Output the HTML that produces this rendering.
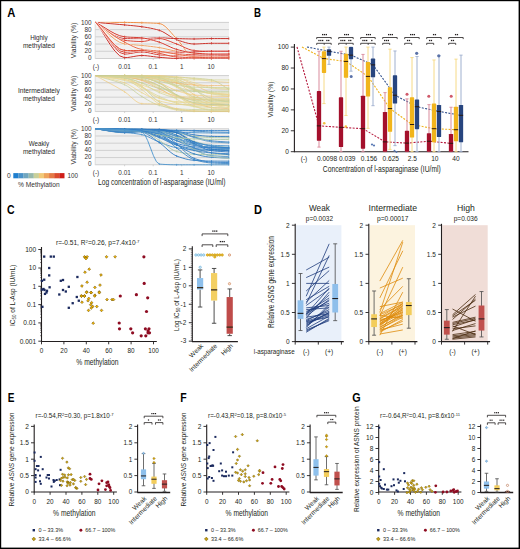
<!DOCTYPE html>
<html><head><meta charset="utf-8"><style>
html,body{margin:0;padding:0;background:#fff;overflow:hidden;}
svg{display:block;}
text{font-family:"Liberation Sans", sans-serif;}
</style></head><body>
<svg width="520" height="549" viewBox="0 0 520 549">
<rect x="0" y="0" width="520" height="549" fill="#fff"/>
<text x="7.30" y="17.20" font-size="12.3" text-anchor="start" fill="#000" font-weight="bold" textLength="8.1" lengthAdjust="spacingAndGlyphs">A</text>
<rect x="95.20" y="22.10" width="133.80" height="36.70" fill="#f1f1f1"/>
<line x1="95.20" y1="22.40" x2="229.00" y2="22.40" stroke="#d0d0d0" stroke-width="1.0"/>
<line x1="95.20" y1="29.62" x2="229.00" y2="29.62" stroke="#d0d0d0" stroke-width="1.0"/>
<line x1="95.20" y1="36.84" x2="229.00" y2="36.84" stroke="#d0d0d0" stroke-width="1.0"/>
<line x1="95.20" y1="44.06" x2="229.00" y2="44.06" stroke="#d0d0d0" stroke-width="1.0"/>
<line x1="95.20" y1="51.28" x2="229.00" y2="51.28" stroke="#d0d0d0" stroke-width="1.0"/>
<line x1="95.20" y1="58.50" x2="229.00" y2="58.50" stroke="#d0d0d0" stroke-width="1.0"/>
<line x1="95.20" y1="22.10" x2="95.20" y2="58.80" stroke="#d6d6d6" stroke-width="0.8"/>
<line x1="124.60" y1="58.50" x2="124.60" y2="60.00" stroke="#bbb" stroke-width="0.6"/>
<line x1="153.20" y1="58.50" x2="153.20" y2="60.00" stroke="#bbb" stroke-width="0.6"/>
<line x1="181.70" y1="58.50" x2="181.70" y2="60.00" stroke="#bbb" stroke-width="0.6"/>
<line x1="211.10" y1="58.50" x2="211.10" y2="60.00" stroke="#bbb" stroke-width="0.6"/>
<text x="91.60" y="24.70" font-size="6.4" text-anchor="end" fill="#333">100</text>
<text x="91.60" y="31.72" font-size="6.4" text-anchor="end" fill="#333">80</text>
<text x="91.60" y="38.74" font-size="6.4" text-anchor="end" fill="#333">60</text>
<text x="91.60" y="45.76" font-size="6.4" text-anchor="end" fill="#333">40</text>
<text x="91.60" y="52.78" font-size="6.4" text-anchor="end" fill="#333">20</text>
<text x="91.60" y="59.80" font-size="6.4" text-anchor="end" fill="#333">0</text>
<text x="96.00" y="68.70" font-size="6.4" text-anchor="middle" fill="#333">(-)</text>
<text x="124.60" y="68.70" font-size="6.4" text-anchor="middle" fill="#333">0.01</text>
<text x="153.00" y="68.70" font-size="6.4" text-anchor="middle" fill="#333">0.1</text>
<text x="181.70" y="68.70" font-size="6.4" text-anchor="middle" fill="#333">1</text>
<text x="211.00" y="68.70" font-size="6.4" text-anchor="middle" fill="#333">10</text>
<text x="76.20" y="40.45" font-size="7.6" text-anchor="middle" fill="#2a2a2a" textLength="35.6" lengthAdjust="spacingAndGlyphs" transform="rotate(-90 76.20 40.45)">Viability (%)</text>
<text x="38.90" y="39.90" font-size="7.0" text-anchor="middle" fill="#2a2a2a" textLength="17.5" lengthAdjust="spacingAndGlyphs">Highly</text>
<text x="38.90" y="47.70" font-size="7.0" text-anchor="middle" fill="#2a2a2a" textLength="32" lengthAdjust="spacingAndGlyphs">methylated</text>
<rect x="95.20" y="75.30" width="133.80" height="36.55" fill="#f1f1f1"/>
<line x1="95.20" y1="75.60" x2="229.00" y2="75.60" stroke="#d0d0d0" stroke-width="1.0"/>
<line x1="95.20" y1="82.79" x2="229.00" y2="82.79" stroke="#d0d0d0" stroke-width="1.0"/>
<line x1="95.20" y1="89.98" x2="229.00" y2="89.98" stroke="#d0d0d0" stroke-width="1.0"/>
<line x1="95.20" y1="97.17" x2="229.00" y2="97.17" stroke="#d0d0d0" stroke-width="1.0"/>
<line x1="95.20" y1="104.36" x2="229.00" y2="104.36" stroke="#d0d0d0" stroke-width="1.0"/>
<line x1="95.20" y1="111.55" x2="229.00" y2="111.55" stroke="#d0d0d0" stroke-width="1.0"/>
<line x1="95.20" y1="75.30" x2="95.20" y2="111.85" stroke="#d6d6d6" stroke-width="0.8"/>
<line x1="124.60" y1="111.55" x2="124.60" y2="113.05" stroke="#bbb" stroke-width="0.6"/>
<line x1="153.20" y1="111.55" x2="153.20" y2="113.05" stroke="#bbb" stroke-width="0.6"/>
<line x1="181.70" y1="111.55" x2="181.70" y2="113.05" stroke="#bbb" stroke-width="0.6"/>
<line x1="211.10" y1="111.55" x2="211.10" y2="113.05" stroke="#bbb" stroke-width="0.6"/>
<text x="91.60" y="77.90" font-size="6.4" text-anchor="end" fill="#333">100</text>
<text x="91.60" y="84.89" font-size="6.4" text-anchor="end" fill="#333">80</text>
<text x="91.60" y="91.88" font-size="6.4" text-anchor="end" fill="#333">60</text>
<text x="91.60" y="98.87" font-size="6.4" text-anchor="end" fill="#333">40</text>
<text x="91.60" y="105.86" font-size="6.4" text-anchor="end" fill="#333">20</text>
<text x="91.60" y="112.85" font-size="6.4" text-anchor="end" fill="#333">0</text>
<text x="96.00" y="121.75" font-size="6.4" text-anchor="middle" fill="#333">(-)</text>
<text x="124.60" y="121.75" font-size="6.4" text-anchor="middle" fill="#333">0.01</text>
<text x="153.00" y="121.75" font-size="6.4" text-anchor="middle" fill="#333">0.1</text>
<text x="181.70" y="121.75" font-size="6.4" text-anchor="middle" fill="#333">1</text>
<text x="211.00" y="121.75" font-size="6.4" text-anchor="middle" fill="#333">10</text>
<text x="76.20" y="93.57" font-size="7.6" text-anchor="middle" fill="#2a2a2a" textLength="35.6" lengthAdjust="spacingAndGlyphs" transform="rotate(-90 76.20 93.57)">Viability (%)</text>
<text x="38.90" y="93.00" font-size="7.0" text-anchor="middle" fill="#2a2a2a" textLength="42" lengthAdjust="spacingAndGlyphs">Intermediately</text>
<text x="38.90" y="100.50" font-size="7.0" text-anchor="middle" fill="#2a2a2a" textLength="32" lengthAdjust="spacingAndGlyphs">methylated</text>
<rect x="95.20" y="128.50" width="133.80" height="36.55" fill="#f1f1f1"/>
<line x1="95.20" y1="128.80" x2="229.00" y2="128.80" stroke="#d0d0d0" stroke-width="1.0"/>
<line x1="95.20" y1="135.99" x2="229.00" y2="135.99" stroke="#d0d0d0" stroke-width="1.0"/>
<line x1="95.20" y1="143.18" x2="229.00" y2="143.18" stroke="#d0d0d0" stroke-width="1.0"/>
<line x1="95.20" y1="150.37" x2="229.00" y2="150.37" stroke="#d0d0d0" stroke-width="1.0"/>
<line x1="95.20" y1="157.56" x2="229.00" y2="157.56" stroke="#d0d0d0" stroke-width="1.0"/>
<line x1="95.20" y1="164.75" x2="229.00" y2="164.75" stroke="#d0d0d0" stroke-width="1.0"/>
<line x1="95.20" y1="128.50" x2="95.20" y2="165.05" stroke="#d6d6d6" stroke-width="0.8"/>
<line x1="124.60" y1="164.75" x2="124.60" y2="166.25" stroke="#bbb" stroke-width="0.6"/>
<line x1="153.20" y1="164.75" x2="153.20" y2="166.25" stroke="#bbb" stroke-width="0.6"/>
<line x1="181.70" y1="164.75" x2="181.70" y2="166.25" stroke="#bbb" stroke-width="0.6"/>
<line x1="211.10" y1="164.75" x2="211.10" y2="166.25" stroke="#bbb" stroke-width="0.6"/>
<text x="91.60" y="131.10" font-size="6.4" text-anchor="end" fill="#333">100</text>
<text x="91.60" y="138.09" font-size="6.4" text-anchor="end" fill="#333">80</text>
<text x="91.60" y="145.08" font-size="6.4" text-anchor="end" fill="#333">60</text>
<text x="91.60" y="152.07" font-size="6.4" text-anchor="end" fill="#333">40</text>
<text x="91.60" y="159.06" font-size="6.4" text-anchor="end" fill="#333">20</text>
<text x="91.60" y="166.05" font-size="6.4" text-anchor="end" fill="#333">0</text>
<text x="96.00" y="174.95" font-size="6.4" text-anchor="middle" fill="#333">(-)</text>
<text x="124.60" y="174.95" font-size="6.4" text-anchor="middle" fill="#333">0.01</text>
<text x="153.00" y="174.95" font-size="6.4" text-anchor="middle" fill="#333">0.1</text>
<text x="181.70" y="174.95" font-size="6.4" text-anchor="middle" fill="#333">1</text>
<text x="211.00" y="174.95" font-size="6.4" text-anchor="middle" fill="#333">10</text>
<text x="76.20" y="146.78" font-size="7.6" text-anchor="middle" fill="#2a2a2a" textLength="35.6" lengthAdjust="spacingAndGlyphs" transform="rotate(-90 76.20 146.78)">Viability (%)</text>
<text x="38.90" y="146.00" font-size="7.0" text-anchor="middle" fill="#2a2a2a" textLength="20.5" lengthAdjust="spacingAndGlyphs">Weakly</text>
<text x="38.90" y="153.50" font-size="7.0" text-anchor="middle" fill="#2a2a2a" textLength="32" lengthAdjust="spacingAndGlyphs">methylated</text>
<text x="98.00" y="185.40" font-size="8.8" text-anchor="start" fill="#231f20" textLength="127.5" lengthAdjust="spacingAndGlyphs">Log concentration of l-asparaginase (IU/ml)</text>
<rect x="13.30" y="173.10" width="5.20" height="5.20" fill="#1f7fcf"/>
<rect x="18.41" y="173.10" width="5.20" height="5.20" fill="#4a92c8"/>
<rect x="23.52" y="173.10" width="5.20" height="5.20" fill="#70a6bf"/>
<rect x="28.63" y="173.10" width="5.20" height="5.20" fill="#97b8ab"/>
<rect x="33.74" y="173.10" width="5.20" height="5.20" fill="#c8d09a"/>
<rect x="38.85" y="173.10" width="5.20" height="5.20" fill="#f1c979"/>
<rect x="43.96" y="173.10" width="5.20" height="5.20" fill="#eea35c"/>
<rect x="49.07" y="173.10" width="5.20" height="5.20" fill="#e47a46"/>
<rect x="54.18" y="173.10" width="5.20" height="5.20" fill="#db4c2d"/>
<rect x="59.29" y="173.10" width="5.20" height="5.20" fill="#cf1d18"/>
<text x="7.00" y="178.20" font-size="6.6" text-anchor="start" fill="#333">0</text>
<text x="67.40" y="178.20" font-size="6.6" text-anchor="start" fill="#333" textLength="10.5" lengthAdjust="spacingAndGlyphs">100</text>
<text x="18.00" y="186.70" font-size="6.6" text-anchor="start" fill="#333" textLength="41.7" lengthAdjust="spacingAndGlyphs">% Methylation</text>
<g fill="none" stroke-width="1.0" opacity="0.95">
<path d="M95.60,22.40 L100.43,22.40 L105.27,22.40 L110.10,22.40 L114.93,22.40 L119.77,22.40 L124.60,22.40 L127.47,22.42 L130.33,22.46 L133.20,22.52 L136.07,22.60 L138.93,22.68 L141.80,22.76 L144.72,22.84 L147.63,22.92 L150.55,23.01 L153.47,23.13 L156.38,23.28 L159.30,23.48 L162.18,24.37 L165.07,26.36 L167.95,29.11 L170.83,32.29 L173.72,35.57 L176.60,38.60 L179.52,41.95 L182.43,45.96 L185.35,50.09 L188.27,53.78 L191.18,56.50 L194.10,57.68 L197.00,57.89 L199.90,58.07 L202.80,58.21 L205.70,58.32 L208.60,58.38 L211.50,58.40 L214.38,58.40 L217.27,58.40 L220.15,58.40 L223.03,58.40 L225.92,58.40 L228.80,58.40" stroke="#fff" stroke-width="2.2" opacity="0.55"/>
<path d="M95.60,22.40 L100.43,22.40 L105.27,22.40 L110.10,22.40 L114.93,22.40 L119.77,22.40 L124.60,22.40 L127.47,22.42 L130.33,22.46 L133.20,22.52 L136.07,22.60 L138.93,22.68 L141.80,22.76 L144.72,22.84 L147.63,22.92 L150.55,23.01 L153.47,23.13 L156.38,23.28 L159.30,23.48 L162.18,24.37 L165.07,26.36 L167.95,29.11 L170.83,32.29 L173.72,35.57 L176.60,38.60 L179.52,41.95 L182.43,45.96 L185.35,50.09 L188.27,53.78 L191.18,56.50 L194.10,57.68 L197.00,57.89 L199.90,58.07 L202.80,58.21 L205.70,58.32 L208.60,58.38 L211.50,58.40 L214.38,58.40 L217.27,58.40 L220.15,58.40 L223.03,58.40 L225.92,58.40 L228.80,58.40" stroke="#f08a3c"/>
<path d="M124.60,21.30 V23.50" stroke="#f08a3c" stroke-width="0.8"/>
<path d="M141.80,21.66 V23.86" stroke="#f08a3c" stroke-width="0.8"/>
<path d="M159.30,22.38 V24.58" stroke="#f08a3c" stroke-width="0.8"/>
<path d="M176.60,37.50 V39.70" stroke="#f08a3c" stroke-width="0.8"/>
<path d="M194.10,56.58 V58.78" stroke="#f08a3c" stroke-width="0.8"/>
<path d="M211.50,57.30 V59.50" stroke="#f08a3c" stroke-width="0.8"/>
<path d="M228.80,57.30 V59.50" stroke="#f08a3c" stroke-width="0.8"/>
<path d="M95.60,22.40 L100.43,22.81 L105.27,23.22 L110.10,23.63 L114.93,24.04 L119.77,24.47 L124.60,24.92 L127.47,25.19 L130.33,25.45 L133.20,25.73 L136.07,26.02 L138.93,26.35 L141.80,26.72 L144.72,27.15 L147.63,27.63 L150.55,28.17 L153.47,28.79 L156.38,29.51 L159.30,30.32 L162.18,31.47 L165.07,33.08 L167.95,34.91 L170.83,36.77 L173.72,38.43 L176.60,39.68 L179.52,40.69 L182.43,41.68 L185.35,42.58 L188.27,43.32 L191.18,43.82 L194.10,44.00 L197.00,43.95 L199.90,43.81 L202.80,43.64 L205.70,43.47 L208.60,43.33 L211.50,43.28 L214.38,43.28 L217.27,43.28 L220.15,43.28 L223.03,43.28 L225.92,43.28 L228.80,43.28" stroke="#fff" stroke-width="2.2" opacity="0.55"/>
<path d="M95.60,22.40 L100.43,22.81 L105.27,23.22 L110.10,23.63 L114.93,24.04 L119.77,24.47 L124.60,24.92 L127.47,25.19 L130.33,25.45 L133.20,25.73 L136.07,26.02 L138.93,26.35 L141.80,26.72 L144.72,27.15 L147.63,27.63 L150.55,28.17 L153.47,28.79 L156.38,29.51 L159.30,30.32 L162.18,31.47 L165.07,33.08 L167.95,34.91 L170.83,36.77 L173.72,38.43 L176.60,39.68 L179.52,40.69 L182.43,41.68 L185.35,42.58 L188.27,43.32 L191.18,43.82 L194.10,44.00 L197.00,43.95 L199.90,43.81 L202.80,43.64 L205.70,43.47 L208.60,43.33 L211.50,43.28 L214.38,43.28 L217.27,43.28 L220.15,43.28 L223.03,43.28 L225.92,43.28 L228.80,43.28" stroke="#c9281f"/>
<path d="M124.60,23.82 V26.02" stroke="#c9281f" stroke-width="0.8"/>
<path d="M141.80,25.62 V27.82" stroke="#c9281f" stroke-width="0.8"/>
<path d="M159.30,29.22 V31.42" stroke="#c9281f" stroke-width="0.8"/>
<path d="M176.60,38.58 V40.78" stroke="#c9281f" stroke-width="0.8"/>
<path d="M194.10,42.90 V45.10" stroke="#c9281f" stroke-width="0.8"/>
<path d="M211.50,42.18 V44.38" stroke="#c9281f" stroke-width="0.8"/>
<path d="M228.80,42.18 V44.38" stroke="#c9281f" stroke-width="0.8"/>
<path d="M95.60,22.40 L100.43,25.47 L105.27,29.00 L110.10,32.52 L114.93,35.60 L119.77,37.77 L124.60,38.60 L127.47,38.60 L130.33,38.60 L133.20,38.60 L136.07,38.60 L138.93,38.60 L141.80,38.60 L144.72,38.55 L147.63,38.41 L150.55,38.24 L153.47,38.07 L156.38,37.93 L159.30,37.88 L162.18,37.92 L165.07,38.03 L167.95,38.18 L170.83,38.34 L173.72,38.49 L176.60,38.60 L179.52,38.68 L182.43,38.76 L185.35,38.84 L188.27,38.90 L191.18,38.94 L194.10,38.96 L197.00,38.93 L199.90,38.87 L202.80,38.78 L205.70,38.69 L208.60,38.63 L211.50,38.60 L214.38,38.60 L217.27,38.60 L220.15,38.60 L223.03,38.60 L225.92,38.60 L228.80,38.60" stroke="#fff" stroke-width="2.2" opacity="0.55"/>
<path d="M95.60,22.40 L100.43,25.47 L105.27,29.00 L110.10,32.52 L114.93,35.60 L119.77,37.77 L124.60,38.60 L127.47,38.60 L130.33,38.60 L133.20,38.60 L136.07,38.60 L138.93,38.60 L141.80,38.60 L144.72,38.55 L147.63,38.41 L150.55,38.24 L153.47,38.07 L156.38,37.93 L159.30,37.88 L162.18,37.92 L165.07,38.03 L167.95,38.18 L170.83,38.34 L173.72,38.49 L176.60,38.60 L179.52,38.68 L182.43,38.76 L185.35,38.84 L188.27,38.90 L191.18,38.94 L194.10,38.96 L197.00,38.93 L199.90,38.87 L202.80,38.78 L205.70,38.69 L208.60,38.63 L211.50,38.60 L214.38,38.60 L217.27,38.60 L220.15,38.60 L223.03,38.60 L225.92,38.60 L228.80,38.60" stroke="#c4221c"/>
<path d="M124.60,37.50 V39.70" stroke="#c4221c" stroke-width="0.8"/>
<path d="M141.80,37.50 V39.70" stroke="#c4221c" stroke-width="0.8"/>
<path d="M159.30,36.78 V38.98" stroke="#c4221c" stroke-width="0.8"/>
<path d="M176.60,37.50 V39.70" stroke="#c4221c" stroke-width="0.8"/>
<path d="M194.10,37.86 V40.06" stroke="#c4221c" stroke-width="0.8"/>
<path d="M211.50,37.50 V39.70" stroke="#c4221c" stroke-width="0.8"/>
<path d="M228.80,37.50 V39.70" stroke="#c4221c" stroke-width="0.8"/>
<path d="M95.60,22.40 L100.43,25.75 L105.27,29.50 L110.10,33.26 L114.93,36.61 L119.77,39.13 L124.60,40.40 L127.47,40.69 L130.33,40.95 L133.20,41.17 L136.07,41.34 L138.93,41.44 L141.80,41.48 L144.72,41.27 L147.63,40.73 L150.55,40.04 L153.47,39.35 L156.38,38.81 L159.30,38.60 L162.18,38.86 L165.07,39.57 L167.95,40.57 L170.83,41.73 L173.72,42.92 L176.60,44.00 L179.52,45.14 L182.43,46.46 L185.35,47.82 L188.27,49.05 L191.18,49.99 L194.10,50.48 L197.00,50.68 L199.90,50.86 L202.80,51.00 L205.70,51.11 L208.60,51.18 L211.50,51.20 L214.38,51.20 L217.27,51.20 L220.15,51.20 L223.03,51.20 L225.92,51.20 L228.80,51.20" stroke="#fff" stroke-width="2.2" opacity="0.55"/>
<path d="M95.60,22.40 L100.43,25.75 L105.27,29.50 L110.10,33.26 L114.93,36.61 L119.77,39.13 L124.60,40.40 L127.47,40.69 L130.33,40.95 L133.20,41.17 L136.07,41.34 L138.93,41.44 L141.80,41.48 L144.72,41.27 L147.63,40.73 L150.55,40.04 L153.47,39.35 L156.38,38.81 L159.30,38.60 L162.18,38.86 L165.07,39.57 L167.95,40.57 L170.83,41.73 L173.72,42.92 L176.60,44.00 L179.52,45.14 L182.43,46.46 L185.35,47.82 L188.27,49.05 L191.18,49.99 L194.10,50.48 L197.00,50.68 L199.90,50.86 L202.80,51.00 L205.70,51.11 L208.60,51.18 L211.50,51.20 L214.38,51.20 L217.27,51.20 L220.15,51.20 L223.03,51.20 L225.92,51.20 L228.80,51.20" stroke="#d83a2c"/>
<path d="M124.60,39.30 V41.50" stroke="#d83a2c" stroke-width="0.8"/>
<path d="M141.80,40.38 V42.58" stroke="#d83a2c" stroke-width="0.8"/>
<path d="M159.30,37.50 V39.70" stroke="#d83a2c" stroke-width="0.8"/>
<path d="M176.60,42.90 V45.10" stroke="#d83a2c" stroke-width="0.8"/>
<path d="M194.10,49.38 V51.58" stroke="#d83a2c" stroke-width="0.8"/>
<path d="M211.50,50.10 V52.30" stroke="#d83a2c" stroke-width="0.8"/>
<path d="M228.80,50.10 V52.30" stroke="#d83a2c" stroke-width="0.8"/>
<path d="M95.60,22.40 L100.43,26.41 L105.27,30.90 L110.10,35.39 L114.93,39.39 L119.77,42.43 L124.60,44.00 L127.47,44.35 L130.33,44.61 L133.20,44.81 L136.07,44.99 L138.93,45.19 L141.80,45.44 L144.72,45.74 L147.63,46.06 L150.55,46.40 L153.47,46.77 L156.38,47.17 L159.30,47.60 L162.18,48.11 L165.07,48.73 L167.95,49.40 L170.83,50.07 L173.72,50.69 L176.60,51.20 L179.52,51.65 L182.43,52.08 L185.35,52.48 L188.27,52.84 L191.18,53.14 L194.10,53.36 L197.00,53.54 L199.90,53.71 L202.80,53.85 L205.70,53.97 L208.60,54.05 L211.50,54.08 L214.38,54.08 L217.27,54.08 L220.15,54.08 L223.03,54.08 L225.92,54.08 L228.80,54.08" stroke="#fff" stroke-width="2.2" opacity="0.55"/>
<path d="M95.60,22.40 L100.43,26.41 L105.27,30.90 L110.10,35.39 L114.93,39.39 L119.77,42.43 L124.60,44.00 L127.47,44.35 L130.33,44.61 L133.20,44.81 L136.07,44.99 L138.93,45.19 L141.80,45.44 L144.72,45.74 L147.63,46.06 L150.55,46.40 L153.47,46.77 L156.38,47.17 L159.30,47.60 L162.18,48.11 L165.07,48.73 L167.95,49.40 L170.83,50.07 L173.72,50.69 L176.60,51.20 L179.52,51.65 L182.43,52.08 L185.35,52.48 L188.27,52.84 L191.18,53.14 L194.10,53.36 L197.00,53.54 L199.90,53.71 L202.80,53.85 L205.70,53.97 L208.60,54.05 L211.50,54.08 L214.38,54.08 L217.27,54.08 L220.15,54.08 L223.03,54.08 L225.92,54.08 L228.80,54.08" stroke="#f0a060"/>
<path d="M124.60,42.90 V45.10" stroke="#f0a060" stroke-width="0.8"/>
<path d="M141.80,44.34 V46.54" stroke="#f0a060" stroke-width="0.8"/>
<path d="M159.30,46.50 V48.70" stroke="#f0a060" stroke-width="0.8"/>
<path d="M176.60,50.10 V52.30" stroke="#f0a060" stroke-width="0.8"/>
<path d="M194.10,52.26 V54.46" stroke="#f0a060" stroke-width="0.8"/>
<path d="M211.50,52.98 V55.18" stroke="#f0a060" stroke-width="0.8"/>
<path d="M228.80,52.98 V55.18" stroke="#f0a060" stroke-width="0.8"/>
<path d="M95.60,22.40 L100.43,27.68 L105.27,33.68 L110.10,39.68 L114.93,44.96 L119.77,48.80 L124.60,50.48 L127.47,50.66 L130.33,50.80 L133.20,50.91 L136.07,51.00 L138.93,51.09 L141.80,51.20 L144.72,51.33 L147.63,51.46 L150.55,51.59 L153.47,51.72 L156.38,51.83 L159.30,51.92 L162.18,52.00 L165.07,52.08 L167.95,52.16 L170.83,52.22 L173.72,52.26 L176.60,52.28 L179.52,52.26 L182.43,52.22 L185.35,52.16 L188.27,52.08 L191.18,52.00 L194.10,51.92 L197.00,51.81 L199.90,51.66 L202.80,51.50 L205.70,51.35 L208.60,51.24 L211.50,51.20 L214.38,51.20 L217.27,51.20 L220.15,51.20 L223.03,51.20 L225.92,51.20 L228.80,51.20" stroke="#fff" stroke-width="2.2" opacity="0.55"/>
<path d="M95.60,22.40 L100.43,27.68 L105.27,33.68 L110.10,39.68 L114.93,44.96 L119.77,48.80 L124.60,50.48 L127.47,50.66 L130.33,50.80 L133.20,50.91 L136.07,51.00 L138.93,51.09 L141.80,51.20 L144.72,51.33 L147.63,51.46 L150.55,51.59 L153.47,51.72 L156.38,51.83 L159.30,51.92 L162.18,52.00 L165.07,52.08 L167.95,52.16 L170.83,52.22 L173.72,52.26 L176.60,52.28 L179.52,52.26 L182.43,52.22 L185.35,52.16 L188.27,52.08 L191.18,52.00 L194.10,51.92 L197.00,51.81 L199.90,51.66 L202.80,51.50 L205.70,51.35 L208.60,51.24 L211.50,51.20 L214.38,51.20 L217.27,51.20 L220.15,51.20 L223.03,51.20 L225.92,51.20 L228.80,51.20" stroke="#cf2a22"/>
<path d="M124.60,49.38 V51.58" stroke="#cf2a22" stroke-width="0.8"/>
<path d="M141.80,50.10 V52.30" stroke="#cf2a22" stroke-width="0.8"/>
<path d="M159.30,50.82 V53.02" stroke="#cf2a22" stroke-width="0.8"/>
<path d="M176.60,51.18 V53.38" stroke="#cf2a22" stroke-width="0.8"/>
<path d="M194.10,50.82 V53.02" stroke="#cf2a22" stroke-width="0.8"/>
<path d="M211.50,50.10 V52.30" stroke="#cf2a22" stroke-width="0.8"/>
<path d="M228.80,50.10 V52.30" stroke="#cf2a22" stroke-width="0.8"/>
<path d="M95.60,22.40 L100.43,28.41 L105.27,35.31 L110.10,42.20 L114.93,48.21 L119.77,52.47 L124.60,54.08 L127.47,53.92 L130.33,53.52 L133.20,53.00 L136.07,52.48 L138.93,52.08 L141.80,51.92 L144.72,52.10 L147.63,52.55 L150.55,53.16 L153.47,53.82 L156.38,54.40 L159.30,54.80 L162.18,55.06 L165.07,55.31 L167.95,55.54 L170.83,55.72 L173.72,55.84 L176.60,55.88 L179.52,55.85 L182.43,55.79 L185.35,55.70 L188.27,55.61 L191.18,55.55 L194.10,55.52 L197.00,55.52 L199.90,55.52 L202.80,55.52 L205.70,55.52 L208.60,55.52 L211.50,55.52 L214.38,55.52 L217.27,55.52 L220.15,55.52 L223.03,55.52 L225.92,55.52 L228.80,55.52" stroke="#fff" stroke-width="2.2" opacity="0.55"/>
<path d="M95.60,22.40 L100.43,28.41 L105.27,35.31 L110.10,42.20 L114.93,48.21 L119.77,52.47 L124.60,54.08 L127.47,53.92 L130.33,53.52 L133.20,53.00 L136.07,52.48 L138.93,52.08 L141.80,51.92 L144.72,52.10 L147.63,52.55 L150.55,53.16 L153.47,53.82 L156.38,54.40 L159.30,54.80 L162.18,55.06 L165.07,55.31 L167.95,55.54 L170.83,55.72 L173.72,55.84 L176.60,55.88 L179.52,55.85 L182.43,55.79 L185.35,55.70 L188.27,55.61 L191.18,55.55 L194.10,55.52 L197.00,55.52 L199.90,55.52 L202.80,55.52 L205.70,55.52 L208.60,55.52 L211.50,55.52 L214.38,55.52 L217.27,55.52 L220.15,55.52 L223.03,55.52 L225.92,55.52 L228.80,55.52" stroke="#d02a20"/>
<path d="M124.60,52.98 V55.18" stroke="#d02a20" stroke-width="0.8"/>
<path d="M141.80,50.82 V53.02" stroke="#d02a20" stroke-width="0.8"/>
<path d="M159.30,53.70 V55.90" stroke="#d02a20" stroke-width="0.8"/>
<path d="M176.60,54.78 V56.98" stroke="#d02a20" stroke-width="0.8"/>
<path d="M194.10,54.42 V56.62" stroke="#d02a20" stroke-width="0.8"/>
<path d="M211.50,54.42 V56.62" stroke="#d02a20" stroke-width="0.8"/>
<path d="M228.80,54.42 V56.62" stroke="#d02a20" stroke-width="0.8"/>
<path d="M95.60,22.40 L100.43,29.10 L105.27,36.77 L110.10,44.45 L114.93,51.15 L119.77,55.88 L124.60,57.68 L127.47,57.52 L130.33,57.12 L133.20,56.60 L136.07,56.08 L138.93,55.68 L141.80,55.52 L144.72,55.62 L147.63,55.89 L150.55,56.25 L153.47,56.65 L156.38,57.03 L159.30,57.32 L162.18,57.56 L165.07,57.80 L167.95,58.03 L170.83,58.22 L173.72,58.35 L176.60,58.40 L179.52,58.40 L182.43,58.40 L185.35,58.40 L188.27,58.40 L191.18,58.40 L194.10,58.40 L197.00,58.40 L199.90,58.40 L202.80,58.40 L205.70,58.40 L208.60,58.40 L211.50,58.40 L214.38,58.40 L217.27,58.40 L220.15,58.40 L223.03,58.40 L225.92,58.40 L228.80,58.40" stroke="#fff" stroke-width="2.2" opacity="0.55"/>
<path d="M95.60,22.40 L100.43,29.10 L105.27,36.77 L110.10,44.45 L114.93,51.15 L119.77,55.88 L124.60,57.68 L127.47,57.52 L130.33,57.12 L133.20,56.60 L136.07,56.08 L138.93,55.68 L141.80,55.52 L144.72,55.62 L147.63,55.89 L150.55,56.25 L153.47,56.65 L156.38,57.03 L159.30,57.32 L162.18,57.56 L165.07,57.80 L167.95,58.03 L170.83,58.22 L173.72,58.35 L176.60,58.40 L179.52,58.40 L182.43,58.40 L185.35,58.40 L188.27,58.40 L191.18,58.40 L194.10,58.40 L197.00,58.40 L199.90,58.40 L202.80,58.40 L205.70,58.40 L208.60,58.40 L211.50,58.40 L214.38,58.40 L217.27,58.40 L220.15,58.40 L223.03,58.40 L225.92,58.40 L228.80,58.40" stroke="#c8221c"/>
<path d="M124.60,56.58 V58.78" stroke="#c8221c" stroke-width="0.8"/>
<path d="M141.80,54.42 V56.62" stroke="#c8221c" stroke-width="0.8"/>
<path d="M159.30,56.22 V58.42" stroke="#c8221c" stroke-width="0.8"/>
<path d="M176.60,57.30 V59.50" stroke="#c8221c" stroke-width="0.8"/>
<path d="M194.10,57.30 V59.50" stroke="#c8221c" stroke-width="0.8"/>
<path d="M211.50,57.30 V59.50" stroke="#c8221c" stroke-width="0.8"/>
<path d="M228.80,57.30 V59.50" stroke="#c8221c" stroke-width="0.8"/>
<path d="M95.60,22.40 L100.43,28.07 L105.27,34.57 L110.10,41.08 L114.93,46.75 L119.77,50.76 L124.60,52.28 L127.47,52.17 L130.33,51.91 L133.20,51.56 L136.07,51.21 L138.93,50.95 L141.80,50.84 L144.72,50.89 L147.63,51.02 L150.55,51.21 L153.47,51.44 L156.38,51.68 L159.30,51.92 L162.18,52.18 L165.07,52.49 L167.95,52.82 L170.83,53.15 L173.72,53.46 L176.60,53.72 L179.52,53.96 L182.43,54.20 L185.35,54.43 L188.27,54.62 L191.18,54.75 L194.10,54.80 L197.00,54.78 L199.90,54.73 L202.80,54.67 L205.70,54.59 L208.60,54.51 L211.50,54.44 L214.38,54.38 L217.27,54.32 L220.15,54.26 L223.03,54.20 L225.92,54.14 L228.80,54.08" stroke="#fff" stroke-width="2.2" opacity="0.55"/>
<path d="M95.60,22.40 L100.43,28.07 L105.27,34.57 L110.10,41.08 L114.93,46.75 L119.77,50.76 L124.60,52.28 L127.47,52.17 L130.33,51.91 L133.20,51.56 L136.07,51.21 L138.93,50.95 L141.80,50.84 L144.72,50.89 L147.63,51.02 L150.55,51.21 L153.47,51.44 L156.38,51.68 L159.30,51.92 L162.18,52.18 L165.07,52.49 L167.95,52.82 L170.83,53.15 L173.72,53.46 L176.60,53.72 L179.52,53.96 L182.43,54.20 L185.35,54.43 L188.27,54.62 L191.18,54.75 L194.10,54.80 L197.00,54.78 L199.90,54.73 L202.80,54.67 L205.70,54.59 L208.60,54.51 L211.50,54.44 L214.38,54.38 L217.27,54.32 L220.15,54.26 L223.03,54.20 L225.92,54.14 L228.80,54.08" stroke="#d63a2a"/>
<path d="M124.60,51.18 V53.38" stroke="#d63a2a" stroke-width="0.8"/>
<path d="M141.80,49.74 V51.94" stroke="#d63a2a" stroke-width="0.8"/>
<path d="M159.30,50.82 V53.02" stroke="#d63a2a" stroke-width="0.8"/>
<path d="M176.60,52.62 V54.82" stroke="#d63a2a" stroke-width="0.8"/>
<path d="M194.10,53.70 V55.90" stroke="#d63a2a" stroke-width="0.8"/>
<path d="M211.50,53.34 V55.54" stroke="#d63a2a" stroke-width="0.8"/>
<path d="M228.80,52.98 V55.18" stroke="#d63a2a" stroke-width="0.8"/>
<path d="M95.60,22.40 L100.43,25.82 L105.27,29.37 L110.10,32.93 L114.93,36.35 L119.77,39.48 L124.60,42.20 L127.47,43.68 L130.33,45.15 L133.20,46.54 L136.07,47.76 L138.93,48.74 L141.80,49.40 L144.72,49.82 L147.63,50.13 L150.55,50.38 L153.47,50.62 L156.38,50.88 L159.30,51.20 L162.18,51.61 L165.07,52.07 L167.95,52.58 L170.83,53.10 L173.72,53.61 L176.60,54.08 L179.52,54.56 L182.43,55.09 L185.35,55.60 L188.27,56.05 L191.18,56.40 L194.10,56.60 L197.00,56.70 L199.90,56.79 L202.80,56.86 L205.70,56.91 L208.60,56.95 L211.50,56.96 L214.38,56.96 L217.27,56.96 L220.15,56.96 L223.03,56.96 L225.92,56.96 L228.80,56.96" stroke="#fff" stroke-width="2.2" opacity="0.55"/>
<path d="M95.60,22.40 L100.43,25.82 L105.27,29.37 L110.10,32.93 L114.93,36.35 L119.77,39.48 L124.60,42.20 L127.47,43.68 L130.33,45.15 L133.20,46.54 L136.07,47.76 L138.93,48.74 L141.80,49.40 L144.72,49.82 L147.63,50.13 L150.55,50.38 L153.47,50.62 L156.38,50.88 L159.30,51.20 L162.18,51.61 L165.07,52.07 L167.95,52.58 L170.83,53.10 L173.72,53.61 L176.60,54.08 L179.52,54.56 L182.43,55.09 L185.35,55.60 L188.27,56.05 L191.18,56.40 L194.10,56.60 L197.00,56.70 L199.90,56.79 L202.80,56.86 L205.70,56.91 L208.60,56.95 L211.50,56.96 L214.38,56.96 L217.27,56.96 L220.15,56.96 L223.03,56.96 L225.92,56.96 L228.80,56.96" stroke="#e8603a"/>
<path d="M124.60,41.10 V43.30" stroke="#e8603a" stroke-width="0.8"/>
<path d="M141.80,48.30 V50.50" stroke="#e8603a" stroke-width="0.8"/>
<path d="M159.30,50.10 V52.30" stroke="#e8603a" stroke-width="0.8"/>
<path d="M176.60,52.98 V55.18" stroke="#e8603a" stroke-width="0.8"/>
<path d="M194.10,55.50 V57.70" stroke="#e8603a" stroke-width="0.8"/>
<path d="M211.50,55.86 V58.06" stroke="#e8603a" stroke-width="0.8"/>
<path d="M228.80,55.86 V58.06" stroke="#e8603a" stroke-width="0.8"/>
<path d="M95.60,22.40 L100.43,25.06 L105.27,28.04 L110.10,31.02 L114.93,33.68 L119.77,35.72 L124.60,36.80 L127.47,37.05 L130.33,37.22 L133.20,37.35 L136.07,37.48 L138.93,37.64 L141.80,37.88 L144.72,38.28 L147.63,38.86 L150.55,39.58 L153.47,40.41 L156.38,41.29 L159.30,42.20 L162.18,43.24 L165.07,44.51 L167.95,45.87 L170.83,47.22 L173.72,48.44 L176.60,49.40 L179.52,50.19 L182.43,50.92 L185.35,51.59 L188.27,52.18 L191.18,52.65 L194.10,53.00 L197.00,53.27 L199.90,53.53 L202.80,53.75 L205.70,53.92 L208.60,54.04 L211.50,54.08 L214.38,54.08 L217.27,54.08 L220.15,54.08 L223.03,54.08 L225.92,54.08 L228.80,54.08" stroke="#fff" stroke-width="2.2" opacity="0.55"/>
<path d="M95.60,22.40 L100.43,25.06 L105.27,28.04 L110.10,31.02 L114.93,33.68 L119.77,35.72 L124.60,36.80 L127.47,37.05 L130.33,37.22 L133.20,37.35 L136.07,37.48 L138.93,37.64 L141.80,37.88 L144.72,38.28 L147.63,38.86 L150.55,39.58 L153.47,40.41 L156.38,41.29 L159.30,42.20 L162.18,43.24 L165.07,44.51 L167.95,45.87 L170.83,47.22 L173.72,48.44 L176.60,49.40 L179.52,50.19 L182.43,50.92 L185.35,51.59 L188.27,52.18 L191.18,52.65 L194.10,53.00 L197.00,53.27 L199.90,53.53 L202.80,53.75 L205.70,53.92 L208.60,54.04 L211.50,54.08 L214.38,54.08 L217.27,54.08 L220.15,54.08 L223.03,54.08 L225.92,54.08 L228.80,54.08" stroke="#d33024"/>
<path d="M124.60,35.70 V37.90" stroke="#d33024" stroke-width="0.8"/>
<path d="M141.80,36.78 V38.98" stroke="#d33024" stroke-width="0.8"/>
<path d="M159.30,41.10 V43.30" stroke="#d33024" stroke-width="0.8"/>
<path d="M176.60,48.30 V50.50" stroke="#d33024" stroke-width="0.8"/>
<path d="M194.10,51.90 V54.10" stroke="#d33024" stroke-width="0.8"/>
<path d="M211.50,52.98 V55.18" stroke="#d33024" stroke-width="0.8"/>
<path d="M228.80,52.98 V55.18" stroke="#d33024" stroke-width="0.8"/>
<path d="M95.60,22.40 L100.43,27.73 L105.27,33.84 L110.10,39.95 L114.93,45.28 L119.77,49.05 L124.60,50.48 L127.47,50.48 L130.33,50.48 L133.20,50.48 L136.07,50.48 L138.93,50.48 L141.80,50.48 L144.72,50.62 L147.63,50.99 L150.55,51.52 L153.47,52.14 L156.38,52.77 L159.30,53.36 L162.18,53.97 L165.07,54.68 L167.95,55.41 L170.83,56.09 L173.72,56.63 L176.60,56.96 L179.52,57.15 L182.43,57.33 L185.35,57.47 L188.27,57.58 L191.18,57.65 L194.10,57.68 L197.00,57.65 L199.90,57.59 L202.80,57.50 L205.70,57.41 L208.60,57.35 L211.50,57.32 L214.38,57.32 L217.27,57.32 L220.15,57.32 L223.03,57.32 L225.92,57.32 L228.80,57.32" stroke="#fff" stroke-width="2.2" opacity="0.55"/>
<path d="M95.60,22.40 L100.43,27.73 L105.27,33.84 L110.10,39.95 L114.93,45.28 L119.77,49.05 L124.60,50.48 L127.47,50.48 L130.33,50.48 L133.20,50.48 L136.07,50.48 L138.93,50.48 L141.80,50.48 L144.72,50.62 L147.63,50.99 L150.55,51.52 L153.47,52.14 L156.38,52.77 L159.30,53.36 L162.18,53.97 L165.07,54.68 L167.95,55.41 L170.83,56.09 L173.72,56.63 L176.60,56.96 L179.52,57.15 L182.43,57.33 L185.35,57.47 L188.27,57.58 L191.18,57.65 L194.10,57.68 L197.00,57.65 L199.90,57.59 L202.80,57.50 L205.70,57.41 L208.60,57.35 L211.50,57.32 L214.38,57.32 L217.27,57.32 L220.15,57.32 L223.03,57.32 L225.92,57.32 L228.80,57.32" stroke="#e04a30"/>
<path d="M124.60,49.38 V51.58" stroke="#e04a30" stroke-width="0.8"/>
<path d="M141.80,49.38 V51.58" stroke="#e04a30" stroke-width="0.8"/>
<path d="M159.30,52.26 V54.46" stroke="#e04a30" stroke-width="0.8"/>
<path d="M176.60,55.86 V58.06" stroke="#e04a30" stroke-width="0.8"/>
<path d="M194.10,56.58 V58.78" stroke="#e04a30" stroke-width="0.8"/>
<path d="M211.50,56.22 V58.42" stroke="#e04a30" stroke-width="0.8"/>
<path d="M228.80,56.22 V58.42" stroke="#e04a30" stroke-width="0.8"/>
</g>
<g fill="none" stroke-width="0.8" opacity="0.8">
<path d="M95.60,75.60 L100.43,76.12 L105.27,76.57 L110.10,77.01 L114.93,77.53 L119.77,78.20 L124.60,79.09 L127.47,80.01 L130.33,81.45 L133.20,83.27 L136.07,85.32 L138.93,87.46 L141.80,89.54 L144.72,91.83 L147.63,94.47 L150.55,97.23 L153.47,99.89 L156.38,102.23 L159.30,104.01 L162.18,105.39 L165.07,106.68 L167.95,107.83 L170.83,108.80 L173.72,109.55 L176.60,110.05 L179.52,110.38 L182.43,110.67 L185.35,110.90 L188.27,111.10 L191.18,111.24 L194.10,111.33 L197.00,111.39 L199.90,111.44 L202.80,111.48 L205.70,111.51 L208.60,111.54 L211.50,111.55 L214.38,111.56 L217.27,111.57 L220.15,111.58 L223.03,111.58 L225.92,111.59 L228.80,111.59" stroke="#ebd27a"/>
<path d="M124.60,78.19 V79.99" stroke="#ebd27a" stroke-width="0.8"/>
<path d="M141.80,88.64 V90.44" stroke="#ebd27a" stroke-width="0.8"/>
<path d="M159.30,103.11 V104.91" stroke="#ebd27a" stroke-width="0.8"/>
<path d="M176.60,109.15 V110.95" stroke="#ebd27a" stroke-width="0.8"/>
<path d="M194.10,110.43 V112.23" stroke="#ebd27a" stroke-width="0.8"/>
<path d="M211.50,110.65 V112.45" stroke="#ebd27a" stroke-width="0.8"/>
<path d="M228.80,110.69 V112.49" stroke="#ebd27a" stroke-width="0.8"/>
<path d="M95.60,75.60 L100.43,75.66 L105.27,75.70 L110.10,75.75 L114.93,75.80 L119.77,75.88 L124.60,75.97 L127.47,76.07 L130.33,76.23 L133.20,76.43 L136.07,76.69 L138.93,76.99 L141.80,77.33 L144.72,77.80 L147.63,78.48 L150.55,79.33 L153.47,80.32 L156.38,81.44 L159.30,82.65 L162.18,84.15 L165.07,86.10 L167.95,88.32 L170.83,90.66 L173.72,92.96 L176.60,95.06 L179.52,97.12 L182.43,99.26 L185.35,101.36 L188.27,103.30 L191.18,104.96 L194.10,106.21 L197.00,107.17 L199.90,108.05 L202.80,108.82 L205.70,109.47 L208.60,109.98 L211.50,110.33 L214.38,110.57 L217.27,110.76 L220.15,110.91 L223.03,111.04 L225.92,111.18 L228.80,111.33" stroke="#cfd086"/>
<path d="M124.60,75.07 V76.87" stroke="#cfd086" stroke-width="0.8"/>
<path d="M141.80,76.43 V78.23" stroke="#cfd086" stroke-width="0.8"/>
<path d="M159.30,81.75 V83.55" stroke="#cfd086" stroke-width="0.8"/>
<path d="M176.60,94.16 V95.96" stroke="#cfd086" stroke-width="0.8"/>
<path d="M194.10,105.31 V107.11" stroke="#cfd086" stroke-width="0.8"/>
<path d="M211.50,109.43 V111.23" stroke="#cfd086" stroke-width="0.8"/>
<path d="M228.80,110.43 V112.23" stroke="#cfd086" stroke-width="0.8"/>
<path d="M95.60,75.60 L100.43,75.93 L105.27,76.21 L110.10,76.49 L114.93,76.83 L119.77,77.27 L124.60,77.86 L127.47,78.54 L130.33,79.65 L133.20,81.12 L136.07,82.81 L138.93,84.64 L141.80,86.50 L144.72,88.72 L147.63,91.45 L150.55,94.43 L153.47,97.37 L156.38,100.00 L159.30,102.06 L162.18,103.71 L165.07,105.27 L167.95,106.69 L170.83,107.91 L173.72,108.85 L176.60,109.45 L179.52,109.84 L182.43,110.18 L185.35,110.46 L188.27,110.69 L191.18,110.85 L194.10,110.95 L197.00,111.02 L199.90,111.07 L202.80,111.12 L205.70,111.15 L208.60,111.18 L211.50,111.20 L214.38,111.21 L217.27,111.21 L220.15,111.22 L223.03,111.22 L225.92,111.23 L228.80,111.23" stroke="#b9c88e"/>
<path d="M124.60,76.96 V78.76" stroke="#b9c88e" stroke-width="0.8"/>
<path d="M141.80,85.60 V87.40" stroke="#b9c88e" stroke-width="0.8"/>
<path d="M159.30,101.16 V102.96" stroke="#b9c88e" stroke-width="0.8"/>
<path d="M176.60,108.55 V110.35" stroke="#b9c88e" stroke-width="0.8"/>
<path d="M194.10,110.05 V111.85" stroke="#b9c88e" stroke-width="0.8"/>
<path d="M211.50,110.30 V112.10" stroke="#b9c88e" stroke-width="0.8"/>
<path d="M228.80,110.33 V112.13" stroke="#b9c88e" stroke-width="0.8"/>
<path d="M95.60,75.60 L100.43,75.62 L105.27,75.63 L110.10,75.65 L114.93,75.67 L119.77,75.69 L124.60,75.73 L127.47,75.76 L130.33,75.82 L133.20,75.89 L136.07,75.99 L138.93,76.10 L141.80,76.22 L144.72,76.41 L147.63,76.67 L150.55,77.02 L153.47,77.45 L156.38,77.94 L159.30,78.51 L162.18,79.28 L165.07,80.37 L167.95,81.71 L170.83,83.22 L173.72,84.85 L176.60,86.52 L179.52,88.46 L182.43,90.76 L185.35,93.25 L188.27,95.74 L191.18,98.05 L194.10,99.97 L197.00,101.64 L199.90,103.27 L202.80,104.78 L205.70,106.11 L208.60,107.20 L211.50,107.97 L214.38,108.50 L217.27,108.92 L220.15,109.27 L223.03,109.59 L225.92,109.90 L228.80,110.26" stroke="#e9d07e"/>
<path d="M124.60,74.83 V76.63" stroke="#e9d07e" stroke-width="0.8"/>
<path d="M141.80,75.32 V77.12" stroke="#e9d07e" stroke-width="0.8"/>
<path d="M159.30,77.61 V79.41" stroke="#e9d07e" stroke-width="0.8"/>
<path d="M176.60,85.62 V87.42" stroke="#e9d07e" stroke-width="0.8"/>
<path d="M194.10,99.07 V100.87" stroke="#e9d07e" stroke-width="0.8"/>
<path d="M211.50,107.07 V108.87" stroke="#e9d07e" stroke-width="0.8"/>
<path d="M228.80,109.36 V111.16" stroke="#e9d07e" stroke-width="0.8"/>
<path d="M95.60,75.60 L100.43,75.79 L105.27,75.96 L110.10,76.13 L114.93,76.32 L119.77,76.57 L124.60,76.88 L127.47,77.16 L130.33,77.56 L133.20,78.05 L136.07,78.64 L138.93,79.30 L141.80,80.02 L144.72,80.92 L147.63,82.07 L150.55,83.41 L153.47,84.89 L156.38,86.44 L159.30,88.02 L162.18,89.72 L165.07,91.66 L167.95,93.70 L170.83,95.74 L173.72,97.64 L176.60,99.28 L179.52,100.77 L182.43,102.22 L185.35,103.58 L188.27,104.81 L191.18,105.85 L194.10,106.65 L197.00,107.29 L199.90,107.87 L202.80,108.38 L205.70,108.81 L208.60,109.16 L211.50,109.42 L214.38,109.60 L217.27,109.75 L220.15,109.87 L223.03,109.99 L225.92,110.10 L228.80,110.22" stroke="#e6d688"/>
<path d="M124.60,75.98 V77.78" stroke="#e6d688" stroke-width="0.8"/>
<path d="M141.80,79.12 V80.92" stroke="#e6d688" stroke-width="0.8"/>
<path d="M159.30,87.12 V88.92" stroke="#e6d688" stroke-width="0.8"/>
<path d="M176.60,98.38 V100.18" stroke="#e6d688" stroke-width="0.8"/>
<path d="M194.10,105.75 V107.55" stroke="#e6d688" stroke-width="0.8"/>
<path d="M211.50,108.52 V110.32" stroke="#e6d688" stroke-width="0.8"/>
<path d="M228.80,109.32 V111.12" stroke="#e6d688" stroke-width="0.8"/>
<path d="M95.60,75.60 L100.43,77.03 L105.27,78.35 L110.10,79.68 L114.93,81.11 L119.77,82.75 L124.60,84.71 L127.47,86.23 L130.33,88.15 L133.20,90.29 L136.07,92.50 L138.93,94.62 L141.80,96.48 L144.72,98.22 L147.63,99.96 L150.55,101.63 L153.47,103.15 L156.38,104.44 L159.30,105.42 L162.18,106.18 L165.07,106.87 L167.95,107.48 L170.83,107.99 L173.72,108.40 L176.60,108.68 L179.52,108.90 L182.43,109.08 L185.35,109.24 L188.27,109.37 L191.18,109.47 L194.10,109.54 L197.00,109.59 L199.90,109.63 L202.80,109.67 L205.70,109.70 L208.60,109.72 L211.50,109.74 L214.38,109.75 L217.27,109.76 L220.15,109.77 L223.03,109.77 L225.92,109.78 L228.80,109.79" stroke="#c2cc8a"/>
<path d="M124.60,83.81 V85.61" stroke="#c2cc8a" stroke-width="0.8"/>
<path d="M141.80,95.58 V97.38" stroke="#c2cc8a" stroke-width="0.8"/>
<path d="M159.30,104.52 V106.32" stroke="#c2cc8a" stroke-width="0.8"/>
<path d="M176.60,107.78 V109.58" stroke="#c2cc8a" stroke-width="0.8"/>
<path d="M194.10,108.64 V110.44" stroke="#c2cc8a" stroke-width="0.8"/>
<path d="M211.50,108.84 V110.64" stroke="#c2cc8a" stroke-width="0.8"/>
<path d="M228.80,108.89 V110.69" stroke="#c2cc8a" stroke-width="0.8"/>
<path d="M95.60,75.60 L100.43,75.80 L105.27,75.98 L110.10,76.16 L114.93,76.36 L119.77,76.61 L124.60,76.93 L127.47,77.18 L130.33,77.52 L133.20,77.93 L136.07,78.41 L138.93,78.95 L141.80,79.53 L144.72,80.25 L147.63,81.13 L150.55,82.15 L153.47,83.27 L156.38,84.47 L159.30,85.72 L162.18,87.09 L165.07,88.65 L167.95,90.33 L170.83,92.05 L173.72,93.71 L176.60,95.25 L179.52,96.73 L182.43,98.23 L185.35,99.69 L188.27,101.05 L191.18,102.27 L194.10,103.28 L197.00,104.14 L199.90,104.94 L202.80,105.66 L205.70,106.30 L208.60,106.84 L211.50,107.26 L214.38,107.59 L217.27,107.86 L220.15,108.09 L223.03,108.30 L225.92,108.51 L228.80,108.74" stroke="#f0b060"/>
<path d="M124.60,76.03 V77.83" stroke="#f0b060" stroke-width="0.8"/>
<path d="M141.80,78.63 V80.43" stroke="#f0b060" stroke-width="0.8"/>
<path d="M159.30,84.82 V86.62" stroke="#f0b060" stroke-width="0.8"/>
<path d="M176.60,94.35 V96.15" stroke="#f0b060" stroke-width="0.8"/>
<path d="M194.10,102.38 V104.18" stroke="#f0b060" stroke-width="0.8"/>
<path d="M211.50,106.36 V108.16" stroke="#f0b060" stroke-width="0.8"/>
<path d="M228.80,107.84 V109.64" stroke="#f0b060" stroke-width="0.8"/>
<path d="M95.60,75.60 L100.43,75.65 L105.27,75.69 L110.10,75.73 L114.93,75.78 L119.77,75.85 L124.60,75.93 L127.47,76.00 L130.33,76.11 L133.20,76.24 L136.07,76.41 L138.93,76.60 L141.80,76.81 L144.72,77.09 L147.63,77.47 L150.55,77.93 L153.47,78.47 L156.38,79.09 L159.30,79.77 L162.18,80.62 L165.07,81.71 L167.95,82.98 L170.83,84.38 L173.72,85.85 L176.60,87.33 L179.52,88.95 L182.43,90.78 L185.35,92.70 L188.27,94.62 L191.18,96.41 L194.10,97.98 L197.00,99.39 L199.90,100.76 L202.80,102.06 L205.70,103.23 L208.60,104.23 L211.50,105.00 L214.38,105.58 L217.27,106.06 L220.15,106.48 L223.03,106.86 L225.92,107.24 L228.80,107.65" stroke="#efcf78"/>
<path d="M124.60,75.03 V76.83" stroke="#efcf78" stroke-width="0.8"/>
<path d="M141.80,75.91 V77.71" stroke="#efcf78" stroke-width="0.8"/>
<path d="M159.30,78.87 V80.67" stroke="#efcf78" stroke-width="0.8"/>
<path d="M176.60,86.43 V88.23" stroke="#efcf78" stroke-width="0.8"/>
<path d="M194.10,97.08 V98.88" stroke="#efcf78" stroke-width="0.8"/>
<path d="M211.50,104.10 V105.90" stroke="#efcf78" stroke-width="0.8"/>
<path d="M228.80,106.75 V108.55" stroke="#efcf78" stroke-width="0.8"/>
<path d="M95.60,75.60 L100.43,76.37 L105.27,77.09 L110.10,77.80 L114.93,78.57 L119.77,79.47 L124.60,80.54 L127.47,81.36 L130.33,82.36 L133.20,83.50 L136.07,84.73 L138.93,86.02 L141.80,87.32 L144.72,88.71 L147.63,90.25 L150.55,91.85 L153.47,93.46 L156.38,94.99 L159.30,96.38 L162.18,97.68 L165.07,98.96 L167.95,100.19 L170.83,101.32 L173.72,102.32 L176.60,103.13 L179.52,103.83 L182.43,104.46 L185.35,105.04 L188.27,105.54 L191.18,105.95 L194.10,106.28 L197.00,106.55 L199.90,106.79 L202.80,107.00 L205.70,107.18 L208.60,107.32 L211.50,107.44 L214.38,107.52 L217.27,107.59 L220.15,107.65 L223.03,107.71 L225.92,107.76 L228.80,107.82" stroke="#d5d48c"/>
<path d="M124.60,79.64 V81.44" stroke="#d5d48c" stroke-width="0.8"/>
<path d="M141.80,86.42 V88.22" stroke="#d5d48c" stroke-width="0.8"/>
<path d="M159.30,95.48 V97.28" stroke="#d5d48c" stroke-width="0.8"/>
<path d="M176.60,102.23 V104.03" stroke="#d5d48c" stroke-width="0.8"/>
<path d="M194.10,105.38 V107.18" stroke="#d5d48c" stroke-width="0.8"/>
<path d="M211.50,106.54 V108.34" stroke="#d5d48c" stroke-width="0.8"/>
<path d="M228.80,106.92 V108.72" stroke="#d5d48c" stroke-width="0.8"/>
<path d="M95.60,75.60 L100.43,75.60 L105.27,75.60 L110.10,75.61 L114.93,75.61 L119.77,75.61 L124.60,75.62 L127.47,75.62 L130.33,75.63 L133.20,75.64 L136.07,75.66 L138.93,75.68 L141.80,75.70 L144.72,75.73 L147.63,75.79 L150.55,75.86 L153.47,75.95 L156.38,76.07 L159.30,76.20 L162.18,76.40 L165.07,76.73 L167.95,77.16 L170.83,77.69 L173.72,78.30 L176.60,79.00 L179.52,80.00 L182.43,81.45 L185.35,83.21 L188.27,85.16 L191.18,87.18 L194.10,89.13 L197.00,91.19 L199.90,93.53 L202.80,95.95 L205.70,98.24 L208.60,100.20 L211.50,101.65 L214.38,102.66 L217.27,103.48 L220.15,104.20 L223.03,104.85 L225.92,105.50 L228.80,106.21" stroke="#c8cc80"/>
<path d="M124.60,74.72 V76.52" stroke="#c8cc80" stroke-width="0.8"/>
<path d="M141.80,74.80 V76.60" stroke="#c8cc80" stroke-width="0.8"/>
<path d="M159.30,75.30 V77.10" stroke="#c8cc80" stroke-width="0.8"/>
<path d="M176.60,78.10 V79.90" stroke="#c8cc80" stroke-width="0.8"/>
<path d="M194.10,88.23 V90.03" stroke="#c8cc80" stroke-width="0.8"/>
<path d="M211.50,100.75 V102.55" stroke="#c8cc80" stroke-width="0.8"/>
<path d="M228.80,105.31 V107.11" stroke="#c8cc80" stroke-width="0.8"/>
<path d="M95.60,75.60 L100.43,75.61 L105.27,75.61 L110.10,75.62 L114.93,75.63 L119.77,75.64 L124.60,75.65 L127.47,75.67 L130.33,75.69 L133.20,75.73 L136.07,75.77 L138.93,75.83 L141.80,75.89 L144.72,75.98 L147.63,76.12 L150.55,76.30 L153.47,76.53 L156.38,76.81 L159.30,77.12 L162.18,77.58 L165.07,78.26 L167.95,79.13 L170.83,80.15 L173.72,81.28 L176.60,82.48 L179.52,84.00 L182.43,85.96 L185.35,88.17 L188.27,90.45 L191.18,92.64 L194.10,94.54 L197.00,96.28 L199.90,98.04 L202.80,99.72 L205.70,101.24 L208.60,102.48 L211.50,103.36 L214.38,103.95 L217.27,104.42 L220.15,104.82 L223.03,105.18 L225.92,105.53 L228.80,105.93" stroke="#f2c46c"/>
<path d="M124.60,74.75 V76.55" stroke="#f2c46c" stroke-width="0.8"/>
<path d="M141.80,74.99 V76.79" stroke="#f2c46c" stroke-width="0.8"/>
<path d="M159.30,76.22 V78.02" stroke="#f2c46c" stroke-width="0.8"/>
<path d="M176.60,81.58 V83.38" stroke="#f2c46c" stroke-width="0.8"/>
<path d="M194.10,93.64 V95.44" stroke="#f2c46c" stroke-width="0.8"/>
<path d="M211.50,102.46 V104.26" stroke="#f2c46c" stroke-width="0.8"/>
<path d="M228.80,105.03 V106.83" stroke="#f2c46c" stroke-width="0.8"/>
<path d="M95.60,75.60 L100.43,76.73 L105.27,77.78 L110.10,78.82 L114.93,79.96 L119.77,81.27 L124.60,82.84 L127.47,84.08 L130.33,85.64 L133.20,87.41 L136.07,89.24 L138.93,91.03 L141.80,92.64 L144.72,94.19 L147.63,95.77 L150.55,97.31 L153.47,98.73 L156.38,99.95 L159.30,100.91 L162.18,101.67 L165.07,102.37 L167.95,102.99 L170.83,103.51 L173.72,103.94 L176.60,104.24 L179.52,104.47 L182.43,104.67 L185.35,104.84 L188.27,104.99 L191.18,105.10 L194.10,105.17 L197.00,105.23 L199.90,105.28 L202.80,105.32 L205.70,105.36 L208.60,105.39 L211.50,105.41 L214.38,105.42 L217.27,105.43 L220.15,105.44 L223.03,105.45 L225.92,105.45 L228.80,105.46" stroke="#ebd27a"/>
<path d="M124.60,81.94 V83.74" stroke="#ebd27a" stroke-width="0.8"/>
<path d="M141.80,91.74 V93.54" stroke="#ebd27a" stroke-width="0.8"/>
<path d="M159.30,100.01 V101.81" stroke="#ebd27a" stroke-width="0.8"/>
<path d="M176.60,103.34 V105.14" stroke="#ebd27a" stroke-width="0.8"/>
<path d="M194.10,104.27 V106.07" stroke="#ebd27a" stroke-width="0.8"/>
<path d="M211.50,104.51 V106.31" stroke="#ebd27a" stroke-width="0.8"/>
<path d="M228.80,104.56 V106.36" stroke="#ebd27a" stroke-width="0.8"/>
<path d="M95.60,75.60 L100.43,75.82 L105.27,76.01 L110.10,76.21 L114.93,76.42 L119.77,76.69 L124.60,77.03 L127.47,77.32 L130.33,77.69 L133.20,78.16 L136.07,78.69 L138.93,79.29 L141.80,79.93 L144.72,80.71 L147.63,81.66 L150.55,82.75 L153.47,83.93 L156.38,85.16 L159.30,86.40 L162.18,87.72 L165.07,89.18 L167.95,90.71 L170.83,92.23 L173.72,93.66 L176.60,94.92 L179.52,96.08 L182.43,97.21 L185.35,98.28 L188.27,99.25 L191.18,100.09 L194.10,100.76 L197.00,101.31 L199.90,101.82 L202.80,102.27 L205.70,102.66 L208.60,102.98 L211.50,103.22 L214.38,103.41 L217.27,103.56 L220.15,103.68 L223.03,103.80 L225.92,103.92 L228.80,104.04" stroke="#cfd086"/>
<path d="M124.60,76.13 V77.93" stroke="#cfd086" stroke-width="0.8"/>
<path d="M141.80,79.03 V80.83" stroke="#cfd086" stroke-width="0.8"/>
<path d="M159.30,85.50 V87.30" stroke="#cfd086" stroke-width="0.8"/>
<path d="M176.60,94.02 V95.82" stroke="#cfd086" stroke-width="0.8"/>
<path d="M194.10,99.86 V101.66" stroke="#cfd086" stroke-width="0.8"/>
<path d="M211.50,102.32 V104.12" stroke="#cfd086" stroke-width="0.8"/>
<path d="M228.80,103.14 V104.94" stroke="#cfd086" stroke-width="0.8"/>
<path d="M95.60,75.60 L100.43,75.61 L105.27,75.62 L110.10,75.63 L114.93,75.64 L119.77,75.66 L124.60,75.68 L127.47,75.70 L130.33,75.73 L133.20,75.77 L136.07,75.82 L138.93,75.87 L141.80,75.94 L144.72,76.03 L147.63,76.16 L150.55,76.32 L153.47,76.52 L156.38,76.75 L159.30,77.01 L162.18,77.37 L165.07,77.86 L167.95,78.48 L170.83,79.19 L173.72,79.99 L176.60,80.85 L179.52,81.92 L182.43,83.27 L185.35,84.81 L188.27,86.44 L191.18,88.08 L194.10,89.62 L197.00,91.16 L199.90,92.80 L202.80,94.43 L205.70,95.98 L208.60,97.33 L211.50,98.40 L214.38,99.22 L217.27,99.91 L220.15,100.52 L223.03,101.08 L225.92,101.65 L228.80,102.26" stroke="#b9c88e"/>
<path d="M124.60,74.78 V76.58" stroke="#b9c88e" stroke-width="0.8"/>
<path d="M141.80,75.04 V76.84" stroke="#b9c88e" stroke-width="0.8"/>
<path d="M159.30,76.11 V77.91" stroke="#b9c88e" stroke-width="0.8"/>
<path d="M176.60,79.95 V81.75" stroke="#b9c88e" stroke-width="0.8"/>
<path d="M194.10,88.72 V90.52" stroke="#b9c88e" stroke-width="0.8"/>
<path d="M211.50,97.50 V99.30" stroke="#b9c88e" stroke-width="0.8"/>
<path d="M228.80,101.36 V103.16" stroke="#b9c88e" stroke-width="0.8"/>
<path d="M95.60,75.60 L100.43,75.96 L105.27,76.27 L110.10,76.58 L114.93,76.94 L119.77,77.41 L124.60,78.05 L127.47,78.75 L130.33,79.90 L133.20,81.37 L136.07,83.03 L138.93,84.75 L141.80,86.43 L144.72,88.26 L147.63,90.39 L150.55,92.60 L153.47,94.72 L156.38,96.54 L159.30,97.88 L162.18,98.87 L165.07,99.77 L167.95,100.58 L170.83,101.24 L173.72,101.75 L176.60,102.06 L179.52,102.26 L182.43,102.44 L185.35,102.58 L188.27,102.69 L191.18,102.77 L194.10,102.82 L197.00,102.85 L199.90,102.88 L202.80,102.90 L205.70,102.92 L208.60,102.93 L211.50,102.94 L214.38,102.94 L217.27,102.95 L220.15,102.95 L223.03,102.95 L225.92,102.95 L228.80,102.96" stroke="#e9d07e"/>
<path d="M124.60,77.15 V78.95" stroke="#e9d07e" stroke-width="0.8"/>
<path d="M141.80,85.53 V87.33" stroke="#e9d07e" stroke-width="0.8"/>
<path d="M159.30,96.98 V98.78" stroke="#e9d07e" stroke-width="0.8"/>
<path d="M176.60,101.16 V102.96" stroke="#e9d07e" stroke-width="0.8"/>
<path d="M194.10,101.92 V103.72" stroke="#e9d07e" stroke-width="0.8"/>
<path d="M211.50,102.04 V103.84" stroke="#e9d07e" stroke-width="0.8"/>
<path d="M228.80,102.06 V103.86" stroke="#e9d07e" stroke-width="0.8"/>
<path d="M95.60,75.60 L100.43,75.98 L105.27,76.30 L110.10,76.62 L114.93,77.00 L119.77,77.49 L124.60,78.16 L127.47,78.94 L130.33,80.22 L133.20,81.86 L136.07,83.70 L138.93,85.58 L141.80,87.35 L144.72,89.21 L147.63,91.32 L150.55,93.48 L153.47,95.51 L156.38,97.20 L159.30,98.37 L162.18,99.17 L165.07,99.90 L167.95,100.53 L170.83,101.04 L173.72,101.42 L176.60,101.65 L179.52,101.79 L182.43,101.90 L185.35,102.00 L188.27,102.07 L191.18,102.13 L194.10,102.16 L197.00,102.18 L199.90,102.19 L202.80,102.21 L205.70,102.22 L208.60,102.22 L211.50,102.23 L214.38,102.23 L217.27,102.23 L220.15,102.23 L223.03,102.24 L225.92,102.24 L228.80,102.24" stroke="#e6d688"/>
<path d="M124.60,77.26 V79.06" stroke="#e6d688" stroke-width="0.8"/>
<path d="M141.80,86.45 V88.25" stroke="#e6d688" stroke-width="0.8"/>
<path d="M159.30,97.47 V99.27" stroke="#e6d688" stroke-width="0.8"/>
<path d="M176.60,100.75 V102.55" stroke="#e6d688" stroke-width="0.8"/>
<path d="M194.10,101.26 V103.06" stroke="#e6d688" stroke-width="0.8"/>
<path d="M211.50,101.33 V103.13" stroke="#e6d688" stroke-width="0.8"/>
<path d="M228.80,101.34 V103.14" stroke="#e6d688" stroke-width="0.8"/>
<path d="M95.60,75.60 L100.43,75.69 L105.27,75.77 L110.10,75.84 L114.93,75.93 L119.77,76.05 L124.60,76.22 L127.47,76.38 L130.33,76.65 L133.20,77.00 L136.07,77.44 L138.93,77.93 L141.80,78.48 L144.72,79.24 L147.63,80.28 L150.55,81.53 L153.47,82.92 L156.38,84.36 L159.30,85.80 L162.18,87.34 L165.07,89.11 L167.95,90.96 L170.83,92.75 L173.72,94.34 L176.60,95.58 L179.52,96.60 L182.43,97.55 L185.35,98.40 L188.27,99.13 L191.18,99.71 L194.10,100.11 L197.00,100.40 L199.90,100.64 L202.80,100.85 L205.70,101.02 L208.60,101.15 L211.50,101.24 L214.38,101.29 L217.27,101.33 L220.15,101.37 L223.03,101.40 L225.92,101.43 L228.80,101.46" stroke="#c2cc8a"/>
<path d="M124.60,75.32 V77.12" stroke="#c2cc8a" stroke-width="0.8"/>
<path d="M141.80,77.58 V79.38" stroke="#c2cc8a" stroke-width="0.8"/>
<path d="M159.30,84.90 V86.70" stroke="#c2cc8a" stroke-width="0.8"/>
<path d="M176.60,94.68 V96.48" stroke="#c2cc8a" stroke-width="0.8"/>
<path d="M194.10,99.21 V101.01" stroke="#c2cc8a" stroke-width="0.8"/>
<path d="M211.50,100.34 V102.14" stroke="#c2cc8a" stroke-width="0.8"/>
<path d="M228.80,100.56 V102.36" stroke="#c2cc8a" stroke-width="0.8"/>
<path d="M95.60,75.60 L100.43,75.78 L105.27,75.93 L110.10,76.09 L114.93,76.26 L119.77,76.50 L124.60,76.80 L127.47,77.11 L130.33,77.57 L133.20,78.17 L136.07,78.87 L138.93,79.65 L141.80,80.49 L144.72,81.54 L147.63,82.87 L150.55,84.39 L153.47,85.99 L156.38,87.57 L159.30,89.01 L162.18,90.39 L165.07,91.84 L167.95,93.26 L170.83,94.58 L173.72,95.69 L176.60,96.53 L179.52,97.17 L182.43,97.75 L185.35,98.26 L188.27,98.69 L191.18,99.02 L194.10,99.25 L197.00,99.42 L199.90,99.56 L202.80,99.68 L205.70,99.78 L208.60,99.85 L211.50,99.90 L214.38,99.94 L217.27,99.96 L220.15,99.99 L223.03,100.00 L225.92,100.02 L228.80,100.04" stroke="#f0b060"/>
<path d="M124.60,75.90 V77.70" stroke="#f0b060" stroke-width="0.8"/>
<path d="M141.80,79.59 V81.39" stroke="#f0b060" stroke-width="0.8"/>
<path d="M159.30,88.11 V89.91" stroke="#f0b060" stroke-width="0.8"/>
<path d="M176.60,95.63 V97.43" stroke="#f0b060" stroke-width="0.8"/>
<path d="M194.10,98.35 V100.15" stroke="#f0b060" stroke-width="0.8"/>
<path d="M211.50,99.00 V100.80" stroke="#f0b060" stroke-width="0.8"/>
<path d="M228.80,99.14 V100.94" stroke="#f0b060" stroke-width="0.8"/>
<path d="M95.60,75.60 L100.43,76.25 L105.27,76.85 L110.10,77.45 L114.93,78.10 L119.77,78.84 L124.60,79.72 L127.47,80.37 L130.33,81.16 L133.20,82.05 L136.07,83.00 L138.93,83.97 L141.80,84.94 L144.72,85.96 L147.63,87.06 L150.55,88.20 L153.47,89.31 L156.38,90.37 L159.30,91.31 L162.18,92.16 L165.07,93.00 L167.95,93.80 L170.83,94.52 L173.72,95.15 L176.60,95.66 L179.52,96.10 L182.43,96.49 L185.35,96.84 L188.27,97.15 L191.18,97.40 L194.10,97.60 L197.00,97.76 L199.90,97.91 L202.80,98.03 L205.70,98.14 L208.60,98.23 L211.50,98.30 L214.38,98.35 L217.27,98.39 L220.15,98.43 L223.03,98.46 L225.92,98.49 L228.80,98.53" stroke="#efcf78"/>
<path d="M124.60,78.82 V80.62" stroke="#efcf78" stroke-width="0.8"/>
<path d="M141.80,84.04 V85.84" stroke="#efcf78" stroke-width="0.8"/>
<path d="M159.30,90.41 V92.21" stroke="#efcf78" stroke-width="0.8"/>
<path d="M176.60,94.76 V96.56" stroke="#efcf78" stroke-width="0.8"/>
<path d="M194.10,96.70 V98.50" stroke="#efcf78" stroke-width="0.8"/>
<path d="M211.50,97.40 V99.20" stroke="#efcf78" stroke-width="0.8"/>
<path d="M228.80,97.63 V99.43" stroke="#efcf78" stroke-width="0.8"/>
<path d="M95.60,75.60 L100.43,75.62 L105.27,75.64 L110.10,75.66 L114.93,75.69 L119.77,75.71 L124.60,75.75 L127.47,75.79 L130.33,75.84 L133.20,75.90 L136.07,75.98 L138.93,76.07 L141.80,76.17 L144.72,76.30 L147.63,76.48 L150.55,76.70 L153.47,76.97 L156.38,77.27 L159.30,77.61 L162.18,78.04 L165.07,78.60 L167.95,79.27 L170.83,80.03 L173.72,80.84 L176.60,81.68 L179.52,82.64 L182.43,83.76 L185.35,84.98 L188.27,86.23 L191.18,87.43 L194.10,88.53 L197.00,89.55 L199.90,90.59 L202.80,91.60 L205.70,92.52 L208.60,93.33 L211.50,93.96 L214.38,94.45 L217.27,94.86 L220.15,95.22 L223.03,95.55 L225.92,95.89 L228.80,96.24" stroke="#d5d48c"/>
<path d="M124.60,74.85 V76.65" stroke="#d5d48c" stroke-width="0.8"/>
<path d="M141.80,75.27 V77.07" stroke="#d5d48c" stroke-width="0.8"/>
<path d="M159.30,76.71 V78.51" stroke="#d5d48c" stroke-width="0.8"/>
<path d="M176.60,80.78 V82.58" stroke="#d5d48c" stroke-width="0.8"/>
<path d="M194.10,87.63 V89.43" stroke="#d5d48c" stroke-width="0.8"/>
<path d="M211.50,93.06 V94.86" stroke="#d5d48c" stroke-width="0.8"/>
<path d="M228.80,95.34 V97.14" stroke="#d5d48c" stroke-width="0.8"/>
<path d="M95.60,75.60 L100.43,75.63 L105.27,75.66 L110.10,75.69 L114.93,75.73 L119.77,75.77 L124.60,75.83 L127.47,75.88 L130.33,75.95 L133.20,76.04 L136.07,76.15 L138.93,76.28 L141.80,76.43 L144.72,76.61 L147.63,76.86 L150.55,77.16 L153.47,77.52 L156.38,77.92 L159.30,78.36 L162.18,78.90 L165.07,79.59 L167.95,80.38 L170.83,81.26 L173.72,82.17 L176.60,83.08 L179.52,84.06 L182.43,85.16 L185.35,86.31 L188.27,87.45 L191.18,88.51 L194.10,89.44 L197.00,90.26 L199.90,91.07 L202.80,91.83 L205.70,92.52 L208.60,93.10 L211.50,93.55 L214.38,93.89 L217.27,94.17 L220.15,94.42 L223.03,94.64 L225.92,94.87 L228.80,95.11" stroke="#c8cc80"/>
<path d="M124.60,74.93 V76.73" stroke="#c8cc80" stroke-width="0.8"/>
<path d="M141.80,75.53 V77.33" stroke="#c8cc80" stroke-width="0.8"/>
<path d="M159.30,77.46 V79.26" stroke="#c8cc80" stroke-width="0.8"/>
<path d="M176.60,82.18 V83.98" stroke="#c8cc80" stroke-width="0.8"/>
<path d="M194.10,88.54 V90.34" stroke="#c8cc80" stroke-width="0.8"/>
<path d="M211.50,92.65 V94.45" stroke="#c8cc80" stroke-width="0.8"/>
<path d="M228.80,94.21 V96.01" stroke="#c8cc80" stroke-width="0.8"/>
<path d="M95.60,75.60 L100.43,75.60 L105.27,75.60 L110.10,75.60 L114.93,75.60 L119.77,75.60 L124.60,75.61 L127.47,75.61 L130.33,75.61 L133.20,75.62 L136.07,75.63 L138.93,75.63 L141.80,75.65 L144.72,75.66 L147.63,75.69 L150.55,75.73 L153.47,75.79 L156.38,75.85 L159.30,75.92 L162.18,76.05 L165.07,76.25 L167.95,76.53 L170.83,76.87 L173.72,77.27 L176.60,77.73 L179.52,78.41 L182.43,79.43 L185.35,80.68 L188.27,82.05 L191.18,83.44 L194.10,84.74 L197.00,86.07 L199.90,87.56 L202.80,89.06 L205.70,90.45 L208.60,91.62 L211.50,92.41 L214.38,92.92 L217.27,93.33 L220.15,93.67 L223.03,93.98 L225.92,94.29 L228.80,94.63" stroke="#f2c46c"/>
<path d="M124.60,74.71 V76.51" stroke="#f2c46c" stroke-width="0.8"/>
<path d="M141.80,74.75 V76.55" stroke="#f2c46c" stroke-width="0.8"/>
<path d="M159.30,75.02 V76.82" stroke="#f2c46c" stroke-width="0.8"/>
<path d="M176.60,76.83 V78.63" stroke="#f2c46c" stroke-width="0.8"/>
<path d="M194.10,83.84 V85.64" stroke="#f2c46c" stroke-width="0.8"/>
<path d="M211.50,91.51 V93.31" stroke="#f2c46c" stroke-width="0.8"/>
<path d="M228.80,93.73 V95.53" stroke="#f2c46c" stroke-width="0.8"/>
<path d="M95.60,75.60 L100.43,75.61 L105.27,75.61 L110.10,75.62 L114.93,75.62 L119.77,75.63 L124.60,75.64 L127.47,75.65 L130.33,75.68 L133.20,75.71 L136.07,75.75 L138.93,75.80 L141.80,75.86 L144.72,75.94 L147.63,76.09 L150.55,76.28 L153.47,76.51 L156.38,76.79 L159.30,77.11 L162.18,77.58 L165.07,78.30 L167.95,79.18 L170.83,80.19 L173.72,81.25 L176.60,82.31 L179.52,83.52 L182.43,84.95 L185.35,86.47 L188.27,87.94 L191.18,89.23 L194.10,90.21 L197.00,90.97 L199.90,91.68 L202.80,92.31 L205.70,92.85 L208.60,93.26 L211.50,93.53 L214.38,93.69 L217.27,93.81 L220.15,93.91 L223.03,94.00 L225.92,94.09 L228.80,94.19" stroke="#ebd27a"/>
<path d="M124.60,74.74 V76.54" stroke="#ebd27a" stroke-width="0.8"/>
<path d="M141.80,74.96 V76.76" stroke="#ebd27a" stroke-width="0.8"/>
<path d="M159.30,76.21 V78.01" stroke="#ebd27a" stroke-width="0.8"/>
<path d="M176.60,81.41 V83.21" stroke="#ebd27a" stroke-width="0.8"/>
<path d="M194.10,89.31 V91.11" stroke="#ebd27a" stroke-width="0.8"/>
<path d="M211.50,92.63 V94.43" stroke="#ebd27a" stroke-width="0.8"/>
<path d="M228.80,93.29 V95.09" stroke="#ebd27a" stroke-width="0.8"/>
<path d="M95.60,75.60 L100.43,75.62 L105.27,75.63 L110.10,75.65 L114.93,75.67 L119.77,75.69 L124.60,75.73 L127.47,75.76 L130.33,75.83 L133.20,75.92 L136.07,76.04 L138.93,76.18 L141.80,76.34 L144.72,76.59 L147.63,76.96 L150.55,77.44 L153.47,78.01 L156.38,78.65 L159.30,79.34 L162.18,80.22 L165.07,81.38 L167.95,82.71 L170.83,84.09 L173.72,85.39 L176.60,86.49 L179.52,87.48 L182.43,88.47 L185.35,89.41 L188.27,90.24 L191.18,90.92 L194.10,91.37 L197.00,91.69 L199.90,91.96 L202.80,92.20 L205.70,92.38 L208.60,92.53 L211.50,92.62 L214.38,92.67 L217.27,92.71 L220.15,92.75 L223.03,92.77 L225.92,92.80 L228.80,92.84" stroke="#cfd086"/>
<path d="M124.60,74.83 V76.63" stroke="#cfd086" stroke-width="0.8"/>
<path d="M141.80,75.44 V77.24" stroke="#cfd086" stroke-width="0.8"/>
<path d="M159.30,78.44 V80.24" stroke="#cfd086" stroke-width="0.8"/>
<path d="M176.60,85.59 V87.39" stroke="#cfd086" stroke-width="0.8"/>
<path d="M194.10,90.47 V92.27" stroke="#cfd086" stroke-width="0.8"/>
<path d="M211.50,91.72 V93.52" stroke="#cfd086" stroke-width="0.8"/>
<path d="M228.80,91.94 V93.74" stroke="#cfd086" stroke-width="0.8"/>
<path d="M95.60,75.60 L100.43,75.96 L105.27,76.28 L110.10,76.60 L114.93,76.96 L119.77,77.40 L124.60,77.97 L127.47,78.48 L130.33,79.19 L133.20,80.05 L136.07,80.99 L138.93,81.94 L141.80,82.84 L144.72,83.77 L147.63,84.78 L150.55,85.80 L153.47,86.78 L156.38,87.63 L159.30,88.30 L162.18,88.84 L165.07,89.33 L167.95,89.78 L170.83,90.16 L173.72,90.46 L176.60,90.67 L179.52,90.82 L182.43,90.95 L185.35,91.06 L188.27,91.16 L191.18,91.23 L194.10,91.27 L197.00,91.31 L199.90,91.34 L202.80,91.36 L205.70,91.38 L208.60,91.39 L211.50,91.41 L214.38,91.41 L217.27,91.42 L220.15,91.42 L223.03,91.42 L225.92,91.43 L228.80,91.43" stroke="#b9c88e"/>
<path d="M124.60,77.07 V78.87" stroke="#b9c88e" stroke-width="0.8"/>
<path d="M141.80,81.94 V83.74" stroke="#b9c88e" stroke-width="0.8"/>
<path d="M159.30,87.40 V89.20" stroke="#b9c88e" stroke-width="0.8"/>
<path d="M176.60,89.77 V91.57" stroke="#b9c88e" stroke-width="0.8"/>
<path d="M194.10,90.37 V92.17" stroke="#b9c88e" stroke-width="0.8"/>
<path d="M211.50,90.51 V92.31" stroke="#b9c88e" stroke-width="0.8"/>
<path d="M228.80,90.53 V92.33" stroke="#b9c88e" stroke-width="0.8"/>
<path d="M95.60,75.60 L100.43,75.62 L105.27,75.64 L110.10,75.66 L114.93,75.68 L119.77,75.70 L124.60,75.74 L127.47,75.77 L130.33,75.81 L133.20,75.86 L136.07,75.93 L138.93,76.00 L141.80,76.09 L144.72,76.20 L147.63,76.35 L150.55,76.53 L153.47,76.74 L156.38,76.98 L159.30,77.25 L162.18,77.58 L165.07,78.01 L167.95,78.51 L170.83,79.07 L173.72,79.66 L176.60,80.26 L179.52,80.92 L182.43,81.69 L185.35,82.50 L188.27,83.31 L191.18,84.09 L194.10,84.78 L197.00,85.42 L199.90,86.06 L202.80,86.67 L205.70,87.22 L208.60,87.70 L211.50,88.08 L214.38,88.37 L217.27,88.61 L220.15,88.82 L223.03,89.02 L225.92,89.21 L228.80,89.42" stroke="#e9d07e"/>
<path d="M124.60,74.84 V76.64" stroke="#e9d07e" stroke-width="0.8"/>
<path d="M141.80,75.19 V76.99" stroke="#e9d07e" stroke-width="0.8"/>
<path d="M159.30,76.35 V78.15" stroke="#e9d07e" stroke-width="0.8"/>
<path d="M176.60,79.36 V81.16" stroke="#e9d07e" stroke-width="0.8"/>
<path d="M194.10,83.88 V85.68" stroke="#e9d07e" stroke-width="0.8"/>
<path d="M211.50,87.18 V88.98" stroke="#e9d07e" stroke-width="0.8"/>
<path d="M228.80,88.52 V90.32" stroke="#e9d07e" stroke-width="0.8"/>
<path d="M95.60,75.60 L100.43,75.60 L105.27,75.60 L110.10,75.60 L114.93,75.60 L119.77,75.60 L124.60,75.61 L127.47,75.61 L130.33,75.61 L133.20,75.62 L136.07,75.62 L138.93,75.63 L141.80,75.64 L144.72,75.66 L147.63,75.69 L150.55,75.72 L153.47,75.77 L156.38,75.83 L159.30,75.90 L162.18,76.01 L165.07,76.19 L167.95,76.44 L170.83,76.74 L173.72,77.09 L176.60,77.48 L179.52,78.03 L182.43,78.83 L185.35,79.79 L188.27,80.81 L191.18,81.81 L194.10,82.71 L197.00,83.56 L199.90,84.46 L202.80,85.34 L205.70,86.14 L208.60,86.79 L211.50,87.23 L214.38,87.49 L217.27,87.70 L220.15,87.87 L223.03,88.03 L225.92,88.18 L228.80,88.36" stroke="#e6d688"/>
<path d="M124.60,74.71 V76.51" stroke="#e6d688" stroke-width="0.8"/>
<path d="M141.80,74.74 V76.54" stroke="#e6d688" stroke-width="0.8"/>
<path d="M159.30,75.00 V76.80" stroke="#e6d688" stroke-width="0.8"/>
<path d="M176.60,76.58 V78.38" stroke="#e6d688" stroke-width="0.8"/>
<path d="M194.10,81.81 V83.61" stroke="#e6d688" stroke-width="0.8"/>
<path d="M211.50,86.33 V88.13" stroke="#e6d688" stroke-width="0.8"/>
<path d="M228.80,87.46 V89.26" stroke="#e6d688" stroke-width="0.8"/>
<path d="M95.60,75.60 L100.43,75.68 L105.27,75.75 L110.10,75.82 L114.93,75.90 L119.77,76.00 L124.60,76.14 L127.47,76.26 L130.33,76.45 L133.20,76.68 L136.07,76.96 L138.93,77.27 L141.80,77.61 L144.72,78.04 L147.63,78.58 L150.55,79.20 L153.47,79.88 L156.38,80.56 L159.30,81.22 L162.18,81.90 L165.07,82.63 L167.95,83.38 L170.83,84.09 L173.72,84.72 L176.60,85.22 L179.52,85.64 L182.43,86.03 L185.35,86.38 L188.27,86.69 L191.18,86.94 L194.10,87.12 L197.00,87.25 L199.90,87.37 L202.80,87.47 L205.70,87.55 L208.60,87.62 L211.50,87.66 L214.38,87.70 L217.27,87.72 L220.15,87.74 L223.03,87.76 L225.92,87.78 L228.80,87.80" stroke="#c2cc8a"/>
<path d="M124.60,75.24 V77.04" stroke="#c2cc8a" stroke-width="0.8"/>
<path d="M141.80,76.71 V78.51" stroke="#c2cc8a" stroke-width="0.8"/>
<path d="M159.30,80.32 V82.12" stroke="#c2cc8a" stroke-width="0.8"/>
<path d="M176.60,84.32 V86.12" stroke="#c2cc8a" stroke-width="0.8"/>
<path d="M194.10,86.22 V88.02" stroke="#c2cc8a" stroke-width="0.8"/>
<path d="M211.50,86.76 V88.56" stroke="#c2cc8a" stroke-width="0.8"/>
<path d="M228.80,86.90 V88.70" stroke="#c2cc8a" stroke-width="0.8"/>
<path d="M95.60,75.60 L100.43,75.65 L105.27,75.70 L110.10,75.74 L114.93,75.79 L119.77,75.86 L124.60,75.94 L127.47,76.03 L130.33,76.15 L133.20,76.31 L136.07,76.50 L138.93,76.72 L141.80,76.95 L144.72,77.26 L147.63,77.66 L150.55,78.12 L153.47,78.64 L156.38,79.17 L159.30,79.69 L162.18,80.25 L165.07,80.87 L167.95,81.52 L170.83,82.14 L173.72,82.71 L176.60,83.17 L179.52,83.56 L182.43,83.93 L185.35,84.27 L188.27,84.56 L191.18,84.80 L194.10,84.97 L197.00,85.11 L199.90,85.22 L202.80,85.32 L205.70,85.40 L208.60,85.47 L211.50,85.51 L214.38,85.54 L217.27,85.57 L220.15,85.59 L223.03,85.60 L225.92,85.62 L228.80,85.64" stroke="#f0b060"/>
<path d="M124.60,75.04 V76.84" stroke="#f0b060" stroke-width="0.8"/>
<path d="M141.80,76.05 V77.85" stroke="#f0b060" stroke-width="0.8"/>
<path d="M159.30,78.79 V80.59" stroke="#f0b060" stroke-width="0.8"/>
<path d="M176.60,82.27 V84.07" stroke="#f0b060" stroke-width="0.8"/>
<path d="M194.10,84.07 V85.87" stroke="#f0b060" stroke-width="0.8"/>
<path d="M211.50,84.61 V86.41" stroke="#f0b060" stroke-width="0.8"/>
<path d="M228.80,84.74 V86.54" stroke="#f0b060" stroke-width="0.8"/>
<path d="M95.60,75.60 L100.43,75.60 L105.27,75.60 L110.10,75.61 L114.93,75.61 L119.77,75.61 L124.60,75.62 L127.47,75.62 L130.33,75.62 L133.20,75.63 L136.07,75.64 L138.93,75.65 L141.80,75.67 L144.72,75.68 L147.63,75.71 L150.55,75.74 L153.47,75.78 L156.38,75.83 L159.30,75.88 L162.18,75.96 L165.07,76.06 L167.95,76.19 L170.83,76.34 L173.72,76.51 L176.60,76.70 L179.52,76.94 L182.43,77.26 L185.35,77.62 L188.27,78.01 L191.18,78.41 L194.10,78.80 L197.00,79.20 L199.90,79.64 L202.80,80.09 L205.70,80.52 L208.60,80.90 L211.50,81.21 L214.38,81.45 L217.27,81.65 L220.15,81.84 L223.03,82.01 L225.92,82.18 L228.80,82.36" stroke="#efcf78"/>
<path d="M124.60,74.72 V76.52" stroke="#efcf78" stroke-width="0.8"/>
<path d="M141.80,74.77 V76.57" stroke="#efcf78" stroke-width="0.8"/>
<path d="M159.30,74.98 V76.78" stroke="#efcf78" stroke-width="0.8"/>
<path d="M176.60,75.80 V77.60" stroke="#efcf78" stroke-width="0.8"/>
<path d="M194.10,77.90 V79.70" stroke="#efcf78" stroke-width="0.8"/>
<path d="M211.50,80.31 V82.11" stroke="#efcf78" stroke-width="0.8"/>
<path d="M228.80,81.46 V83.26" stroke="#efcf78" stroke-width="0.8"/>
<path d="M95.60,75.60 L100.43,75.80 L105.27,75.98 L110.10,76.17 L114.93,76.37 L119.77,76.58 L124.60,76.83 L127.47,77.00 L130.33,77.20 L133.20,77.41 L136.07,77.63 L138.93,77.85 L141.80,78.05 L144.72,78.24 L147.63,78.44 L150.55,78.63 L153.47,78.82 L156.38,78.98 L159.30,79.11 L162.18,79.23 L165.07,79.33 L167.95,79.43 L170.83,79.51 L173.72,79.58 L176.60,79.64 L179.52,79.68 L182.43,79.72 L185.35,79.76 L188.27,79.79 L191.18,79.81 L194.10,79.83 L197.00,79.85 L199.90,79.86 L202.80,79.87 L205.70,79.88 L208.60,79.89 L211.50,79.89 L214.38,79.90 L217.27,79.90 L220.15,79.90 L223.03,79.91 L225.92,79.91 L228.80,79.91" stroke="#d5d48c"/>
<path d="M124.60,75.93 V77.73" stroke="#d5d48c" stroke-width="0.8"/>
<path d="M141.80,77.15 V78.95" stroke="#d5d48c" stroke-width="0.8"/>
<path d="M159.30,78.21 V80.01" stroke="#d5d48c" stroke-width="0.8"/>
<path d="M176.60,78.74 V80.54" stroke="#d5d48c" stroke-width="0.8"/>
<path d="M194.10,78.93 V80.73" stroke="#d5d48c" stroke-width="0.8"/>
<path d="M211.50,78.99 V80.79" stroke="#d5d48c" stroke-width="0.8"/>
<path d="M228.80,79.01 V80.81" stroke="#d5d48c" stroke-width="0.8"/>
<path d="M95.60,75.60 L100.43,75.60 L105.27,75.61 L110.10,75.61 L114.93,75.62 L119.77,75.62 L124.60,75.63 L127.47,75.65 L130.33,75.67 L133.20,75.70 L136.07,75.75 L138.93,75.80 L141.80,75.87 L144.72,75.98 L147.63,76.16 L150.55,76.42 L153.47,76.75 L156.38,77.14 L159.30,77.58 L162.18,78.30 L165.07,79.43 L167.95,80.87 L170.83,82.49 L173.72,84.17 L176.60,85.80 L179.52,87.60 L182.43,89.69 L185.35,91.87 L188.27,93.93 L191.18,95.66 L194.10,96.86 L197.00,97.69 L199.90,98.43 L202.80,99.08 L205.70,99.61 L208.60,99.99 L211.50,100.23 L214.38,100.35 L217.27,100.45 L220.15,100.52 L223.03,100.59 L225.92,100.65 L228.80,100.73" stroke="#c8cc80"/>
<path d="M124.60,74.73 V76.53" stroke="#c8cc80" stroke-width="0.8"/>
<path d="M141.80,74.97 V76.77" stroke="#c8cc80" stroke-width="0.8"/>
<path d="M159.30,76.68 V78.48" stroke="#c8cc80" stroke-width="0.8"/>
<path d="M176.60,84.90 V86.70" stroke="#c8cc80" stroke-width="0.8"/>
<path d="M194.10,95.96 V97.76" stroke="#c8cc80" stroke-width="0.8"/>
<path d="M211.50,99.33 V101.13" stroke="#c8cc80" stroke-width="0.8"/>
<path d="M228.80,99.83 V101.63" stroke="#c8cc80" stroke-width="0.8"/>
<path d="M95.60,75.60 L100.43,75.67 L105.27,75.72 L110.10,75.78 L114.93,75.84 L119.77,75.93 L124.60,76.05 L127.47,76.16 L130.33,76.35 L133.20,76.59 L136.07,76.89 L138.93,77.23 L141.80,77.61 L144.72,78.12 L147.63,78.84 L150.55,79.70 L153.47,80.66 L156.38,81.69 L159.30,82.74 L162.18,83.91 L165.07,85.28 L167.95,86.74 L170.83,88.19 L173.72,89.51 L176.60,90.59 L179.52,91.51 L182.43,92.40 L185.35,93.22 L188.27,93.93 L191.18,94.51 L194.10,94.92 L197.00,95.22 L199.90,95.49 L202.80,95.71 L205.70,95.90 L208.60,96.04 L211.50,96.14 L214.38,96.21 L217.27,96.26 L220.15,96.30 L223.03,96.33 L225.92,96.37 L228.80,96.41" stroke="#f2c46c"/>
<path d="M124.60,75.15 V76.95" stroke="#f2c46c" stroke-width="0.8"/>
<path d="M141.80,76.71 V78.51" stroke="#f2c46c" stroke-width="0.8"/>
<path d="M159.30,81.84 V83.64" stroke="#f2c46c" stroke-width="0.8"/>
<path d="M176.60,89.69 V91.49" stroke="#f2c46c" stroke-width="0.8"/>
<path d="M194.10,94.02 V95.82" stroke="#f2c46c" stroke-width="0.8"/>
<path d="M211.50,95.24 V97.04" stroke="#f2c46c" stroke-width="0.8"/>
<path d="M228.80,95.51 V97.31" stroke="#f2c46c" stroke-width="0.8"/>
<path d="M95.60,75.60 L100.43,75.64 L105.27,75.67 L110.10,75.70 L114.93,75.74 L119.77,75.79 L124.60,75.85 L127.47,75.93 L130.33,76.07 L133.20,76.26 L136.07,76.50 L138.93,76.79 L141.80,77.12 L144.72,77.62 L147.63,78.38 L150.55,79.35 L153.47,80.50 L156.38,81.77 L159.30,83.12 L162.18,84.80 L165.07,86.96 L167.95,89.39 L170.83,91.86 L173.72,94.14 L176.60,96.02 L179.52,97.63 L182.43,99.22 L185.35,100.69 L188.27,101.98 L191.18,103.00 L194.10,103.68 L197.00,104.14 L199.90,104.54 L202.80,104.87 L205.70,105.15 L208.60,105.35 L211.50,105.47 L214.38,105.55 L217.27,105.61 L220.15,105.65 L223.03,105.69 L225.92,105.73 L228.80,105.78" stroke="#ebd27a"/>
<path d="M124.60,74.95 V76.75" stroke="#ebd27a" stroke-width="0.8"/>
<path d="M141.80,76.22 V78.02" stroke="#ebd27a" stroke-width="0.8"/>
<path d="M159.30,82.22 V84.02" stroke="#ebd27a" stroke-width="0.8"/>
<path d="M176.60,95.12 V96.92" stroke="#ebd27a" stroke-width="0.8"/>
<path d="M194.10,102.78 V104.58" stroke="#ebd27a" stroke-width="0.8"/>
<path d="M211.50,104.57 V106.37" stroke="#ebd27a" stroke-width="0.8"/>
<path d="M228.80,104.88 V106.68" stroke="#ebd27a" stroke-width="0.8"/>
<path d="M95.60,75.60 L100.43,75.88 L105.27,76.11 L110.10,76.35 L114.93,76.62 L119.77,76.98 L124.60,77.45 L127.47,77.93 L130.33,78.68 L133.20,79.63 L136.07,80.73 L138.93,81.90 L141.80,83.08 L144.72,84.46 L147.63,86.11 L150.55,87.90 L153.47,89.67 L156.38,91.28 L159.30,92.60 L162.18,93.71 L165.07,94.77 L167.95,95.75 L170.83,96.61 L173.72,97.29 L176.60,97.75 L179.52,98.08 L182.43,98.37 L185.35,98.61 L188.27,98.80 L191.18,98.95 L194.10,99.05 L197.00,99.12 L199.90,99.17 L202.80,99.22 L205.70,99.26 L208.60,99.28 L211.50,99.30 L214.38,99.31 L217.27,99.32 L220.15,99.33 L223.03,99.34 L225.92,99.34 L228.80,99.35" stroke="#cfd086"/>
<path d="M124.60,76.55 V78.35" stroke="#cfd086" stroke-width="0.8"/>
<path d="M141.80,82.18 V83.98" stroke="#cfd086" stroke-width="0.8"/>
<path d="M159.30,91.70 V93.50" stroke="#cfd086" stroke-width="0.8"/>
<path d="M176.60,96.85 V98.65" stroke="#cfd086" stroke-width="0.8"/>
<path d="M194.10,98.15 V99.95" stroke="#cfd086" stroke-width="0.8"/>
<path d="M211.50,98.40 V100.20" stroke="#cfd086" stroke-width="0.8"/>
<path d="M228.80,98.45 V100.25" stroke="#cfd086" stroke-width="0.8"/>
<path d="M95.60,75.60 L100.43,75.65 L105.27,75.69 L110.10,75.73 L114.93,75.78 L119.77,75.84 L124.60,75.93 L127.47,76.02 L130.33,76.18 L133.20,76.39 L136.07,76.66 L138.93,76.97 L141.80,77.32 L144.72,77.84 L147.63,78.59 L150.55,79.54 L153.47,80.64 L156.38,81.86 L159.30,83.15 L162.18,84.71 L165.07,86.68 L167.95,88.88 L170.83,91.12 L173.72,93.21 L176.60,94.97 L179.52,96.54 L182.43,98.08 L185.35,99.53 L188.27,100.81 L191.18,101.85 L194.10,102.57 L197.00,103.08 L199.90,103.53 L202.80,103.92 L205.70,104.23 L208.60,104.47 L211.50,104.63 L214.38,104.72 L217.27,104.80 L220.15,104.86 L223.03,104.92 L225.92,104.97 L228.80,105.03" stroke="#b9c88e"/>
<path d="M124.60,75.03 V76.83" stroke="#b9c88e" stroke-width="0.8"/>
<path d="M141.80,76.42 V78.22" stroke="#b9c88e" stroke-width="0.8"/>
<path d="M159.30,82.25 V84.05" stroke="#b9c88e" stroke-width="0.8"/>
<path d="M176.60,94.07 V95.87" stroke="#b9c88e" stroke-width="0.8"/>
<path d="M194.10,101.67 V103.47" stroke="#b9c88e" stroke-width="0.8"/>
<path d="M211.50,103.73 V105.53" stroke="#b9c88e" stroke-width="0.8"/>
<path d="M228.80,104.13 V105.93" stroke="#b9c88e" stroke-width="0.8"/>
<path d="M95.60,75.60 L100.43,78.26 L105.27,80.86 L110.10,83.47 L114.93,86.12 L119.77,88.88 L124.60,91.80 L127.47,93.90 L130.33,96.42 L133.20,98.99 L136.07,101.29 L138.93,102.97 L141.80,103.68 L144.72,103.77 L147.63,103.83 L150.55,103.86 L153.47,103.90 L156.38,103.95 L159.30,104.04 L162.18,104.40 L165.07,105.13 L167.95,106.10 L170.83,107.12 L173.72,108.05 L176.60,108.72 L179.52,109.21 L182.43,109.67 L185.35,110.09 L188.27,110.45 L191.18,110.72 L194.10,110.88 L197.00,110.98 L199.90,111.06 L202.80,111.14 L205.70,111.19 L208.60,111.23 L211.50,111.24 L214.38,111.24 L217.27,111.24 L220.15,111.24 L223.03,111.24 L225.92,111.24 L228.80,111.24" stroke="#f0c870"/>
<path d="M124.60,90.90 V92.70" stroke="#f0c870" stroke-width="0.8"/>
<path d="M141.80,102.78 V104.58" stroke="#f0c870" stroke-width="0.8"/>
<path d="M159.30,103.14 V104.94" stroke="#f0c870" stroke-width="0.8"/>
<path d="M176.60,107.82 V109.62" stroke="#f0c870" stroke-width="0.8"/>
<path d="M194.10,109.98 V111.78" stroke="#f0c870" stroke-width="0.8"/>
<path d="M211.50,110.34 V112.14" stroke="#f0c870" stroke-width="0.8"/>
<path d="M228.80,110.34 V112.14" stroke="#f0c870" stroke-width="0.8"/>
<path d="M95.60,75.60 L100.43,75.66 L105.27,75.71 L110.10,75.77 L114.93,75.82 L119.77,75.89 L124.60,75.96 L127.47,76.01 L130.33,76.07 L133.20,76.13 L136.07,76.19 L138.93,76.26 L141.80,76.32 L144.72,76.38 L147.63,76.43 L150.55,76.49 L153.47,76.54 L156.38,76.61 L159.30,76.68 L162.18,76.77 L165.07,76.88 L167.95,77.01 L170.83,77.14 L173.72,77.27 L176.60,77.40 L179.52,77.51 L182.43,77.62 L185.35,77.72 L188.27,77.83 L191.18,77.96 L194.10,78.12 L197.00,78.30 L199.90,78.51 L202.80,78.77 L205.70,79.08 L208.60,79.46 L211.50,79.92 L214.38,80.74 L217.27,82.10 L220.15,83.81 L223.03,85.69 L225.92,87.57 L228.80,89.28" stroke="#c8cc80"/>
<path d="M124.60,75.06 V76.86" stroke="#c8cc80" stroke-width="0.8"/>
<path d="M141.80,75.42 V77.22" stroke="#c8cc80" stroke-width="0.8"/>
<path d="M159.30,75.78 V77.58" stroke="#c8cc80" stroke-width="0.8"/>
<path d="M176.60,76.50 V78.30" stroke="#c8cc80" stroke-width="0.8"/>
<path d="M194.10,77.22 V79.02" stroke="#c8cc80" stroke-width="0.8"/>
<path d="M211.50,79.02 V80.82" stroke="#c8cc80" stroke-width="0.8"/>
<path d="M228.80,88.38 V90.18" stroke="#c8cc80" stroke-width="0.8"/>
</g>
<g fill="none" stroke-width="0.9" opacity="0.9">
<path d="M95.60,128.80 L100.43,129.06 L105.27,129.36 L110.10,129.66 L114.93,129.92 L119.77,130.11 L124.60,130.18 L127.47,130.15 L130.33,130.07 L133.20,129.97 L136.07,129.87 L138.93,129.80 L141.80,129.77 L144.72,129.77 L147.63,129.77 L150.55,129.77 L153.47,129.77 L156.38,129.77 L159.30,129.77 L162.18,129.79 L165.07,129.86 L167.95,129.96 L170.83,130.07 L173.72,130.17 L176.60,130.24 L179.52,130.29 L182.43,130.34 L185.35,130.39 L188.27,130.43 L191.18,130.46 L194.10,130.48 L197.00,130.50 L199.90,130.52 L202.80,130.54 L205.70,130.55 L208.60,130.56 L211.50,130.57 L214.38,130.57 L217.27,130.58 L220.15,130.58 L223.03,130.58 L225.92,130.59 L228.80,130.59" stroke="#1f74c4"/>
<path d="M124.60,129.28 V131.08" stroke="#1f74c4" stroke-width="0.8"/>
<path d="M141.80,128.87 V130.67" stroke="#1f74c4" stroke-width="0.8"/>
<path d="M159.30,128.87 V130.67" stroke="#1f74c4" stroke-width="0.8"/>
<path d="M176.60,129.34 V131.14" stroke="#1f74c4" stroke-width="0.8"/>
<path d="M194.10,129.58 V131.38" stroke="#1f74c4" stroke-width="0.8"/>
<path d="M211.50,129.67 V131.47" stroke="#1f74c4" stroke-width="0.8"/>
<path d="M228.80,129.69 V131.49" stroke="#1f74c4" stroke-width="0.8"/>
<path d="M95.60,128.80 L100.43,129.25 L105.27,129.76 L110.10,130.28 L114.93,130.73 L119.77,131.04 L124.60,131.17 L127.47,131.11 L130.33,130.98 L133.20,130.81 L136.07,130.64 L138.93,130.51 L141.80,130.46 L144.72,130.46 L147.63,130.46 L150.55,130.46 L153.47,130.46 L156.38,130.46 L159.30,130.46 L162.18,130.46 L165.07,130.46 L167.95,130.46 L170.83,130.46 L173.72,130.46 L176.60,130.46 L179.52,130.48 L182.43,130.55 L185.35,130.66 L188.27,130.78 L191.18,130.91 L194.10,131.04 L197.00,131.18 L199.90,131.35 L202.80,131.53 L205.70,131.71 L208.60,131.86 L211.50,131.97 L214.38,132.04 L217.27,132.10 L220.15,132.15 L223.03,132.20 L225.92,132.24 L228.80,132.29" stroke="#2a7cc2"/>
<path d="M124.60,130.27 V132.07" stroke="#2a7cc2" stroke-width="0.8"/>
<path d="M141.80,129.56 V131.36" stroke="#2a7cc2" stroke-width="0.8"/>
<path d="M159.30,129.56 V131.36" stroke="#2a7cc2" stroke-width="0.8"/>
<path d="M176.60,129.56 V131.36" stroke="#2a7cc2" stroke-width="0.8"/>
<path d="M194.10,130.14 V131.94" stroke="#2a7cc2" stroke-width="0.8"/>
<path d="M211.50,131.07 V132.87" stroke="#2a7cc2" stroke-width="0.8"/>
<path d="M228.80,131.39 V133.19" stroke="#2a7cc2" stroke-width="0.8"/>
<path d="M95.60,128.80 L100.43,128.84 L105.27,128.88 L110.10,128.91 L114.93,128.95 L119.77,129.00 L124.60,129.07 L127.47,129.12 L130.33,129.19 L133.20,129.27 L136.07,129.37 L138.93,129.47 L141.80,129.59 L144.72,129.72 L147.63,129.89 L150.55,130.07 L153.47,130.26 L156.38,130.47 L159.30,130.66 L162.18,130.87 L165.07,131.09 L167.95,131.31 L170.83,131.54 L173.72,131.74 L176.60,131.91 L179.52,132.07 L182.43,132.22 L185.35,132.36 L188.27,132.49 L191.18,132.59 L194.10,132.68 L197.00,132.75 L199.90,132.81 L202.80,132.86 L205.70,132.91 L208.60,132.95 L211.50,132.98 L214.38,133.00 L217.27,133.02 L220.15,133.04 L223.03,133.05 L225.92,133.06 L228.80,133.08" stroke="#3586c8"/>
<path d="M124.60,128.17 V129.97" stroke="#3586c8" stroke-width="0.8"/>
<path d="M141.80,128.69 V130.49" stroke="#3586c8" stroke-width="0.8"/>
<path d="M159.30,129.76 V131.56" stroke="#3586c8" stroke-width="0.8"/>
<path d="M176.60,131.01 V132.81" stroke="#3586c8" stroke-width="0.8"/>
<path d="M194.10,131.78 V133.58" stroke="#3586c8" stroke-width="0.8"/>
<path d="M211.50,132.08 V133.88" stroke="#3586c8" stroke-width="0.8"/>
<path d="M228.80,132.18 V133.98" stroke="#3586c8" stroke-width="0.8"/>
<path d="M95.60,128.80 L100.43,129.08 L105.27,129.40 L110.10,129.73 L114.93,130.01 L119.77,130.21 L124.60,130.28 L127.47,130.25 L130.33,130.17 L133.20,130.06 L136.07,129.95 L138.93,129.87 L141.80,129.84 L144.72,129.84 L147.63,129.84 L150.55,129.84 L153.47,129.84 L156.38,129.84 L159.30,129.84 L162.18,129.90 L165.07,130.06 L167.95,130.30 L170.83,130.59 L173.72,130.92 L176.60,131.26 L179.52,131.71 L182.43,132.34 L185.35,133.04 L188.27,133.75 L191.18,134.38 L194.10,134.85 L197.00,135.20 L199.90,135.53 L202.80,135.83 L205.70,136.08 L208.60,136.27 L211.50,136.39 L214.38,136.46 L217.27,136.51 L220.15,136.56 L223.03,136.59 L225.92,136.63 L228.80,136.67" stroke="#1a6cbc"/>
<path d="M124.60,129.38 V131.18" stroke="#1a6cbc" stroke-width="0.8"/>
<path d="M141.80,128.94 V130.74" stroke="#1a6cbc" stroke-width="0.8"/>
<path d="M159.30,128.94 V130.74" stroke="#1a6cbc" stroke-width="0.8"/>
<path d="M176.60,130.36 V132.16" stroke="#1a6cbc" stroke-width="0.8"/>
<path d="M194.10,133.95 V135.75" stroke="#1a6cbc" stroke-width="0.8"/>
<path d="M211.50,135.49 V137.29" stroke="#1a6cbc" stroke-width="0.8"/>
<path d="M228.80,135.77 V137.57" stroke="#1a6cbc" stroke-width="0.8"/>
<path d="M95.60,128.80 L100.43,129.48 L105.27,130.25 L110.10,131.02 L114.93,131.70 L119.77,132.18 L124.60,132.36 L127.47,132.28 L130.33,132.08 L133.20,131.83 L136.07,131.57 L138.93,131.37 L141.80,131.29 L144.72,131.29 L147.63,131.29 L150.55,131.29 L153.47,131.29 L156.38,131.29 L159.30,131.29 L162.18,131.36 L165.07,131.54 L167.95,131.81 L170.83,132.15 L173.72,132.51 L176.60,132.88 L179.52,133.35 L182.43,133.98 L185.35,134.68 L188.27,135.37 L191.18,135.96 L194.10,136.38 L197.00,136.66 L199.90,136.91 L202.80,137.13 L205.70,137.32 L208.60,137.46 L211.50,137.54 L214.38,137.60 L217.27,137.64 L220.15,137.67 L223.03,137.70 L225.92,137.73 L228.80,137.76" stroke="#a9c6a0"/>
<path d="M124.60,131.46 V133.26" stroke="#a9c6a0" stroke-width="0.8"/>
<path d="M141.80,130.39 V132.19" stroke="#a9c6a0" stroke-width="0.8"/>
<path d="M159.30,130.39 V132.19" stroke="#a9c6a0" stroke-width="0.8"/>
<path d="M176.60,131.98 V133.78" stroke="#a9c6a0" stroke-width="0.8"/>
<path d="M194.10,135.48 V137.28" stroke="#a9c6a0" stroke-width="0.8"/>
<path d="M211.50,136.64 V138.44" stroke="#a9c6a0" stroke-width="0.8"/>
<path d="M228.80,136.86 V138.66" stroke="#a9c6a0" stroke-width="0.8"/>
<path d="M95.60,128.80 L100.43,129.54 L105.27,130.40 L110.10,131.25 L114.93,131.99 L119.77,132.52 L124.60,132.72 L127.47,132.63 L130.33,132.41 L133.20,132.13 L136.07,131.85 L138.93,131.63 L141.80,131.54 L144.72,131.54 L147.63,131.54 L150.55,131.54 L153.47,131.54 L156.38,131.54 L159.30,131.54 L162.18,131.56 L165.07,131.61 L167.95,131.69 L170.83,131.80 L173.72,131.93 L176.60,132.08 L179.52,132.46 L182.43,133.18 L185.35,134.13 L188.27,135.16 L191.18,136.17 L194.10,137.01 L197.00,137.74 L199.90,138.48 L202.80,139.20 L205.70,139.85 L208.60,140.39 L211.50,140.80 L214.38,141.09 L217.27,141.32 L220.15,141.52 L223.03,141.71 L225.92,141.89 L228.80,142.09" stroke="#2a78c0"/>
<path d="M124.60,131.82 V133.62" stroke="#2a78c0" stroke-width="0.8"/>
<path d="M141.80,130.64 V132.44" stroke="#2a78c0" stroke-width="0.8"/>
<path d="M159.30,130.64 V132.44" stroke="#2a78c0" stroke-width="0.8"/>
<path d="M176.60,131.18 V132.98" stroke="#2a78c0" stroke-width="0.8"/>
<path d="M194.10,136.11 V137.91" stroke="#2a78c0" stroke-width="0.8"/>
<path d="M211.50,139.90 V141.70" stroke="#2a78c0" stroke-width="0.8"/>
<path d="M228.80,141.19 V142.99" stroke="#2a78c0" stroke-width="0.8"/>
<path d="M95.60,128.80 L100.43,129.46 L105.27,130.22 L110.10,130.99 L114.93,131.65 L119.77,132.12 L124.60,132.30 L127.47,132.22 L130.33,132.03 L133.20,131.77 L136.07,131.52 L138.93,131.33 L141.80,131.25 L144.72,131.25 L147.63,131.25 L150.55,131.25 L153.47,131.25 L156.38,131.25 L159.30,131.25 L162.18,131.27 L165.07,131.32 L167.95,131.41 L170.83,131.53 L173.72,131.67 L176.60,131.84 L179.52,132.28 L182.43,133.13 L185.35,134.23 L188.27,135.45 L191.18,136.61 L194.10,137.58 L197.00,138.41 L199.90,139.25 L202.80,140.05 L205.70,140.77 L208.60,141.37 L211.50,141.78 L214.38,142.04 L217.27,142.26 L220.15,142.44 L223.03,142.60 L225.92,142.76 L228.80,142.93" stroke="#4a90c4"/>
<path d="M124.60,131.40 V133.20" stroke="#4a90c4" stroke-width="0.8"/>
<path d="M141.80,130.35 V132.15" stroke="#4a90c4" stroke-width="0.8"/>
<path d="M159.30,130.35 V132.15" stroke="#4a90c4" stroke-width="0.8"/>
<path d="M176.60,130.94 V132.74" stroke="#4a90c4" stroke-width="0.8"/>
<path d="M194.10,136.68 V138.48" stroke="#4a90c4" stroke-width="0.8"/>
<path d="M211.50,140.88 V142.68" stroke="#4a90c4" stroke-width="0.8"/>
<path d="M228.80,142.03 V143.83" stroke="#4a90c4" stroke-width="0.8"/>
<path d="M95.60,128.80 L100.43,128.97 L105.27,129.14 L110.10,129.31 L114.93,129.48 L119.77,129.64 L124.60,129.78 L127.47,129.85 L130.33,129.90 L133.20,129.95 L136.07,130.01 L138.93,130.08 L141.80,130.19 L144.72,130.44 L147.63,130.89 L150.55,131.51 L153.47,132.24 L156.38,133.04 L159.30,133.84 L162.18,134.75 L165.07,135.87 L167.95,137.10 L170.83,138.35 L173.72,139.54 L176.60,140.58 L179.52,141.53 L182.43,142.48 L185.35,143.39 L188.27,144.20 L191.18,144.89 L194.10,145.39 L197.00,145.78 L199.90,146.12 L202.80,146.43 L205.70,146.68 L208.60,146.87 L211.50,147.01 L214.38,147.11 L217.27,147.18 L220.15,147.24 L223.03,147.29 L225.92,147.35 L228.80,147.41" stroke="#1f74c4"/>
<path d="M124.60,128.88 V130.68" stroke="#1f74c4" stroke-width="0.8"/>
<path d="M141.80,129.29 V131.09" stroke="#1f74c4" stroke-width="0.8"/>
<path d="M159.30,132.94 V134.74" stroke="#1f74c4" stroke-width="0.8"/>
<path d="M176.60,139.68 V141.48" stroke="#1f74c4" stroke-width="0.8"/>
<path d="M194.10,144.49 V146.29" stroke="#1f74c4" stroke-width="0.8"/>
<path d="M211.50,146.11 V147.91" stroke="#1f74c4" stroke-width="0.8"/>
<path d="M228.80,146.51 V148.31" stroke="#1f74c4" stroke-width="0.8"/>
<path d="M95.60,128.80 L100.43,128.84 L105.27,128.88 L110.10,128.92 L114.93,128.96 L119.77,129.01 L124.60,129.07 L127.47,129.12 L130.33,129.17 L133.20,129.23 L136.07,129.31 L138.93,129.40 L141.80,129.50 L144.72,129.64 L147.63,129.85 L150.55,130.10 L153.47,130.41 L156.38,130.75 L159.30,131.12 L162.18,131.58 L165.07,132.16 L167.95,132.85 L170.83,133.60 L173.72,134.40 L176.60,135.22 L179.52,136.11 L182.43,137.14 L185.35,138.22 L188.27,139.31 L191.18,140.34 L194.10,141.27 L197.00,142.12 L199.90,142.96 L202.80,143.77 L205.70,144.50 L208.60,145.14 L211.50,145.64 L214.38,146.03 L217.27,146.36 L220.15,146.64 L223.03,146.90 L225.92,147.16 L228.80,147.45" stroke="#9fc2b0"/>
<path d="M124.60,128.17 V129.97" stroke="#9fc2b0" stroke-width="0.8"/>
<path d="M141.80,128.60 V130.40" stroke="#9fc2b0" stroke-width="0.8"/>
<path d="M159.30,130.22 V132.02" stroke="#9fc2b0" stroke-width="0.8"/>
<path d="M176.60,134.32 V136.12" stroke="#9fc2b0" stroke-width="0.8"/>
<path d="M194.10,140.37 V142.17" stroke="#9fc2b0" stroke-width="0.8"/>
<path d="M211.50,144.74 V146.54" stroke="#9fc2b0" stroke-width="0.8"/>
<path d="M228.80,146.55 V148.35" stroke="#9fc2b0" stroke-width="0.8"/>
<path d="M95.60,128.80 L100.43,129.16 L105.27,129.58 L110.10,130.00 L114.93,130.36 L119.77,130.62 L124.60,130.71 L127.47,130.67 L130.33,130.56 L133.20,130.43 L136.07,130.29 L138.93,130.18 L141.80,130.14 L144.72,130.14 L147.63,130.14 L150.55,130.14 L153.47,130.14 L156.38,130.14 L159.30,130.14 L162.18,130.36 L165.07,130.96 L167.95,131.84 L170.83,132.89 L173.72,134.02 L176.60,135.12 L179.52,136.41 L182.43,138.00 L185.35,139.73 L188.27,141.43 L191.18,142.93 L194.10,144.05 L197.00,144.92 L199.90,145.72 L202.80,146.45 L205.70,147.05 L208.60,147.52 L211.50,147.81 L214.38,147.98 L217.27,148.10 L220.15,148.21 L223.03,148.29 L225.92,148.38 L228.80,148.49" stroke="#1c70c0"/>
<path d="M124.60,129.81 V131.61" stroke="#1c70c0" stroke-width="0.8"/>
<path d="M141.80,129.24 V131.04" stroke="#1c70c0" stroke-width="0.8"/>
<path d="M159.30,129.24 V131.04" stroke="#1c70c0" stroke-width="0.8"/>
<path d="M176.60,134.22 V136.02" stroke="#1c70c0" stroke-width="0.8"/>
<path d="M194.10,143.15 V144.95" stroke="#1c70c0" stroke-width="0.8"/>
<path d="M211.50,146.91 V148.71" stroke="#1c70c0" stroke-width="0.8"/>
<path d="M228.80,147.59 V149.39" stroke="#1c70c0" stroke-width="0.8"/>
<path d="M95.60,128.80 L100.43,128.99 L105.27,129.20 L110.10,129.42 L114.93,129.61 L119.77,129.75 L124.60,129.82 L127.47,129.84 L130.33,129.84 L133.20,129.85 L136.07,129.86 L138.93,129.87 L141.80,129.88 L144.72,129.98 L147.63,130.22 L150.55,130.56 L153.47,130.98 L156.38,131.44 L159.30,131.91 L162.18,132.43 L165.07,133.07 L167.95,133.81 L170.83,134.60 L173.72,135.42 L176.60,136.25 L179.52,137.13 L182.43,138.11 L185.35,139.12 L188.27,140.14 L191.18,141.10 L194.10,141.96 L197.00,142.76 L199.90,143.55 L202.80,144.31 L205.70,145.00 L208.60,145.60 L211.50,146.10 L214.38,146.49 L217.27,146.83 L220.15,147.12 L223.03,147.40 L225.92,147.68 L228.80,147.97" stroke="#1f74c4"/>
<path d="M124.60,128.92 V130.72" stroke="#1f74c4" stroke-width="0.8"/>
<path d="M141.80,128.98 V130.78" stroke="#1f74c4" stroke-width="0.8"/>
<path d="M159.30,131.01 V132.81" stroke="#1f74c4" stroke-width="0.8"/>
<path d="M176.60,135.35 V137.15" stroke="#1f74c4" stroke-width="0.8"/>
<path d="M194.10,141.06 V142.86" stroke="#1f74c4" stroke-width="0.8"/>
<path d="M211.50,145.20 V147.00" stroke="#1f74c4" stroke-width="0.8"/>
<path d="M228.80,147.07 V148.87" stroke="#1f74c4" stroke-width="0.8"/>
<path d="M95.60,128.80 L100.43,128.90 L105.27,128.99 L110.10,129.07 L114.93,129.17 L119.77,129.30 L124.60,129.48 L127.47,129.64 L130.33,129.90 L133.20,130.23 L136.07,130.63 L138.93,131.09 L141.80,131.59 L144.72,132.26 L147.63,133.15 L150.55,134.21 L153.47,135.36 L156.38,136.55 L159.30,137.71 L162.18,138.93 L165.07,140.28 L167.95,141.68 L170.83,143.02 L173.72,144.21 L176.60,145.14 L179.52,145.90 L182.43,146.61 L185.35,147.25 L188.27,147.80 L191.18,148.24 L194.10,148.54 L197.00,148.77 L199.90,148.96 L202.80,149.13 L205.70,149.26 L208.60,149.36 L211.50,149.43 L214.38,149.48 L217.27,149.52 L220.15,149.55 L223.03,149.57 L225.92,149.60 L228.80,149.63" stroke="#2a7cc2"/>
<path d="M124.60,128.58 V130.38" stroke="#2a7cc2" stroke-width="0.8"/>
<path d="M141.80,130.69 V132.49" stroke="#2a7cc2" stroke-width="0.8"/>
<path d="M159.30,136.81 V138.61" stroke="#2a7cc2" stroke-width="0.8"/>
<path d="M176.60,144.24 V146.04" stroke="#2a7cc2" stroke-width="0.8"/>
<path d="M194.10,147.64 V149.44" stroke="#2a7cc2" stroke-width="0.8"/>
<path d="M211.50,148.53 V150.33" stroke="#2a7cc2" stroke-width="0.8"/>
<path d="M228.80,148.73 V150.53" stroke="#2a7cc2" stroke-width="0.8"/>
<path d="M95.60,128.80 L100.43,129.39 L105.27,129.98 L110.10,130.57 L114.93,131.16 L119.77,131.75 L124.60,132.36 L127.47,132.70 L130.33,133.01 L133.20,133.33 L136.07,133.67 L138.93,134.09 L141.80,134.60 L144.72,135.42 L147.63,136.60 L150.55,138.01 L153.47,139.50 L156.38,140.93 L159.30,142.16 L162.18,143.25 L165.07,144.34 L167.95,145.39 L170.83,146.35 L173.72,147.15 L176.60,147.75 L179.52,148.22 L182.43,148.64 L185.35,149.01 L188.27,149.32 L191.18,149.56 L194.10,149.74 L197.00,149.86 L199.90,149.97 L202.80,150.07 L205.70,150.15 L208.60,150.20 L211.50,150.25 L214.38,150.27 L217.27,150.30 L220.15,150.31 L223.03,150.33 L225.92,150.35 L228.80,150.36" stroke="#3586c8"/>
<path d="M124.60,131.46 V133.26" stroke="#3586c8" stroke-width="0.8"/>
<path d="M141.80,133.70 V135.50" stroke="#3586c8" stroke-width="0.8"/>
<path d="M159.30,141.26 V143.06" stroke="#3586c8" stroke-width="0.8"/>
<path d="M176.60,146.85 V148.65" stroke="#3586c8" stroke-width="0.8"/>
<path d="M194.10,148.84 V150.64" stroke="#3586c8" stroke-width="0.8"/>
<path d="M211.50,149.35 V151.15" stroke="#3586c8" stroke-width="0.8"/>
<path d="M228.80,149.46 V151.26" stroke="#3586c8" stroke-width="0.8"/>
<path d="M95.60,128.80 L100.43,129.16 L105.27,129.57 L110.10,129.99 L114.93,130.35 L119.77,130.60 L124.60,130.70 L127.47,130.65 L130.33,130.55 L133.20,130.41 L136.07,130.28 L138.93,130.17 L141.80,130.13 L144.72,130.13 L147.63,130.13 L150.55,130.13 L153.47,130.13 L156.38,130.13 L159.30,130.13 L162.18,130.23 L165.07,130.50 L167.95,130.92 L170.83,131.45 L173.72,132.06 L176.60,132.72 L179.52,133.70 L182.43,135.16 L185.35,136.92 L188.27,138.78 L191.18,140.57 L194.10,142.11 L197.00,143.49 L199.90,144.91 L202.80,146.28 L205.70,147.50 L208.60,148.48 L211.50,149.13 L214.38,149.53 L217.27,149.84 L220.15,150.10 L223.03,150.33 L225.92,150.55 L228.80,150.81" stroke="#1a6cbc"/>
<path d="M124.60,129.80 V131.60" stroke="#1a6cbc" stroke-width="0.8"/>
<path d="M141.80,129.23 V131.03" stroke="#1a6cbc" stroke-width="0.8"/>
<path d="M159.30,129.23 V131.03" stroke="#1a6cbc" stroke-width="0.8"/>
<path d="M176.60,131.82 V133.62" stroke="#1a6cbc" stroke-width="0.8"/>
<path d="M194.10,141.21 V143.01" stroke="#1a6cbc" stroke-width="0.8"/>
<path d="M211.50,148.23 V150.03" stroke="#1a6cbc" stroke-width="0.8"/>
<path d="M228.80,149.91 V151.71" stroke="#1a6cbc" stroke-width="0.8"/>
<path d="M95.60,128.80 L100.43,129.19 L105.27,129.63 L110.10,130.07 L114.93,130.45 L119.77,130.74 L124.60,130.88 L127.47,130.90 L130.33,130.92 L133.20,130.93 L136.07,130.94 L138.93,130.95 L141.80,130.98 L144.72,131.46 L147.63,132.68 L150.55,134.41 L153.47,136.43 L156.38,138.49 L159.30,140.36 L162.18,142.26 L165.07,144.43 L167.95,146.65 L170.83,148.72 L173.72,150.41 L176.60,151.52 L179.52,152.23 L182.43,152.86 L185.35,153.39 L188.27,153.82 L191.18,154.13 L194.10,154.31 L197.00,154.41 L199.90,154.49 L202.80,154.56 L205.70,154.61 L208.60,154.65 L211.50,154.67 L214.38,154.68 L217.27,154.69 L220.15,154.70 L223.03,154.70 L225.92,154.71 L228.80,154.71" stroke="#a9c6a0"/>
<path d="M124.60,129.98 V131.78" stroke="#a9c6a0" stroke-width="0.8"/>
<path d="M141.80,130.08 V131.88" stroke="#a9c6a0" stroke-width="0.8"/>
<path d="M159.30,139.46 V141.26" stroke="#a9c6a0" stroke-width="0.8"/>
<path d="M176.60,150.62 V152.42" stroke="#a9c6a0" stroke-width="0.8"/>
<path d="M194.10,153.41 V155.21" stroke="#a9c6a0" stroke-width="0.8"/>
<path d="M211.50,153.77 V155.57" stroke="#a9c6a0" stroke-width="0.8"/>
<path d="M228.80,153.81 V155.61" stroke="#a9c6a0" stroke-width="0.8"/>
<path d="M95.60,128.80 L100.43,128.93 L105.27,129.05 L110.10,129.17 L114.93,129.30 L119.77,129.46 L124.60,129.64 L127.47,129.77 L130.33,129.92 L133.20,130.10 L136.07,130.31 L138.93,130.54 L141.80,130.82 L144.72,131.17 L147.63,131.63 L150.55,132.19 L153.47,132.82 L156.38,133.51 L159.30,134.24 L162.18,135.08 L165.07,136.07 L167.95,137.18 L170.83,138.36 L173.72,139.55 L176.60,140.72 L179.52,141.93 L182.43,143.21 L185.35,144.52 L188.27,145.79 L191.18,146.98 L194.10,148.02 L197.00,148.96 L199.90,149.87 L202.80,150.72 L205.70,151.50 L208.60,152.17 L211.50,152.71 L214.38,153.14 L217.27,153.50 L220.15,153.82 L223.03,154.11 L225.92,154.41 L228.80,154.73" stroke="#2a78c0"/>
<path d="M124.60,128.74 V130.54" stroke="#2a78c0" stroke-width="0.8"/>
<path d="M141.80,129.92 V131.72" stroke="#2a78c0" stroke-width="0.8"/>
<path d="M159.30,133.34 V135.14" stroke="#2a78c0" stroke-width="0.8"/>
<path d="M176.60,139.82 V141.62" stroke="#2a78c0" stroke-width="0.8"/>
<path d="M194.10,147.12 V148.92" stroke="#2a78c0" stroke-width="0.8"/>
<path d="M211.50,151.81 V153.61" stroke="#2a78c0" stroke-width="0.8"/>
<path d="M228.80,153.83 V155.63" stroke="#2a78c0" stroke-width="0.8"/>
<path d="M95.60,128.80 L100.43,129.46 L105.27,130.22 L110.10,130.98 L114.93,131.64 L119.77,132.11 L124.60,132.29 L127.47,132.21 L130.33,132.02 L133.20,131.77 L136.07,131.51 L138.93,131.32 L141.80,131.24 L144.72,131.24 L147.63,131.24 L150.55,131.24 L153.47,131.24 L156.38,131.24 L159.30,131.24 L162.18,131.48 L165.07,132.11 L167.95,133.06 L170.83,134.22 L173.72,135.50 L176.60,136.81 L179.52,138.49 L182.43,140.72 L185.35,143.23 L188.27,145.75 L191.18,148.01 L194.10,149.72 L197.00,151.05 L199.90,152.32 L202.80,153.46 L205.70,154.42 L208.60,155.17 L211.50,155.63 L214.38,155.89 L217.27,156.09 L220.15,156.26 L223.03,156.40 L225.92,156.54 L228.80,156.70" stroke="#4a90c4"/>
<path d="M124.60,131.39 V133.19" stroke="#4a90c4" stroke-width="0.8"/>
<path d="M141.80,130.34 V132.14" stroke="#4a90c4" stroke-width="0.8"/>
<path d="M159.30,130.34 V132.14" stroke="#4a90c4" stroke-width="0.8"/>
<path d="M176.60,135.91 V137.71" stroke="#4a90c4" stroke-width="0.8"/>
<path d="M194.10,148.82 V150.62" stroke="#4a90c4" stroke-width="0.8"/>
<path d="M211.50,154.73 V156.53" stroke="#4a90c4" stroke-width="0.8"/>
<path d="M228.80,155.80 V157.60" stroke="#4a90c4" stroke-width="0.8"/>
<path d="M95.60,128.80 L100.43,129.24 L105.27,129.74 L110.10,130.24 L114.93,130.68 L119.77,130.98 L124.60,131.10 L127.47,131.05 L130.33,130.92 L133.20,130.76 L136.07,130.59 L138.93,130.46 L141.80,130.41 L144.72,130.58 L147.63,131.03 L150.55,131.70 L153.47,132.54 L156.38,133.48 L159.30,134.45 L162.18,135.64 L165.07,137.22 L167.95,139.04 L170.83,140.97 L173.72,142.87 L176.60,144.60 L179.52,146.30 L182.43,148.07 L185.35,149.82 L188.27,151.43 L191.18,152.81 L194.10,153.85 L197.00,154.65 L199.90,155.38 L202.80,156.02 L205.70,156.56 L208.60,156.98 L211.50,157.27 L214.38,157.47 L217.27,157.62 L220.15,157.75 L223.03,157.86 L225.92,157.97 L228.80,158.10" stroke="#1f74c4"/>
<path d="M124.60,130.20 V132.00" stroke="#1f74c4" stroke-width="0.8"/>
<path d="M141.80,129.51 V131.31" stroke="#1f74c4" stroke-width="0.8"/>
<path d="M159.30,133.55 V135.35" stroke="#1f74c4" stroke-width="0.8"/>
<path d="M176.60,143.70 V145.50" stroke="#1f74c4" stroke-width="0.8"/>
<path d="M194.10,152.95 V154.75" stroke="#1f74c4" stroke-width="0.8"/>
<path d="M211.50,156.37 V158.17" stroke="#1f74c4" stroke-width="0.8"/>
<path d="M228.80,157.20 V159.00" stroke="#1f74c4" stroke-width="0.8"/>
<path d="M95.60,128.80 L100.43,129.20 L105.27,129.66 L110.10,130.12 L114.93,130.52 L119.77,130.81 L124.60,130.92 L127.47,130.87 L130.33,130.75 L133.20,130.60 L136.07,130.45 L138.93,130.33 L141.80,130.28 L144.72,130.34 L147.63,130.52 L150.55,130.78 L153.47,131.13 L156.38,131.53 L159.30,131.97 L162.18,132.60 L165.07,133.55 L167.95,134.73 L170.83,136.07 L173.72,137.49 L176.60,138.91 L179.52,140.48 L182.43,142.30 L185.35,144.24 L188.27,146.18 L191.18,147.99 L194.10,149.54 L197.00,150.92 L199.90,152.27 L202.80,153.54 L205.70,154.68 L208.60,155.62 L211.50,156.33 L214.38,156.85 L217.27,157.26 L220.15,157.62 L223.03,157.94 L225.92,158.27 L228.80,158.62" stroke="#9fc2b0"/>
<path d="M124.60,130.02 V131.82" stroke="#9fc2b0" stroke-width="0.8"/>
<path d="M141.80,129.38 V131.18" stroke="#9fc2b0" stroke-width="0.8"/>
<path d="M159.30,131.07 V132.87" stroke="#9fc2b0" stroke-width="0.8"/>
<path d="M176.60,138.01 V139.81" stroke="#9fc2b0" stroke-width="0.8"/>
<path d="M194.10,148.64 V150.44" stroke="#9fc2b0" stroke-width="0.8"/>
<path d="M211.50,155.43 V157.23" stroke="#9fc2b0" stroke-width="0.8"/>
<path d="M228.80,157.72 V159.52" stroke="#9fc2b0" stroke-width="0.8"/>
<path d="M95.60,128.80 L100.43,128.87 L105.27,128.92 L110.10,128.98 L114.93,129.05 L119.77,129.14 L124.60,129.27 L127.47,129.43 L130.33,129.71 L133.20,130.11 L136.07,130.61 L138.93,131.19 L141.80,131.85 L144.72,132.85 L147.63,134.36 L150.55,136.23 L153.47,138.32 L156.38,140.47 L159.30,142.56 L162.18,144.78 L165.07,147.32 L167.95,149.96 L170.83,152.45 L173.72,154.55 L176.60,156.02 L179.52,157.08 L182.43,158.03 L185.35,158.86 L188.27,159.54 L191.18,160.04 L194.10,160.36 L197.00,160.55 L199.90,160.71 L202.80,160.85 L205.70,160.96 L208.60,161.03 L211.50,161.08 L214.38,161.10 L217.27,161.12 L220.15,161.14 L223.03,161.15 L225.92,161.17 L228.80,161.18" stroke="#1c70c0"/>
<path d="M124.60,128.37 V130.17" stroke="#1c70c0" stroke-width="0.8"/>
<path d="M141.80,130.95 V132.75" stroke="#1c70c0" stroke-width="0.8"/>
<path d="M159.30,141.66 V143.46" stroke="#1c70c0" stroke-width="0.8"/>
<path d="M176.60,155.12 V156.92" stroke="#1c70c0" stroke-width="0.8"/>
<path d="M194.10,159.46 V161.26" stroke="#1c70c0" stroke-width="0.8"/>
<path d="M211.50,160.18 V161.98" stroke="#1c70c0" stroke-width="0.8"/>
<path d="M228.80,160.28 V162.08" stroke="#1c70c0" stroke-width="0.8"/>
<path d="M95.60,128.80 L100.43,128.81 L105.27,128.83 L110.10,128.84 L114.93,128.85 L119.77,128.87 L124.60,128.89 L127.47,128.91 L130.33,128.94 L133.20,128.98 L136.07,129.02 L138.93,129.08 L141.80,129.15 L144.72,129.29 L147.63,129.55 L150.55,129.93 L153.47,130.40 L156.38,130.97 L159.30,131.62 L162.18,132.69 L165.07,134.40 L167.95,136.57 L170.83,138.98 L173.72,141.46 L176.60,143.79 L179.52,146.28 L182.43,149.11 L185.35,152.01 L188.27,154.71 L191.18,156.92 L194.10,158.38 L197.00,159.32 L199.90,160.15 L202.80,160.87 L205.70,161.44 L208.60,161.85 L211.50,162.09 L214.38,162.22 L217.27,162.31 L220.15,162.38 L223.03,162.44 L225.92,162.50 L228.80,162.58" stroke="#1f74c4"/>
<path d="M124.60,127.99 V129.79" stroke="#1f74c4" stroke-width="0.8"/>
<path d="M141.80,128.25 V130.05" stroke="#1f74c4" stroke-width="0.8"/>
<path d="M159.30,130.72 V132.52" stroke="#1f74c4" stroke-width="0.8"/>
<path d="M176.60,142.89 V144.69" stroke="#1f74c4" stroke-width="0.8"/>
<path d="M194.10,157.48 V159.28" stroke="#1f74c4" stroke-width="0.8"/>
<path d="M211.50,161.19 V162.99" stroke="#1f74c4" stroke-width="0.8"/>
<path d="M228.80,161.68 V163.48" stroke="#1f74c4" stroke-width="0.8"/>
<path d="M95.60,128.80 L100.43,129.44 L105.27,130.17 L110.10,130.91 L114.93,131.55 L119.77,132.00 L124.60,132.17 L127.47,132.10 L130.33,131.91 L133.20,131.67 L136.07,131.42 L138.93,131.24 L141.80,131.16 L144.72,131.29 L147.63,131.63 L150.55,132.17 L153.47,132.85 L156.38,133.65 L159.30,134.52 L162.18,135.85 L165.07,137.88 L167.95,140.36 L170.83,143.04 L173.72,145.66 L176.60,147.97 L179.52,150.16 L182.43,152.46 L185.35,154.71 L188.27,156.76 L191.18,158.45 L194.10,159.63 L197.00,160.45 L199.90,161.19 L202.80,161.83 L205.70,162.35 L208.60,162.74 L211.50,162.99 L214.38,163.14 L217.27,163.25 L220.15,163.35 L223.03,163.43 L225.92,163.51 L228.80,163.60" stroke="#2a7cc2"/>
<path d="M124.60,131.27 V133.07" stroke="#2a7cc2" stroke-width="0.8"/>
<path d="M141.80,130.26 V132.06" stroke="#2a7cc2" stroke-width="0.8"/>
<path d="M159.30,133.62 V135.42" stroke="#2a7cc2" stroke-width="0.8"/>
<path d="M176.60,147.07 V148.87" stroke="#2a7cc2" stroke-width="0.8"/>
<path d="M194.10,158.73 V160.53" stroke="#2a7cc2" stroke-width="0.8"/>
<path d="M211.50,162.09 V163.89" stroke="#2a7cc2" stroke-width="0.8"/>
<path d="M228.80,162.70 V164.50" stroke="#2a7cc2" stroke-width="0.8"/>
<path d="M95.60,128.80 L100.43,129.10 L105.27,129.45 L110.10,129.80 L114.93,130.11 L119.77,130.32 L124.60,130.41 L127.47,130.37 L130.33,130.30 L133.20,130.19 L136.07,130.09 L138.93,130.01 L141.80,129.98 L144.72,130.10 L147.63,130.43 L150.55,130.91 L153.47,131.49 L156.38,132.12 L159.30,132.75 L162.18,133.46 L165.07,134.33 L167.95,135.30 L170.83,136.31 L173.72,137.30 L176.60,138.22 L179.52,139.11 L182.43,140.04 L185.35,140.94 L188.27,141.79 L191.18,142.53 L194.10,143.12 L197.00,143.59 L199.90,144.03 L202.80,144.42 L205.70,144.76 L208.60,145.03 L211.50,145.24 L214.38,145.38 L217.27,145.49 L220.15,145.59 L223.03,145.68 L225.92,145.77 L228.80,145.86" stroke="#3586c8"/>
<path d="M124.60,129.51 V131.31" stroke="#3586c8" stroke-width="0.8"/>
<path d="M141.80,129.08 V130.88" stroke="#3586c8" stroke-width="0.8"/>
<path d="M159.30,131.85 V133.65" stroke="#3586c8" stroke-width="0.8"/>
<path d="M176.60,137.32 V139.12" stroke="#3586c8" stroke-width="0.8"/>
<path d="M194.10,142.22 V144.02" stroke="#3586c8" stroke-width="0.8"/>
<path d="M211.50,144.34 V146.14" stroke="#3586c8" stroke-width="0.8"/>
<path d="M228.80,144.96 V146.76" stroke="#3586c8" stroke-width="0.8"/>
<path d="M95.60,128.80 L100.43,128.90 L105.27,129.02 L110.10,129.13 L114.93,129.23 L119.77,129.30 L124.60,129.33 L127.47,129.32 L130.33,129.29 L133.20,129.25 L136.07,129.21 L138.93,129.18 L141.80,129.17 L144.72,129.18 L147.63,129.19 L150.55,129.22 L153.47,129.26 L156.38,129.31 L159.30,129.37 L162.18,129.55 L165.07,129.94 L167.95,130.50 L170.83,131.20 L173.72,131.99 L176.60,132.84 L179.52,134.05 L182.43,135.79 L185.35,137.82 L188.27,139.95 L191.18,141.95 L194.10,143.62 L197.00,145.08 L199.90,146.54 L202.80,147.93 L205.70,149.14 L208.60,150.08 L211.50,150.67 L214.38,151.00 L217.27,151.25 L220.15,151.45 L223.03,151.63 L225.92,151.80 L228.80,152.00" stroke="#1a6cbc"/>
<path d="M124.60,128.43 V130.23" stroke="#1a6cbc" stroke-width="0.8"/>
<path d="M141.80,128.27 V130.07" stroke="#1a6cbc" stroke-width="0.8"/>
<path d="M159.30,128.47 V130.27" stroke="#1a6cbc" stroke-width="0.8"/>
<path d="M176.60,131.94 V133.74" stroke="#1a6cbc" stroke-width="0.8"/>
<path d="M194.10,142.72 V144.52" stroke="#1a6cbc" stroke-width="0.8"/>
<path d="M211.50,149.77 V151.57" stroke="#1a6cbc" stroke-width="0.8"/>
<path d="M228.80,151.10 V152.90" stroke="#1a6cbc" stroke-width="0.8"/>
<path d="M95.60,128.80 L100.43,128.98 L105.27,129.15 L110.10,129.31 L114.93,129.49 L119.77,129.71 L124.60,129.98 L127.47,130.19 L130.33,130.47 L133.20,130.80 L136.07,131.16 L138.93,131.55 L141.80,131.94 L144.72,132.39 L147.63,132.90 L150.55,133.45 L153.47,134.01 L156.38,134.56 L159.30,135.06 L162.18,135.55 L165.07,136.04 L167.95,136.52 L170.83,136.97 L173.72,137.37 L176.60,137.69 L179.52,137.97 L182.43,138.22 L185.35,138.45 L188.27,138.65 L191.18,138.82 L194.10,138.95 L197.00,139.06 L199.90,139.15 L202.80,139.23 L205.70,139.30 L208.60,139.36 L211.50,139.40 L214.38,139.43 L217.27,139.46 L220.15,139.48 L223.03,139.50 L225.92,139.52 L228.80,139.54" stroke="#a9c6a0"/>
<path d="M124.60,129.08 V130.88" stroke="#a9c6a0" stroke-width="0.8"/>
<path d="M141.80,131.04 V132.84" stroke="#a9c6a0" stroke-width="0.8"/>
<path d="M159.30,134.16 V135.96" stroke="#a9c6a0" stroke-width="0.8"/>
<path d="M176.60,136.79 V138.59" stroke="#a9c6a0" stroke-width="0.8"/>
<path d="M194.10,138.05 V139.85" stroke="#a9c6a0" stroke-width="0.8"/>
<path d="M211.50,138.50 V140.30" stroke="#a9c6a0" stroke-width="0.8"/>
<path d="M228.80,138.64 V140.44" stroke="#a9c6a0" stroke-width="0.8"/>
<path d="M95.60,128.80 L100.43,129.45 L105.27,130.20 L110.10,130.95 L114.93,131.60 L119.77,132.06 L124.60,132.23 L127.47,132.21 L130.33,132.15 L133.20,132.07 L136.07,131.99 L138.93,131.93 L141.80,131.90 L144.72,132.15 L147.63,132.80 L150.55,133.75 L153.47,134.87 L156.38,136.05 L159.30,137.17 L162.18,138.31 L165.07,139.61 L167.95,141.00 L170.83,142.39 L173.72,143.71 L176.60,144.89 L179.52,145.98 L182.43,147.07 L185.35,148.10 L188.27,149.05 L191.18,149.87 L194.10,150.53 L197.00,151.06 L199.90,151.55 L202.80,151.99 L205.70,152.37 L208.60,152.68 L211.50,152.91 L214.38,153.09 L217.27,153.23 L220.15,153.35 L223.03,153.46 L225.92,153.56 L228.80,153.68" stroke="#2a78c0"/>
<path d="M124.60,131.33 V133.13" stroke="#2a78c0" stroke-width="0.8"/>
<path d="M141.80,131.00 V132.80" stroke="#2a78c0" stroke-width="0.8"/>
<path d="M159.30,136.27 V138.07" stroke="#2a78c0" stroke-width="0.8"/>
<path d="M176.60,143.99 V145.79" stroke="#2a78c0" stroke-width="0.8"/>
<path d="M194.10,149.63 V151.43" stroke="#2a78c0" stroke-width="0.8"/>
<path d="M211.50,152.01 V153.81" stroke="#2a78c0" stroke-width="0.8"/>
<path d="M228.80,152.78 V154.58" stroke="#2a78c0" stroke-width="0.8"/>
<path d="M95.60,128.80 L100.43,129.20 L105.27,129.67 L110.10,130.13 L114.93,130.54 L119.77,130.82 L124.60,130.93 L127.47,130.89 L130.33,130.77 L133.20,130.61 L136.07,130.46 L138.93,130.34 L141.80,130.29 L144.72,130.42 L147.63,130.76 L150.55,131.27 L153.47,131.88 L156.38,132.55 L159.30,133.21 L162.18,133.94 L165.07,134.81 L167.95,135.79 L170.83,136.82 L173.72,137.85 L176.60,138.83 L179.52,139.83 L182.43,140.87 L185.35,141.92 L188.27,142.92 L191.18,143.82 L194.10,144.59 L197.00,145.24 L199.90,145.87 L202.80,146.44 L205.70,146.94 L208.60,147.37 L211.50,147.70 L214.38,147.94 L217.27,148.15 L220.15,148.33 L223.03,148.49 L225.92,148.65 L228.80,148.83" stroke="#4a90c4"/>
<path d="M124.60,130.03 V131.83" stroke="#4a90c4" stroke-width="0.8"/>
<path d="M141.80,129.39 V131.19" stroke="#4a90c4" stroke-width="0.8"/>
<path d="M159.30,132.31 V134.11" stroke="#4a90c4" stroke-width="0.8"/>
<path d="M176.60,137.93 V139.73" stroke="#4a90c4" stroke-width="0.8"/>
<path d="M194.10,143.69 V145.49" stroke="#4a90c4" stroke-width="0.8"/>
<path d="M211.50,146.80 V148.60" stroke="#4a90c4" stroke-width="0.8"/>
<path d="M228.80,147.93 V149.73" stroke="#4a90c4" stroke-width="0.8"/>
<path d="M95.60,128.80 L100.43,128.94 L105.27,129.06 L110.10,129.19 L114.93,129.32 L119.77,129.48 L124.60,129.67 L127.47,129.80 L130.33,129.95 L133.20,130.12 L136.07,130.33 L138.93,130.58 L141.80,130.88 L144.72,131.37 L147.63,132.11 L150.55,133.05 L153.47,134.10 L156.38,135.19 L159.30,136.26 L162.18,137.41 L165.07,138.72 L167.95,140.09 L170.83,141.42 L173.72,142.60 L176.60,143.52 L179.52,144.27 L182.43,144.97 L185.35,145.60 L188.27,146.14 L191.18,146.57 L194.10,146.86 L197.00,147.06 L199.90,147.24 L202.80,147.40 L205.70,147.52 L208.60,147.61 L211.50,147.68 L214.38,147.72 L217.27,147.75 L220.15,147.77 L223.03,147.79 L225.92,147.82 L228.80,147.84" stroke="#1f74c4"/>
<path d="M124.60,128.77 V130.57" stroke="#1f74c4" stroke-width="0.8"/>
<path d="M141.80,129.98 V131.78" stroke="#1f74c4" stroke-width="0.8"/>
<path d="M159.30,135.36 V137.16" stroke="#1f74c4" stroke-width="0.8"/>
<path d="M176.60,142.62 V144.42" stroke="#1f74c4" stroke-width="0.8"/>
<path d="M194.10,145.96 V147.76" stroke="#1f74c4" stroke-width="0.8"/>
<path d="M211.50,146.78 V148.58" stroke="#1f74c4" stroke-width="0.8"/>
<path d="M228.80,146.94 V148.74" stroke="#1f74c4" stroke-width="0.8"/>
<path d="M95.60,128.80 L100.43,128.97 L105.27,129.12 L110.10,129.27 L114.93,129.43 L119.77,129.63 L124.60,129.88 L127.47,130.05 L130.33,130.24 L133.20,130.48 L136.07,130.78 L138.93,131.18 L141.80,131.68 L144.72,134.45 L147.63,140.49 L150.55,148.13 L153.47,155.73 L156.38,161.60 L159.30,164.08 L162.18,164.30 L165.07,164.47 L167.95,164.62 L170.83,164.72 L173.72,164.78 L176.60,164.80 L179.52,164.80 L182.43,164.80 L185.35,164.80 L188.27,164.80 L191.18,164.80 L194.10,164.80 L197.00,164.80 L199.90,164.80 L202.80,164.80 L205.70,164.80 L208.60,164.80 L211.50,164.80 L214.38,164.80 L217.27,164.80 L220.15,164.80 L223.03,164.80 L225.92,164.80 L228.80,164.80" stroke="#3a8ccc"/>
<path d="M124.60,128.98 V130.78" stroke="#3a8ccc" stroke-width="0.8"/>
<path d="M141.80,130.78 V132.58" stroke="#3a8ccc" stroke-width="0.8"/>
<path d="M159.30,163.18 V164.98" stroke="#3a8ccc" stroke-width="0.8"/>
<path d="M176.60,163.90 V165.70" stroke="#3a8ccc" stroke-width="0.8"/>
<path d="M194.10,163.90 V165.70" stroke="#3a8ccc" stroke-width="0.8"/>
<path d="M211.50,163.90 V165.70" stroke="#3a8ccc" stroke-width="0.8"/>
<path d="M228.80,163.90 V165.70" stroke="#3a8ccc" stroke-width="0.8"/>
</g>
<text x="254.10" y="17.20" font-size="12.3" text-anchor="start" fill="#000" font-weight="bold" textLength="7.0" lengthAdjust="spacingAndGlyphs">B</text>
<line x1="294.40" y1="44.00" x2="294.40" y2="152.20" stroke="#231f20" stroke-width="1.1"/>
<line x1="294.40" y1="151.70" x2="468.50" y2="151.70" stroke="#231f20" stroke-width="1.1"/>
<line x1="290.80" y1="151.70" x2="294.40" y2="151.70" stroke="#231f20" stroke-width="0.9"/>
<text x="288.80" y="154.00" font-size="6.6" text-anchor="end" fill="#231f20">0</text>
<line x1="290.80" y1="130.78" x2="294.40" y2="130.78" stroke="#231f20" stroke-width="0.9"/>
<text x="288.80" y="133.08" font-size="6.6" text-anchor="end" fill="#231f20">20</text>
<line x1="290.80" y1="109.86" x2="294.40" y2="109.86" stroke="#231f20" stroke-width="0.9"/>
<text x="288.80" y="112.16" font-size="6.6" text-anchor="end" fill="#231f20">40</text>
<line x1="290.80" y1="88.94" x2="294.40" y2="88.94" stroke="#231f20" stroke-width="0.9"/>
<text x="288.80" y="91.24" font-size="6.6" text-anchor="end" fill="#231f20">60</text>
<line x1="290.80" y1="68.02" x2="294.40" y2="68.02" stroke="#231f20" stroke-width="0.9"/>
<text x="288.80" y="70.32" font-size="6.6" text-anchor="end" fill="#231f20">80</text>
<line x1="290.80" y1="47.10" x2="294.40" y2="47.10" stroke="#231f20" stroke-width="0.9"/>
<text x="288.80" y="49.40" font-size="6.6" text-anchor="end" fill="#231f20">100</text>
<text x="273.00" y="99.50" font-size="7.4" text-anchor="middle" fill="#231f20" textLength="36" lengthAdjust="spacingAndGlyphs" transform="rotate(-90 273.00 99.50)">Viability (%)</text>
<text x="304.00" y="160.80" font-size="6.6" text-anchor="middle" fill="#231f20">(-)</text>
<text x="327.00" y="160.80" font-size="6.6" text-anchor="middle" fill="#231f20">0.0098</text>
<text x="347.30" y="160.80" font-size="6.6" text-anchor="middle" fill="#231f20">0.039</text>
<text x="369.00" y="160.80" font-size="6.6" text-anchor="middle" fill="#231f20">0.156</text>
<text x="390.80" y="160.80" font-size="6.6" text-anchor="middle" fill="#231f20">0.625</text>
<text x="412.30" y="160.80" font-size="6.6" text-anchor="middle" fill="#231f20">2.5</text>
<text x="434.80" y="160.80" font-size="6.6" text-anchor="middle" fill="#231f20">10</text>
<text x="456.00" y="160.80" font-size="6.6" text-anchor="middle" fill="#231f20">40</text>
<text x="322.80" y="172.10" font-size="9.3" text-anchor="start" fill="#231f20" textLength="118" lengthAdjust="spacingAndGlyphs">Concentration of l-asparaginase (IU/ml)</text>
<path d="M297.00,47.00 L319.00,125.86 L341.00,127.33 L363.00,128.69 L385.00,141.87 L407.00,143.12 L429.00,141.24 L451.00,143.33" fill="none" stroke="#b5183c" stroke-width="1.1" stroke-dasharray="2,1.4"/>
<path d="M302.00,47.00 L324.00,58.61 L346.00,61.43 L368.00,76.39 L390.00,108.60 L412.00,124.50 L434.00,128.69 L456.00,129.73" fill="none" stroke="#efb41e" stroke-width="1.1" stroke-dasharray="2,1.4"/>
<path d="M307.00,47.00 L329.00,51.28 L351.00,55.15 L373.00,64.88 L395.00,95.22 L417.00,106.72 L439.00,111.43 L461.00,115.30" fill="none" stroke="#34538f" stroke-width="1.1" stroke-dasharray="2,1.4"/>
<line x1="319.00" y1="51.28" x2="319.00" y2="147.10" stroke="#d98b9c" stroke-width="1.0"/>
<line x1="317.40" y1="51.28" x2="320.60" y2="51.28" stroke="#d98b9c" stroke-width="0.9"/>
<line x1="317.40" y1="147.10" x2="320.60" y2="147.10" stroke="#d98b9c" stroke-width="0.9"/>
<rect x="316.85" y="91.03" width="4.30" height="49.79" fill="#a4102c" rx="0.6"/>
<line x1="316.85" y1="125.86" x2="321.15" y2="125.86" stroke="#2b1a10" stroke-width="1.0"/>
<line x1="324.00" y1="47.10" x2="324.00" y2="103.58" stroke="#f6da86" stroke-width="1.0"/>
<line x1="322.40" y1="47.10" x2="325.60" y2="47.10" stroke="#f6da86" stroke-width="0.9"/>
<line x1="322.40" y1="103.58" x2="325.60" y2="103.58" stroke="#f6da86" stroke-width="0.9"/>
<rect x="321.85" y="51.28" width="4.30" height="21.65" fill="#f1b51c" rx="0.6"/>
<line x1="321.85" y1="58.61" x2="326.15" y2="58.61" stroke="#2b1a10" stroke-width="1.0"/>
<line x1="329.00" y1="47.10" x2="329.00" y2="64.36" stroke="#9fb0cf" stroke-width="1.0"/>
<line x1="327.40" y1="47.10" x2="330.60" y2="47.10" stroke="#9fb0cf" stroke-width="0.9"/>
<line x1="327.40" y1="64.36" x2="330.60" y2="64.36" stroke="#9fb0cf" stroke-width="0.9"/>
<rect x="326.85" y="49.19" width="4.30" height="6.59" fill="#27457f" rx="0.6"/>
<line x1="326.85" y1="51.28" x2="331.15" y2="51.28" stroke="#2b1a10" stroke-width="1.0"/>
<line x1="341.00" y1="51.28" x2="341.00" y2="151.70" stroke="#d98b9c" stroke-width="1.0"/>
<line x1="339.40" y1="51.28" x2="342.60" y2="51.28" stroke="#d98b9c" stroke-width="0.9"/>
<line x1="339.40" y1="151.70" x2="342.60" y2="151.70" stroke="#d98b9c" stroke-width="0.9"/>
<rect x="338.85" y="97.31" width="4.30" height="49.79" fill="#a4102c" rx="0.6"/>
<line x1="338.85" y1="127.33" x2="343.15" y2="127.33" stroke="#2b1a10" stroke-width="1.0"/>
<line x1="346.00" y1="47.10" x2="346.00" y2="115.51" stroke="#f6da86" stroke-width="1.0"/>
<line x1="344.40" y1="47.10" x2="347.60" y2="47.10" stroke="#f6da86" stroke-width="0.9"/>
<line x1="344.40" y1="115.51" x2="347.60" y2="115.51" stroke="#f6da86" stroke-width="0.9"/>
<rect x="343.85" y="53.79" width="4.30" height="24.06" fill="#f1b51c" rx="0.6"/>
<line x1="343.85" y1="61.43" x2="348.15" y2="61.43" stroke="#2b1a10" stroke-width="1.0"/>
<line x1="351.00" y1="47.10" x2="351.00" y2="71.16" stroke="#9fb0cf" stroke-width="1.0"/>
<line x1="349.40" y1="47.10" x2="352.60" y2="47.10" stroke="#9fb0cf" stroke-width="0.9"/>
<line x1="349.40" y1="71.16" x2="352.60" y2="71.16" stroke="#9fb0cf" stroke-width="0.9"/>
<rect x="348.85" y="47.10" width="4.30" height="12.03" fill="#27457f" rx="0.6"/>
<line x1="348.85" y1="55.15" x2="353.15" y2="55.15" stroke="#2b1a10" stroke-width="1.0"/>
<line x1="363.00" y1="54.42" x2="363.00" y2="151.70" stroke="#d98b9c" stroke-width="1.0"/>
<line x1="361.40" y1="54.42" x2="364.60" y2="54.42" stroke="#d98b9c" stroke-width="0.9"/>
<line x1="361.40" y1="151.70" x2="364.60" y2="151.70" stroke="#d98b9c" stroke-width="0.9"/>
<rect x="360.85" y="95.74" width="4.30" height="52.93" fill="#a4102c" rx="0.6"/>
<line x1="360.85" y1="128.69" x2="365.15" y2="128.69" stroke="#2b1a10" stroke-width="1.0"/>
<line x1="368.00" y1="47.10" x2="368.00" y2="128.37" stroke="#f6da86" stroke-width="1.0"/>
<line x1="366.40" y1="47.10" x2="369.60" y2="47.10" stroke="#f6da86" stroke-width="0.9"/>
<line x1="366.40" y1="128.37" x2="369.60" y2="128.37" stroke="#f6da86" stroke-width="0.9"/>
<rect x="365.85" y="62.06" width="4.30" height="34.52" fill="#f1b51c" rx="0.6"/>
<line x1="365.85" y1="76.39" x2="370.15" y2="76.39" stroke="#2b1a10" stroke-width="1.0"/>
<line x1="373.00" y1="47.10" x2="373.00" y2="105.68" stroke="#9fb0cf" stroke-width="1.0"/>
<line x1="371.40" y1="47.10" x2="374.60" y2="47.10" stroke="#9fb0cf" stroke-width="0.9"/>
<line x1="371.40" y1="105.68" x2="374.60" y2="105.68" stroke="#9fb0cf" stroke-width="0.9"/>
<rect x="370.85" y="58.61" width="4.30" height="18.62" fill="#27457f" rx="0.6"/>
<line x1="370.85" y1="64.88" x2="375.15" y2="64.88" stroke="#2b1a10" stroke-width="1.0"/>
<line x1="385.00" y1="92.60" x2="385.00" y2="151.70" stroke="#d98b9c" stroke-width="1.0"/>
<line x1="383.40" y1="92.60" x2="386.60" y2="92.60" stroke="#d98b9c" stroke-width="0.9"/>
<line x1="383.40" y1="151.70" x2="386.60" y2="151.70" stroke="#d98b9c" stroke-width="0.9"/>
<rect x="382.85" y="111.95" width="4.30" height="39.75" fill="#a4102c" rx="0.6"/>
<line x1="382.85" y1="141.87" x2="387.15" y2="141.87" stroke="#2b1a10" stroke-width="1.0"/>
<line x1="390.00" y1="49.19" x2="390.00" y2="149.40" stroke="#f6da86" stroke-width="1.0"/>
<line x1="388.40" y1="49.19" x2="391.60" y2="49.19" stroke="#f6da86" stroke-width="0.9"/>
<line x1="388.40" y1="149.40" x2="391.60" y2="149.40" stroke="#f6da86" stroke-width="0.9"/>
<rect x="387.85" y="87.37" width="4.30" height="44.46" fill="#f1b51c" rx="0.6"/>
<line x1="387.85" y1="108.60" x2="392.15" y2="108.60" stroke="#2b1a10" stroke-width="1.0"/>
<line x1="395.00" y1="50.97" x2="395.00" y2="145.63" stroke="#9fb0cf" stroke-width="1.0"/>
<line x1="393.40" y1="50.97" x2="396.60" y2="50.97" stroke="#9fb0cf" stroke-width="0.9"/>
<line x1="393.40" y1="145.63" x2="396.60" y2="145.63" stroke="#9fb0cf" stroke-width="0.9"/>
<rect x="392.85" y="75.34" width="4.30" height="28.24" fill="#27457f" rx="0.6"/>
<line x1="392.85" y1="95.22" x2="397.15" y2="95.22" stroke="#2b1a10" stroke-width="1.0"/>
<line x1="407.00" y1="98.88" x2="407.00" y2="151.70" stroke="#d98b9c" stroke-width="1.0"/>
<line x1="405.40" y1="98.88" x2="408.60" y2="98.88" stroke="#d98b9c" stroke-width="0.9"/>
<line x1="405.40" y1="151.70" x2="408.60" y2="151.70" stroke="#d98b9c" stroke-width="0.9"/>
<rect x="404.85" y="130.78" width="4.30" height="20.92" fill="#a4102c" rx="0.6"/>
<line x1="404.85" y1="143.12" x2="409.15" y2="143.12" stroke="#2b1a10" stroke-width="1.0"/>
<line x1="412.00" y1="57.56" x2="412.00" y2="151.70" stroke="#f6da86" stroke-width="1.0"/>
<line x1="410.40" y1="57.56" x2="413.60" y2="57.56" stroke="#f6da86" stroke-width="0.9"/>
<line x1="410.40" y1="151.70" x2="413.60" y2="151.70" stroke="#f6da86" stroke-width="0.9"/>
<rect x="409.85" y="97.31" width="4.30" height="40.27" fill="#f1b51c" rx="0.6"/>
<line x1="409.85" y1="124.50" x2="414.15" y2="124.50" stroke="#2b1a10" stroke-width="1.0"/>
<line x1="417.00" y1="56.51" x2="417.00" y2="151.70" stroke="#9fb0cf" stroke-width="1.0"/>
<line x1="415.40" y1="56.51" x2="418.60" y2="56.51" stroke="#9fb0cf" stroke-width="0.9"/>
<line x1="415.40" y1="151.70" x2="418.60" y2="151.70" stroke="#9fb0cf" stroke-width="0.9"/>
<rect x="414.85" y="99.40" width="4.30" height="29.81" fill="#27457f" rx="0.6"/>
<line x1="414.85" y1="106.72" x2="419.15" y2="106.72" stroke="#2b1a10" stroke-width="1.0"/>
<line x1="429.00" y1="104.63" x2="429.00" y2="151.70" stroke="#d98b9c" stroke-width="1.0"/>
<line x1="427.40" y1="104.63" x2="430.60" y2="104.63" stroke="#d98b9c" stroke-width="0.9"/>
<line x1="427.40" y1="151.70" x2="430.60" y2="151.70" stroke="#d98b9c" stroke-width="0.9"/>
<rect x="426.85" y="133.19" width="4.30" height="18.51" fill="#a4102c" rx="0.6"/>
<line x1="426.85" y1="141.24" x2="431.15" y2="141.24" stroke="#2b1a10" stroke-width="1.0"/>
<line x1="434.00" y1="59.97" x2="434.00" y2="151.70" stroke="#f6da86" stroke-width="1.0"/>
<line x1="432.40" y1="59.97" x2="435.60" y2="59.97" stroke="#f6da86" stroke-width="0.9"/>
<line x1="432.40" y1="151.70" x2="435.60" y2="151.70" stroke="#f6da86" stroke-width="0.9"/>
<rect x="431.85" y="103.58" width="4.30" height="38.70" fill="#f1b51c" rx="0.6"/>
<line x1="431.85" y1="128.69" x2="436.15" y2="128.69" stroke="#2b1a10" stroke-width="1.0"/>
<line x1="439.00" y1="55.78" x2="439.00" y2="151.70" stroke="#9fb0cf" stroke-width="1.0"/>
<line x1="437.40" y1="55.78" x2="440.60" y2="55.78" stroke="#9fb0cf" stroke-width="0.9"/>
<line x1="437.40" y1="151.70" x2="440.60" y2="151.70" stroke="#9fb0cf" stroke-width="0.9"/>
<rect x="436.85" y="104.94" width="4.30" height="32.11" fill="#27457f" rx="0.6"/>
<line x1="436.85" y1="111.43" x2="441.15" y2="111.43" stroke="#2b1a10" stroke-width="1.0"/>
<line x1="451.00" y1="107.24" x2="451.00" y2="151.70" stroke="#d98b9c" stroke-width="1.0"/>
<line x1="449.40" y1="107.24" x2="452.60" y2="107.24" stroke="#d98b9c" stroke-width="0.9"/>
<line x1="449.40" y1="151.70" x2="452.60" y2="151.70" stroke="#d98b9c" stroke-width="0.9"/>
<rect x="448.85" y="133.92" width="4.30" height="17.78" fill="#a4102c" rx="0.6"/>
<line x1="448.85" y1="143.33" x2="453.15" y2="143.33" stroke="#2b1a10" stroke-width="1.0"/>
<line x1="456.00" y1="59.13" x2="456.00" y2="151.70" stroke="#f6da86" stroke-width="1.0"/>
<line x1="454.40" y1="59.13" x2="457.60" y2="59.13" stroke="#f6da86" stroke-width="0.9"/>
<line x1="454.40" y1="151.70" x2="457.60" y2="151.70" stroke="#f6da86" stroke-width="0.9"/>
<rect x="453.85" y="106.72" width="4.30" height="34.52" fill="#f1b51c" rx="0.6"/>
<line x1="453.85" y1="129.73" x2="458.15" y2="129.73" stroke="#2b1a10" stroke-width="1.0"/>
<line x1="461.00" y1="55.15" x2="461.00" y2="151.70" stroke="#9fb0cf" stroke-width="1.0"/>
<line x1="459.40" y1="55.15" x2="462.60" y2="55.15" stroke="#9fb0cf" stroke-width="0.9"/>
<line x1="459.40" y1="151.70" x2="462.60" y2="151.70" stroke="#9fb0cf" stroke-width="0.9"/>
<rect x="458.85" y="104.94" width="4.30" height="37.34" fill="#27457f" rx="0.6"/>
<line x1="458.85" y1="115.30" x2="463.15" y2="115.30" stroke="#2b1a10" stroke-width="1.0"/>
<circle cx="324.20" cy="123.30" r="1.3" fill="#f1c040"/>
<circle cx="345.80" cy="126.50" r="1.3" fill="#f1c040"/>
<circle cx="351.20" cy="76.50" r="1.5" fill="#5a72a8"/>
<circle cx="372.00" cy="144.50" r="1.1" fill="#5a7ab5"/>
<circle cx="374.00" cy="145.50" r="1.1" fill="#5a7ab5"/>
<circle cx="394.50" cy="150.80" r="1.0" fill="#5a7ab5"/>
<circle cx="396.50" cy="152.00" r="1.0" fill="#5a7ab5"/>
<circle cx="407.00" cy="94.20" r="1.5" fill="#d05a6a"/>
<circle cx="428.80" cy="96.20" r="1.5" fill="#d05a6a"/>
<circle cx="451.20" cy="96.30" r="1.5" fill="#d05a6a"/>
<circle cx="416.70" cy="53.30" r="1.6" fill="#5a72a8"/>
<circle cx="438.80" cy="55.80" r="1.6" fill="#5a72a8"/>
<rect x="322.00" y="33.95" width="1.3" height="1.3" fill="#231f20"/>
<rect x="323.85" y="33.95" width="1.3" height="1.3" fill="#231f20"/>
<rect x="325.70" y="33.95" width="1.3" height="1.3" fill="#231f20"/>
<path d="M316.70,39.10 L316.70,37.50 L331.20,37.50 L331.20,39.10" fill="none" stroke="#231f20" stroke-width="0.8"/>
<rect x="318.30" y="39.85" width="1.3" height="1.3" fill="#231f20"/>
<rect x="320.15" y="39.85" width="1.3" height="1.3" fill="#231f20"/>
<rect x="322.00" y="39.85" width="1.3" height="1.3" fill="#231f20"/>
<rect x="326.23" y="39.85" width="1.3" height="1.3" fill="#231f20"/>
<rect x="328.08" y="39.85" width="1.3" height="1.3" fill="#231f20"/>
<path d="M316.70,44.90 L316.70,43.30 L331.20,43.30 L331.20,44.90" fill="none" stroke="#231f20" stroke-width="0.8"/>
<line x1="324.20" y1="43.30" x2="324.20" y2="44.90" stroke="#231f20" stroke-width="0.8"/>
<rect x="344.00" y="33.95" width="1.3" height="1.3" fill="#231f20"/>
<rect x="345.85" y="33.95" width="1.3" height="1.3" fill="#231f20"/>
<rect x="347.70" y="33.95" width="1.3" height="1.3" fill="#231f20"/>
<path d="M338.70,39.10 L338.70,37.50 L353.20,37.50 L353.20,39.10" fill="none" stroke="#231f20" stroke-width="0.8"/>
<rect x="340.30" y="39.85" width="1.3" height="1.3" fill="#231f20"/>
<rect x="342.15" y="39.85" width="1.3" height="1.3" fill="#231f20"/>
<rect x="344.00" y="39.85" width="1.3" height="1.3" fill="#231f20"/>
<rect x="348.23" y="39.85" width="1.3" height="1.3" fill="#231f20"/>
<rect x="350.08" y="39.85" width="1.3" height="1.3" fill="#231f20"/>
<path d="M338.70,44.90 L338.70,43.30 L353.20,43.30 L353.20,44.90" fill="none" stroke="#231f20" stroke-width="0.8"/>
<line x1="346.20" y1="43.30" x2="346.20" y2="44.90" stroke="#231f20" stroke-width="0.8"/>
<rect x="366.00" y="33.95" width="1.3" height="1.3" fill="#231f20"/>
<rect x="367.85" y="33.95" width="1.3" height="1.3" fill="#231f20"/>
<rect x="369.70" y="33.95" width="1.3" height="1.3" fill="#231f20"/>
<path d="M360.70,39.10 L360.70,37.50 L375.20,37.50 L375.20,39.10" fill="none" stroke="#231f20" stroke-width="0.8"/>
<rect x="362.30" y="39.85" width="1.3" height="1.3" fill="#231f20"/>
<rect x="364.15" y="39.85" width="1.3" height="1.3" fill="#231f20"/>
<rect x="366.00" y="39.85" width="1.3" height="1.3" fill="#231f20"/>
<rect x="371.15" y="39.85" width="1.3" height="1.3" fill="#231f20"/>
<path d="M360.70,44.90 L360.70,43.30 L375.20,43.30 L375.20,44.90" fill="none" stroke="#231f20" stroke-width="0.8"/>
<line x1="368.20" y1="43.30" x2="368.20" y2="44.90" stroke="#231f20" stroke-width="0.8"/>
<rect x="388.00" y="33.95" width="1.3" height="1.3" fill="#231f20"/>
<rect x="389.85" y="33.95" width="1.3" height="1.3" fill="#231f20"/>
<rect x="391.70" y="33.95" width="1.3" height="1.3" fill="#231f20"/>
<path d="M382.70,39.10 L382.70,37.50 L397.20,37.50 L397.20,39.10" fill="none" stroke="#231f20" stroke-width="0.8"/>
<rect x="384.00" y="39.85" width="1.3" height="1.3" fill="#231f20"/>
<rect x="385.85" y="39.85" width="1.3" height="1.3" fill="#231f20"/>
<rect x="387.70" y="39.85" width="1.3" height="1.3" fill="#231f20"/>
<path d="M382.70,44.90 L382.70,43.30 L389.70,43.30 L389.70,44.90" fill="none" stroke="#231f20" stroke-width="0.8"/>
<rect x="410.00" y="33.95" width="1.3" height="1.3" fill="#231f20"/>
<rect x="411.85" y="33.95" width="1.3" height="1.3" fill="#231f20"/>
<rect x="413.70" y="33.95" width="1.3" height="1.3" fill="#231f20"/>
<path d="M404.70,39.10 L404.70,37.50 L419.20,37.50 L419.20,39.10" fill="none" stroke="#231f20" stroke-width="0.8"/>
<rect x="406.93" y="39.85" width="1.3" height="1.3" fill="#231f20"/>
<rect x="408.78" y="39.85" width="1.3" height="1.3" fill="#231f20"/>
<path d="M404.70,44.90 L404.70,43.30 L411.70,43.30 L411.70,44.90" fill="none" stroke="#231f20" stroke-width="0.8"/>
<rect x="432.93" y="33.95" width="1.3" height="1.3" fill="#231f20"/>
<rect x="434.78" y="33.95" width="1.3" height="1.3" fill="#231f20"/>
<path d="M426.70,39.10 L426.70,37.50 L441.20,37.50 L441.20,39.10" fill="none" stroke="#231f20" stroke-width="0.8"/>
<rect x="428.93" y="39.85" width="1.3" height="1.3" fill="#231f20"/>
<rect x="430.78" y="39.85" width="1.3" height="1.3" fill="#231f20"/>
<path d="M426.70,44.90 L426.70,43.30 L433.70,43.30 L433.70,44.90" fill="none" stroke="#231f20" stroke-width="0.8"/>
<rect x="454.93" y="33.95" width="1.3" height="1.3" fill="#231f20"/>
<rect x="456.78" y="33.95" width="1.3" height="1.3" fill="#231f20"/>
<path d="M448.70,39.10 L448.70,37.50 L463.20,37.50 L463.20,39.10" fill="none" stroke="#231f20" stroke-width="0.8"/>
<rect x="450.93" y="39.85" width="1.3" height="1.3" fill="#231f20"/>
<rect x="452.78" y="39.85" width="1.3" height="1.3" fill="#231f20"/>
<path d="M448.70,44.90 L448.70,43.30 L455.70,43.30 L455.70,44.90" fill="none" stroke="#231f20" stroke-width="0.8"/>
<text x="7.00" y="214.30" font-size="12.3" text-anchor="start" fill="#000" font-weight="bold" textLength="7.6" lengthAdjust="spacingAndGlyphs">C</text>
<line x1="41.50" y1="247.00" x2="41.50" y2="341.80" stroke="#231f20" stroke-width="1.1"/>
<line x1="41.20" y1="341.50" x2="156.80" y2="341.50" stroke="#231f20" stroke-width="1.1"/>
<line x1="38.30" y1="249.50" x2="41.50" y2="249.50" stroke="#231f20" stroke-width="0.9"/>
<text x="36.20" y="251.80" font-size="6.6" text-anchor="end" fill="#231f20">100</text>
<line x1="38.30" y1="268.00" x2="41.50" y2="268.00" stroke="#231f20" stroke-width="0.9"/>
<text x="36.20" y="270.30" font-size="6.6" text-anchor="end" fill="#231f20">10</text>
<line x1="38.30" y1="286.30" x2="41.50" y2="286.30" stroke="#231f20" stroke-width="0.9"/>
<text x="36.20" y="288.60" font-size="6.6" text-anchor="end" fill="#231f20">1</text>
<line x1="38.30" y1="304.60" x2="41.50" y2="304.60" stroke="#231f20" stroke-width="0.9"/>
<text x="36.20" y="306.90" font-size="6.6" text-anchor="end" fill="#231f20">0.1</text>
<line x1="38.30" y1="322.90" x2="41.50" y2="322.90" stroke="#231f20" stroke-width="0.9"/>
<text x="36.20" y="325.20" font-size="6.6" text-anchor="end" fill="#231f20">0.01</text>
<line x1="38.30" y1="341.20" x2="41.50" y2="341.20" stroke="#231f20" stroke-width="0.9"/>
<text x="36.20" y="343.50" font-size="6.6" text-anchor="end" fill="#231f20">0.001</text>
<line x1="40.00" y1="335.69" x2="41.50" y2="335.69" stroke="#231f20" stroke-width="0.5"/>
<line x1="40.00" y1="332.47" x2="41.50" y2="332.47" stroke="#231f20" stroke-width="0.5"/>
<line x1="40.00" y1="330.18" x2="41.50" y2="330.18" stroke="#231f20" stroke-width="0.5"/>
<line x1="40.00" y1="328.41" x2="41.50" y2="328.41" stroke="#231f20" stroke-width="0.5"/>
<line x1="40.00" y1="326.96" x2="41.50" y2="326.96" stroke="#231f20" stroke-width="0.5"/>
<line x1="40.00" y1="325.73" x2="41.50" y2="325.73" stroke="#231f20" stroke-width="0.5"/>
<line x1="40.00" y1="324.67" x2="41.50" y2="324.67" stroke="#231f20" stroke-width="0.5"/>
<line x1="40.00" y1="323.74" x2="41.50" y2="323.74" stroke="#231f20" stroke-width="0.5"/>
<line x1="40.00" y1="317.39" x2="41.50" y2="317.39" stroke="#231f20" stroke-width="0.5"/>
<line x1="40.00" y1="314.17" x2="41.50" y2="314.17" stroke="#231f20" stroke-width="0.5"/>
<line x1="40.00" y1="311.88" x2="41.50" y2="311.88" stroke="#231f20" stroke-width="0.5"/>
<line x1="40.00" y1="310.11" x2="41.50" y2="310.11" stroke="#231f20" stroke-width="0.5"/>
<line x1="40.00" y1="308.66" x2="41.50" y2="308.66" stroke="#231f20" stroke-width="0.5"/>
<line x1="40.00" y1="307.43" x2="41.50" y2="307.43" stroke="#231f20" stroke-width="0.5"/>
<line x1="40.00" y1="306.37" x2="41.50" y2="306.37" stroke="#231f20" stroke-width="0.5"/>
<line x1="40.00" y1="305.44" x2="41.50" y2="305.44" stroke="#231f20" stroke-width="0.5"/>
<line x1="40.00" y1="299.09" x2="41.50" y2="299.09" stroke="#231f20" stroke-width="0.5"/>
<line x1="40.00" y1="295.87" x2="41.50" y2="295.87" stroke="#231f20" stroke-width="0.5"/>
<line x1="40.00" y1="293.58" x2="41.50" y2="293.58" stroke="#231f20" stroke-width="0.5"/>
<line x1="40.00" y1="291.81" x2="41.50" y2="291.81" stroke="#231f20" stroke-width="0.5"/>
<line x1="40.00" y1="290.36" x2="41.50" y2="290.36" stroke="#231f20" stroke-width="0.5"/>
<line x1="40.00" y1="289.13" x2="41.50" y2="289.13" stroke="#231f20" stroke-width="0.5"/>
<line x1="40.00" y1="288.07" x2="41.50" y2="288.07" stroke="#231f20" stroke-width="0.5"/>
<line x1="40.00" y1="287.14" x2="41.50" y2="287.14" stroke="#231f20" stroke-width="0.5"/>
<line x1="40.00" y1="280.79" x2="41.50" y2="280.79" stroke="#231f20" stroke-width="0.5"/>
<line x1="40.00" y1="277.57" x2="41.50" y2="277.57" stroke="#231f20" stroke-width="0.5"/>
<line x1="40.00" y1="275.28" x2="41.50" y2="275.28" stroke="#231f20" stroke-width="0.5"/>
<line x1="40.00" y1="273.51" x2="41.50" y2="273.51" stroke="#231f20" stroke-width="0.5"/>
<line x1="40.00" y1="272.06" x2="41.50" y2="272.06" stroke="#231f20" stroke-width="0.5"/>
<line x1="40.00" y1="270.83" x2="41.50" y2="270.83" stroke="#231f20" stroke-width="0.5"/>
<line x1="40.00" y1="269.77" x2="41.50" y2="269.77" stroke="#231f20" stroke-width="0.5"/>
<line x1="40.00" y1="268.84" x2="41.50" y2="268.84" stroke="#231f20" stroke-width="0.5"/>
<line x1="40.00" y1="262.49" x2="41.50" y2="262.49" stroke="#231f20" stroke-width="0.5"/>
<line x1="40.00" y1="259.27" x2="41.50" y2="259.27" stroke="#231f20" stroke-width="0.5"/>
<line x1="40.00" y1="256.98" x2="41.50" y2="256.98" stroke="#231f20" stroke-width="0.5"/>
<line x1="40.00" y1="255.21" x2="41.50" y2="255.21" stroke="#231f20" stroke-width="0.5"/>
<line x1="40.00" y1="253.76" x2="41.50" y2="253.76" stroke="#231f20" stroke-width="0.5"/>
<line x1="40.00" y1="252.53" x2="41.50" y2="252.53" stroke="#231f20" stroke-width="0.5"/>
<line x1="40.00" y1="251.47" x2="41.50" y2="251.47" stroke="#231f20" stroke-width="0.5"/>
<line x1="40.00" y1="250.54" x2="41.50" y2="250.54" stroke="#231f20" stroke-width="0.5"/>
<line x1="41.50" y1="341.50" x2="41.50" y2="344.30" stroke="#231f20" stroke-width="0.9"/>
<text x="41.50" y="352.70" font-size="6.4" text-anchor="middle" fill="#231f20">0</text>
<line x1="63.90" y1="341.50" x2="63.90" y2="344.30" stroke="#231f20" stroke-width="0.9"/>
<text x="63.90" y="352.70" font-size="6.4" text-anchor="middle" fill="#231f20">20</text>
<line x1="86.30" y1="341.50" x2="86.30" y2="344.30" stroke="#231f20" stroke-width="0.9"/>
<text x="86.30" y="352.70" font-size="6.4" text-anchor="middle" fill="#231f20">40</text>
<line x1="108.70" y1="341.50" x2="108.70" y2="344.30" stroke="#231f20" stroke-width="0.9"/>
<text x="108.70" y="352.70" font-size="6.4" text-anchor="middle" fill="#231f20">60</text>
<line x1="131.10" y1="341.50" x2="131.10" y2="344.30" stroke="#231f20" stroke-width="0.9"/>
<text x="131.10" y="352.70" font-size="6.4" text-anchor="middle" fill="#231f20">80</text>
<line x1="153.50" y1="341.50" x2="153.50" y2="344.30" stroke="#231f20" stroke-width="0.9"/>
<text x="153.50" y="352.70" font-size="6.4" text-anchor="middle" fill="#231f20">100</text>
<text x="76.30" y="365.20" font-size="8.8" text-anchor="start" fill="#231f20" textLength="42.3" lengthAdjust="spacingAndGlyphs">% methylation</text>
<text x="14.60" y="295.40" font-size="7.6" text-anchor="middle" fill="#231f20" textLength="61.4" lengthAdjust="spacingAndGlyphs" transform="rotate(-90 14.60 295.40)">IC<tspan font-size="5.2" dy="1.5">50</tspan><tspan dy="-1.5"> of L-Asp (IU/mL)</tspan></text>
<text x="56.00" y="245.30" font-size="6.6" text-anchor="start" fill="#231f20">r=-0.51, R<tspan font-size="4.3" dy="-2.4">2</tspan><tspan dy="2.4">=0.26, p=7.4x10</tspan><tspan font-size="4.3" dy="-2.4">-7</tspan></text>
<rect x="43.05" y="255.45" width="2.3" height="2.3" fill="#1b2a5e"/>
<rect x="49.65" y="255.45" width="2.3" height="2.3" fill="#1b2a5e"/>
<rect x="52.65" y="255.45" width="2.3" height="2.3" fill="#1b2a5e"/>
<rect x="48.05" y="266.85" width="2.3" height="2.3" fill="#1b2a5e"/>
<rect x="48.05" y="274.25" width="2.3" height="2.3" fill="#1b2a5e"/>
<rect x="40.85" y="279.65" width="2.3" height="2.3" fill="#1b2a5e"/>
<rect x="43.05" y="278.55" width="2.3" height="2.3" fill="#1b2a5e"/>
<rect x="48.45" y="286.15" width="2.3" height="2.3" fill="#1b2a5e"/>
<rect x="40.75" y="288.45" width="2.3" height="2.3" fill="#1b2a5e"/>
<rect x="42.35" y="287.85" width="2.3" height="2.3" fill="#1b2a5e"/>
<rect x="43.35" y="288.85" width="2.3" height="2.3" fill="#1b2a5e"/>
<rect x="45.85" y="289.65" width="2.3" height="2.3" fill="#1b2a5e"/>
<rect x="43.85" y="292.75" width="2.3" height="2.3" fill="#1b2a5e"/>
<rect x="58.15" y="293.35" width="2.3" height="2.3" fill="#1b2a5e"/>
<rect x="61.85" y="288.85" width="2.3" height="2.3" fill="#1b2a5e"/>
<rect x="64.65" y="290.35" width="2.3" height="2.3" fill="#1b2a5e"/>
<rect x="67.65" y="285.65" width="2.3" height="2.3" fill="#1b2a5e"/>
<rect x="59.65" y="279.65" width="2.3" height="2.3" fill="#1b2a5e"/>
<rect x="61.85" y="278.85" width="2.3" height="2.3" fill="#1b2a5e"/>
<rect x="76.25" y="275.85" width="2.3" height="2.3" fill="#1b2a5e"/>
<rect x="75.65" y="295.85" width="2.3" height="2.3" fill="#1b2a5e"/>
<rect x="77.65" y="299.55" width="2.3" height="2.3" fill="#1b2a5e"/>
<rect x="71.55" y="302.05" width="2.3" height="2.3" fill="#1b2a5e"/>
<rect x="67.65" y="306.65" width="2.3" height="2.3" fill="#1b2a5e"/>
<rect x="41.25" y="305.65" width="2.3" height="2.3" fill="#1b2a5e"/>
<rect x="45.35" y="291.35" width="2.3" height="2.3" fill="#1b2a5e"/>
<path d="M84.50,255.40 L85.90,256.80 L84.50,258.20 L83.10,256.80Z" fill="#f0b200" stroke="#6e5200" stroke-width="0.55"/>
<path d="M85.70,256.10 L87.10,257.50 L85.70,258.90 L84.30,257.50Z" fill="#f0b200" stroke="#6e5200" stroke-width="0.55"/>
<path d="M87.10,255.40 L88.50,256.80 L87.10,258.20 L85.70,256.80Z" fill="#f0b200" stroke="#6e5200" stroke-width="0.55"/>
<path d="M86.00,257.10 L87.40,258.50 L86.00,259.90 L84.60,258.50Z" fill="#f0b200" stroke="#6e5200" stroke-width="0.55"/>
<path d="M106.50,255.40 L107.90,256.80 L106.50,258.20 L105.10,256.80Z" fill="#f0b200" stroke="#6e5200" stroke-width="0.55"/>
<path d="M115.10,255.40 L116.50,256.80 L115.10,258.20 L113.70,256.80Z" fill="#f0b200" stroke="#6e5200" stroke-width="0.55"/>
<path d="M89.20,267.80 L90.60,269.20 L89.20,270.60 L87.80,269.20Z" fill="#f0b200" stroke="#6e5200" stroke-width="0.55"/>
<path d="M85.00,270.80 L86.40,272.20 L85.00,273.60 L83.60,272.20Z" fill="#f0b200" stroke="#6e5200" stroke-width="0.55"/>
<path d="M101.00,273.60 L102.40,275.00 L101.00,276.40 L99.60,275.00Z" fill="#f0b200" stroke="#6e5200" stroke-width="0.55"/>
<path d="M87.10,280.80 L88.50,282.20 L87.10,283.60 L85.70,282.20Z" fill="#f0b200" stroke="#6e5200" stroke-width="0.55"/>
<path d="M81.90,284.60 L83.30,286.00 L81.90,287.40 L80.50,286.00Z" fill="#f0b200" stroke="#6e5200" stroke-width="0.55"/>
<path d="M94.90,286.00 L96.30,287.40 L94.90,288.80 L93.50,287.40Z" fill="#f0b200" stroke="#6e5200" stroke-width="0.55"/>
<path d="M100.00,283.70 L101.40,285.10 L100.00,286.50 L98.60,285.10Z" fill="#f0b200" stroke="#6e5200" stroke-width="0.55"/>
<path d="M86.80,290.60 L88.20,292.00 L86.80,293.40 L85.40,292.00Z" fill="#f0b200" stroke="#6e5200" stroke-width="0.55"/>
<path d="M91.00,291.10 L92.40,292.50 L91.00,293.90 L89.60,292.50Z" fill="#f0b200" stroke="#6e5200" stroke-width="0.55"/>
<path d="M99.20,290.60 L100.60,292.00 L99.20,293.40 L97.80,292.00Z" fill="#f0b200" stroke="#6e5200" stroke-width="0.55"/>
<path d="M81.60,294.60 L83.00,296.00 L81.60,297.40 L80.20,296.00Z" fill="#f0b200" stroke="#6e5200" stroke-width="0.55"/>
<path d="M84.50,294.60 L85.90,296.00 L84.50,297.40 L83.10,296.00Z" fill="#f0b200" stroke="#6e5200" stroke-width="0.55"/>
<path d="M94.90,293.80 L96.30,295.20 L94.90,296.60 L93.50,295.20Z" fill="#f0b200" stroke="#6e5200" stroke-width="0.55"/>
<path d="M86.50,291.00 L87.90,292.40 L86.50,293.80 L85.10,292.40Z" fill="#f0b200" stroke="#6e5200" stroke-width="0.55"/>
<path d="M91.20,291.30 L92.60,292.70 L91.20,294.10 L89.80,292.70Z" fill="#f0b200" stroke="#6e5200" stroke-width="0.55"/>
<path d="M99.30,291.30 L100.70,292.70 L99.30,294.10 L97.90,292.70Z" fill="#f0b200" stroke="#6e5200" stroke-width="0.55"/>
<path d="M81.20,294.60 L82.60,296.00 L81.20,297.40 L79.80,296.00Z" fill="#f0b200" stroke="#6e5200" stroke-width="0.55"/>
<path d="M84.50,294.60 L85.90,296.00 L84.50,297.40 L83.10,296.00Z" fill="#f0b200" stroke="#6e5200" stroke-width="0.55"/>
<path d="M94.70,294.60 L96.10,296.00 L94.70,297.40 L93.30,296.00Z" fill="#f0b200" stroke="#6e5200" stroke-width="0.55"/>
<path d="M88.80,297.10 L90.20,298.50 L88.80,299.90 L87.40,298.50Z" fill="#f0b200" stroke="#6e5200" stroke-width="0.55"/>
<path d="M88.00,299.30 L89.40,300.70 L88.00,302.10 L86.60,300.70Z" fill="#f0b200" stroke="#6e5200" stroke-width="0.55"/>
<path d="M82.00,300.80 L83.40,302.20 L82.00,303.60 L80.60,302.20Z" fill="#f0b200" stroke="#6e5200" stroke-width="0.55"/>
<path d="M91.60,301.30 L93.00,302.70 L91.60,304.10 L90.20,302.70Z" fill="#f0b200" stroke="#6e5200" stroke-width="0.55"/>
<path d="M90.70,303.30 L92.10,304.70 L90.70,306.10 L89.30,304.70Z" fill="#f0b200" stroke="#6e5200" stroke-width="0.55"/>
<path d="M92.70,305.10 L94.10,306.50 L92.70,307.90 L91.30,306.50Z" fill="#f0b200" stroke="#6e5200" stroke-width="0.55"/>
<path d="M96.80,305.10 L98.20,306.50 L96.80,307.90 L95.40,306.50Z" fill="#f0b200" stroke="#6e5200" stroke-width="0.55"/>
<path d="M91.20,306.60 L92.60,308.00 L91.20,309.40 L89.80,308.00Z" fill="#f0b200" stroke="#6e5200" stroke-width="0.55"/>
<path d="M88.50,309.00 L89.90,310.40 L88.50,311.80 L87.10,310.40Z" fill="#f0b200" stroke="#6e5200" stroke-width="0.55"/>
<path d="M101.50,309.00 L102.90,310.40 L101.50,311.80 L100.10,310.40Z" fill="#f0b200" stroke="#6e5200" stroke-width="0.55"/>
<path d="M107.00,298.20 L108.40,299.60 L107.00,301.00 L105.60,299.60Z" fill="#f0b200" stroke="#6e5200" stroke-width="0.55"/>
<path d="M112.00,298.20 L113.40,299.60 L112.00,301.00 L110.60,299.60Z" fill="#f0b200" stroke="#6e5200" stroke-width="0.55"/>
<path d="M113.50,298.20 L114.90,299.60 L113.50,301.00 L112.10,299.60Z" fill="#f0b200" stroke="#6e5200" stroke-width="0.55"/>
<path d="M93.20,321.80 L94.60,323.20 L93.20,324.60 L91.80,323.20Z" fill="#f0b200" stroke="#6e5200" stroke-width="0.55"/>
<circle cx="143.90" cy="256.80" r="1.6" fill="#8e0c22"/>
<circle cx="144.20" cy="283.40" r="1.6" fill="#8e0c22"/>
<circle cx="120.30" cy="296.00" r="1.6" fill="#8e0c22"/>
<circle cx="136.40" cy="294.70" r="1.6" fill="#8e0c22"/>
<circle cx="147.70" cy="297.80" r="1.6" fill="#8e0c22"/>
<circle cx="146.50" cy="311.50" r="1.6" fill="#8e0c22"/>
<circle cx="119.20" cy="323.00" r="1.6" fill="#8e0c22"/>
<circle cx="119.50" cy="328.80" r="1.6" fill="#8e0c22"/>
<circle cx="130.80" cy="328.80" r="1.6" fill="#8e0c22"/>
<circle cx="132.60" cy="332.80" r="1.6" fill="#8e0c22"/>
<circle cx="145.40" cy="328.80" r="1.6" fill="#8e0c22"/>
<circle cx="149.00" cy="328.80" r="1.6" fill="#8e0c22"/>
<circle cx="148.00" cy="330.80" r="1.6" fill="#8e0c22"/>
<circle cx="148.00" cy="332.80" r="1.6" fill="#8e0c22"/>
<circle cx="149.50" cy="332.80" r="1.6" fill="#8e0c22"/>
<circle cx="141.20" cy="335.80" r="1.6" fill="#8e0c22"/>
<circle cx="145.80" cy="335.80" r="1.6" fill="#8e0c22"/>
<line x1="192.30" y1="246.20" x2="192.30" y2="341.90" stroke="#231f20" stroke-width="1.1"/>
<line x1="192.00" y1="341.60" x2="237.90" y2="341.60" stroke="#231f20" stroke-width="1.1"/>
<line x1="188.80" y1="248.90" x2="192.30" y2="248.90" stroke="#231f20" stroke-width="0.9"/>
<text x="186.30" y="251.20" font-size="6.4" text-anchor="end" fill="#231f20">2</text>
<line x1="188.80" y1="267.35" x2="192.30" y2="267.35" stroke="#231f20" stroke-width="0.9"/>
<text x="186.30" y="269.65" font-size="6.4" text-anchor="end" fill="#231f20">1</text>
<line x1="188.80" y1="285.80" x2="192.30" y2="285.80" stroke="#231f20" stroke-width="0.9"/>
<text x="186.30" y="288.10" font-size="6.4" text-anchor="end" fill="#231f20">0</text>
<line x1="188.80" y1="304.25" x2="192.30" y2="304.25" stroke="#231f20" stroke-width="0.9"/>
<text x="186.30" y="306.55" font-size="6.4" text-anchor="end" fill="#231f20">-1</text>
<line x1="188.80" y1="322.70" x2="192.30" y2="322.70" stroke="#231f20" stroke-width="0.9"/>
<text x="186.30" y="325.00" font-size="6.4" text-anchor="end" fill="#231f20">-2</text>
<line x1="188.80" y1="341.15" x2="192.30" y2="341.15" stroke="#231f20" stroke-width="0.9"/>
<text x="186.30" y="343.45" font-size="6.4" text-anchor="end" fill="#231f20">-3</text>
<line x1="190.80" y1="339.31" x2="192.30" y2="339.31" stroke="#231f20" stroke-width="0.45"/>
<line x1="190.80" y1="337.46" x2="192.30" y2="337.46" stroke="#231f20" stroke-width="0.45"/>
<line x1="190.80" y1="335.62" x2="192.30" y2="335.62" stroke="#231f20" stroke-width="0.45"/>
<line x1="190.80" y1="333.77" x2="192.30" y2="333.77" stroke="#231f20" stroke-width="0.45"/>
<line x1="190.80" y1="331.93" x2="192.30" y2="331.93" stroke="#231f20" stroke-width="0.45"/>
<line x1="190.80" y1="330.08" x2="192.30" y2="330.08" stroke="#231f20" stroke-width="0.45"/>
<line x1="190.80" y1="328.24" x2="192.30" y2="328.24" stroke="#231f20" stroke-width="0.45"/>
<line x1="190.80" y1="326.39" x2="192.30" y2="326.39" stroke="#231f20" stroke-width="0.45"/>
<line x1="190.80" y1="324.55" x2="192.30" y2="324.55" stroke="#231f20" stroke-width="0.45"/>
<line x1="190.80" y1="320.86" x2="192.30" y2="320.86" stroke="#231f20" stroke-width="0.45"/>
<line x1="190.80" y1="319.01" x2="192.30" y2="319.01" stroke="#231f20" stroke-width="0.45"/>
<line x1="190.80" y1="317.17" x2="192.30" y2="317.17" stroke="#231f20" stroke-width="0.45"/>
<line x1="190.80" y1="315.32" x2="192.30" y2="315.32" stroke="#231f20" stroke-width="0.45"/>
<line x1="190.80" y1="313.48" x2="192.30" y2="313.48" stroke="#231f20" stroke-width="0.45"/>
<line x1="190.80" y1="311.63" x2="192.30" y2="311.63" stroke="#231f20" stroke-width="0.45"/>
<line x1="190.80" y1="309.79" x2="192.30" y2="309.79" stroke="#231f20" stroke-width="0.45"/>
<line x1="190.80" y1="307.94" x2="192.30" y2="307.94" stroke="#231f20" stroke-width="0.45"/>
<line x1="190.80" y1="306.10" x2="192.30" y2="306.10" stroke="#231f20" stroke-width="0.45"/>
<line x1="190.80" y1="302.41" x2="192.30" y2="302.41" stroke="#231f20" stroke-width="0.45"/>
<line x1="190.80" y1="300.56" x2="192.30" y2="300.56" stroke="#231f20" stroke-width="0.45"/>
<line x1="190.80" y1="298.72" x2="192.30" y2="298.72" stroke="#231f20" stroke-width="0.45"/>
<line x1="190.80" y1="296.87" x2="192.30" y2="296.87" stroke="#231f20" stroke-width="0.45"/>
<line x1="190.80" y1="295.03" x2="192.30" y2="295.03" stroke="#231f20" stroke-width="0.45"/>
<line x1="190.80" y1="293.18" x2="192.30" y2="293.18" stroke="#231f20" stroke-width="0.45"/>
<line x1="190.80" y1="291.34" x2="192.30" y2="291.34" stroke="#231f20" stroke-width="0.45"/>
<line x1="190.80" y1="289.49" x2="192.30" y2="289.49" stroke="#231f20" stroke-width="0.45"/>
<line x1="190.80" y1="287.65" x2="192.30" y2="287.65" stroke="#231f20" stroke-width="0.45"/>
<line x1="190.80" y1="283.95" x2="192.30" y2="283.95" stroke="#231f20" stroke-width="0.45"/>
<line x1="190.80" y1="282.11" x2="192.30" y2="282.11" stroke="#231f20" stroke-width="0.45"/>
<line x1="190.80" y1="280.26" x2="192.30" y2="280.26" stroke="#231f20" stroke-width="0.45"/>
<line x1="190.80" y1="278.42" x2="192.30" y2="278.42" stroke="#231f20" stroke-width="0.45"/>
<line x1="190.80" y1="276.57" x2="192.30" y2="276.57" stroke="#231f20" stroke-width="0.45"/>
<line x1="190.80" y1="274.73" x2="192.30" y2="274.73" stroke="#231f20" stroke-width="0.45"/>
<line x1="190.80" y1="272.88" x2="192.30" y2="272.88" stroke="#231f20" stroke-width="0.45"/>
<line x1="190.80" y1="271.04" x2="192.30" y2="271.04" stroke="#231f20" stroke-width="0.45"/>
<line x1="190.80" y1="269.19" x2="192.30" y2="269.19" stroke="#231f20" stroke-width="0.45"/>
<line x1="190.80" y1="265.50" x2="192.30" y2="265.50" stroke="#231f20" stroke-width="0.45"/>
<line x1="190.80" y1="263.66" x2="192.30" y2="263.66" stroke="#231f20" stroke-width="0.45"/>
<line x1="190.80" y1="261.81" x2="192.30" y2="261.81" stroke="#231f20" stroke-width="0.45"/>
<line x1="190.80" y1="259.97" x2="192.30" y2="259.97" stroke="#231f20" stroke-width="0.45"/>
<line x1="190.80" y1="258.12" x2="192.30" y2="258.12" stroke="#231f20" stroke-width="0.45"/>
<line x1="190.80" y1="256.28" x2="192.30" y2="256.28" stroke="#231f20" stroke-width="0.45"/>
<line x1="190.80" y1="254.44" x2="192.30" y2="254.44" stroke="#231f20" stroke-width="0.45"/>
<line x1="190.80" y1="252.59" x2="192.30" y2="252.59" stroke="#231f20" stroke-width="0.45"/>
<line x1="190.80" y1="250.75" x2="192.30" y2="250.75" stroke="#231f20" stroke-width="0.45"/>
<text x="178.60" y="295.10" font-size="7.6" text-anchor="middle" fill="#231f20" textLength="72" lengthAdjust="spacingAndGlyphs" transform="rotate(-90 178.60 295.10)">Log IC<tspan font-size="5.2" dy="1.5">50</tspan><tspan dy="-1.5"> of L-Asp (IU/mL)</tspan></text>
<line x1="200.10" y1="269.93" x2="200.10" y2="278.05" stroke="#3a3a3a" stroke-width="0.9"/>
<line x1="200.10" y1="289.49" x2="200.10" y2="307.02" stroke="#3a3a3a" stroke-width="0.9"/>
<line x1="197.90" y1="269.93" x2="202.30" y2="269.93" stroke="#3a3a3a" stroke-width="0.9"/>
<line x1="197.90" y1="307.02" x2="202.30" y2="307.02" stroke="#3a3a3a" stroke-width="0.9"/>
<rect x="197.00" y="278.05" width="6.20" height="11.44" fill="#8ec0ec"/>
<line x1="197.00" y1="287.65" x2="203.20" y2="287.65" stroke="#3b2d1c" stroke-width="1.3"/>
<line x1="214.10" y1="268.46" x2="214.10" y2="273.07" stroke="#3a3a3a" stroke-width="0.9"/>
<line x1="214.10" y1="300.56" x2="214.10" y2="323.25" stroke="#3a3a3a" stroke-width="0.9"/>
<line x1="211.90" y1="268.46" x2="216.30" y2="268.46" stroke="#3a3a3a" stroke-width="0.9"/>
<line x1="211.90" y1="323.25" x2="216.30" y2="323.25" stroke="#3a3a3a" stroke-width="0.9"/>
<rect x="211.00" y="273.07" width="6.20" height="27.49" fill="#f3cf62"/>
<line x1="211.00" y1="289.86" x2="217.20" y2="289.86" stroke="#3b2d1c" stroke-width="1.3"/>
<line x1="229.70" y1="288.94" x2="229.70" y2="297.05" stroke="#3a3a3a" stroke-width="0.9"/>
<line x1="229.70" y1="333.77" x2="229.70" y2="335.62" stroke="#3a3a3a" stroke-width="0.9"/>
<line x1="227.50" y1="288.94" x2="231.90" y2="288.94" stroke="#3a3a3a" stroke-width="0.9"/>
<line x1="227.50" y1="335.62" x2="231.90" y2="335.62" stroke="#3a3a3a" stroke-width="0.9"/>
<rect x="226.60" y="297.05" width="6.20" height="36.72" fill="#bf4c4a"/>
<line x1="226.60" y1="327.13" x2="232.80" y2="327.13" stroke="#3b2d1c" stroke-width="1.3"/>
<circle cx="195.90" cy="255.00" r="1.15" fill="#d6ecf8" stroke="#6ab0d8" stroke-width="0.7"/>
<circle cx="198.50" cy="255.00" r="1.15" fill="#d6ecf8" stroke="#6ab0d8" stroke-width="0.7"/>
<circle cx="201.10" cy="255.00" r="1.15" fill="#d6ecf8" stroke="#6ab0d8" stroke-width="0.7"/>
<circle cx="203.70" cy="255.00" r="1.15" fill="#d6ecf8" stroke="#6ab0d8" stroke-width="0.7"/>
<circle cx="200.20" cy="267.30" r="1.15" fill="#d6ecf8" stroke="#6ab0d8" stroke-width="0.7"/>
<circle cx="207.50" cy="255.00" r="1.15" fill="#f0c030" stroke="#c89a10" stroke-width="0.7"/>
<circle cx="209.95" cy="255.00" r="1.15" fill="#f0c030" stroke="#c89a10" stroke-width="0.7"/>
<circle cx="212.40" cy="255.00" r="1.15" fill="#f0c030" stroke="#c89a10" stroke-width="0.7"/>
<circle cx="214.85" cy="255.00" r="1.15" fill="#f0c030" stroke="#c89a10" stroke-width="0.7"/>
<circle cx="217.30" cy="255.00" r="1.15" fill="#f0c030" stroke="#c89a10" stroke-width="0.7"/>
<circle cx="219.75" cy="255.00" r="1.15" fill="#f0c030" stroke="#c89a10" stroke-width="0.7"/>
<circle cx="222.20" cy="255.00" r="1.15" fill="#f0c030" stroke="#c89a10" stroke-width="0.7"/>
<circle cx="214.80" cy="256.90" r="1.15" fill="#f0c030" stroke="#c89a10" stroke-width="0.7"/>
<circle cx="229.50" cy="255.00" r="1.15" fill="#f8e0d0" stroke="#d08a60" stroke-width="0.7"/>
<circle cx="229.50" cy="283.70" r="1.15" fill="#f8e0d0" stroke="#d08a60" stroke-width="0.7"/>
<path d="M202.10,236.10 L202.10,233.90 L227.80,233.90 L227.80,236.10" fill="none" stroke="#231f20" stroke-width="0.8"/>
<rect x="212.25" y="230.45" width="1.3" height="1.3" fill="#231f20"/>
<rect x="214.15" y="230.45" width="1.3" height="1.3" fill="#231f20"/>
<rect x="216.05" y="230.45" width="1.3" height="1.3" fill="#231f20"/>
<path d="M202.10,247.00 L202.10,244.80 L212.80,244.80 L212.80,247.00" fill="none" stroke="#231f20" stroke-width="0.8"/>
<path d="M216.20,247.00 L216.20,244.80 L227.80,244.80 L227.80,247.00" fill="none" stroke="#231f20" stroke-width="0.8"/>
<rect x="219.75" y="240.95" width="1.3" height="1.3" fill="#231f20"/>
<rect x="221.65" y="240.95" width="1.3" height="1.3" fill="#231f20"/>
<rect x="223.55" y="240.95" width="1.3" height="1.3" fill="#231f20"/>
<text x="203.70" y="346.30" font-size="6.6" text-anchor="end" fill="#231f20" transform="rotate(-45 203.70 346.30)">Weak</text>
<text x="217.70" y="346.30" font-size="6.6" text-anchor="end" fill="#231f20" transform="rotate(-45 217.70 346.30)">Intermediate</text>
<text x="233.30" y="346.30" font-size="6.6" text-anchor="end" fill="#231f20" transform="rotate(-45 233.30 346.30)">High</text>
<text x="254.00" y="214.30" font-size="12.3" text-anchor="start" fill="#000" font-weight="bold" textLength="8.0" lengthAdjust="spacingAndGlyphs">D</text>
<text x="274.40" y="282.10" font-size="8.2" text-anchor="middle" fill="#231f20" textLength="92" lengthAdjust="spacingAndGlyphs" transform="rotate(-90 274.40 282.10)">Relative <tspan font-style="italic">ASNS</tspan> gene expression</text>
<text x="253.80" y="353.90" font-size="7.6" text-anchor="start" fill="#231f20" textLength="40.8" lengthAdjust="spacingAndGlyphs">l-asparaginase</text>
<rect x="295.80" y="225.20" width="45.60" height="116.40" fill="#e9f0fa"/>
<line x1="295.20" y1="223.80" x2="295.20" y2="341.90" stroke="#231f20" stroke-width="1.1"/>
<line x1="294.90" y1="341.60" x2="343.80" y2="341.60" stroke="#231f20" stroke-width="1.1"/>
<line x1="295.20" y1="341.60" x2="295.20" y2="344.60" stroke="#231f20" stroke-width="0.9"/>
<line x1="318.30" y1="341.60" x2="318.30" y2="344.60" stroke="#231f20" stroke-width="0.9"/>
<line x1="341.40" y1="341.60" x2="341.40" y2="344.60" stroke="#231f20" stroke-width="0.9"/>
<line x1="291.90" y1="341.60" x2="295.20" y2="341.60" stroke="#231f20" stroke-width="0.9"/>
<text x="289.60" y="343.90" font-size="6.5" text-anchor="end" fill="#231f20">0</text>
<line x1="291.90" y1="312.50" x2="295.20" y2="312.50" stroke="#231f20" stroke-width="0.9"/>
<text x="289.60" y="314.80" font-size="6.5" text-anchor="end" fill="#231f20">0.5</text>
<line x1="291.90" y1="283.40" x2="295.20" y2="283.40" stroke="#231f20" stroke-width="0.9"/>
<text x="289.60" y="285.70" font-size="6.5" text-anchor="end" fill="#231f20">1</text>
<line x1="291.90" y1="254.30" x2="295.20" y2="254.30" stroke="#231f20" stroke-width="0.9"/>
<text x="289.60" y="256.60" font-size="6.5" text-anchor="end" fill="#231f20">1.5</text>
<line x1="291.90" y1="225.20" x2="295.20" y2="225.20" stroke="#231f20" stroke-width="0.9"/>
<text x="289.60" y="227.50" font-size="6.5" text-anchor="end" fill="#231f20">2</text>
<text x="319.40" y="210.60" font-size="8.4" text-anchor="middle" fill="#231f20" textLength="20.8" lengthAdjust="spacingAndGlyphs">Weak</text>
<text x="319.40" y="221.00" font-size="6.6" text-anchor="middle" fill="#231f20" textLength="27.2" lengthAdjust="spacingAndGlyphs">p=0.0032</text>
<text x="306.20" y="353.90" font-size="6.6" text-anchor="middle" fill="#231f20">(-)</text>
<text x="329.20" y="353.90" font-size="6.6" text-anchor="middle" fill="#231f20">(+)</text>
<g stroke="#1f3c7c" stroke-width="0.8">
<line x1="306.20" y1="270.01" x2="329.20" y2="257.21"/>
<line x1="306.20" y1="277.58" x2="329.20" y2="267.10"/>
<line x1="306.20" y1="283.40" x2="329.20" y2="283.40"/>
<line x1="306.20" y1="290.97" x2="329.20" y2="270.60"/>
<line x1="306.20" y1="296.20" x2="329.20" y2="243.82"/>
<line x1="306.20" y1="299.70" x2="329.20" y2="286.31"/>
<line x1="306.20" y1="302.02" x2="329.20" y2="280.49"/>
<line x1="306.20" y1="303.77" x2="329.20" y2="255.46"/>
<line x1="306.20" y1="305.52" x2="329.20" y2="289.22"/>
<line x1="306.20" y1="307.84" x2="329.20" y2="305.52"/>
<line x1="306.20" y1="309.59" x2="329.20" y2="307.84"/>
<line x1="306.20" y1="311.34" x2="329.20" y2="303.19"/>
<line x1="306.20" y1="312.50" x2="329.20" y2="297.95"/>
<line x1="306.20" y1="313.66" x2="329.20" y2="300.86"/>
<line x1="306.20" y1="314.83" x2="329.20" y2="295.04"/>
<line x1="306.20" y1="315.99" x2="329.20" y2="299.70"/>
<line x1="306.20" y1="317.16" x2="329.20" y2="313.66"/>
<line x1="306.20" y1="318.32" x2="329.20" y2="292.13"/>
<line x1="306.20" y1="319.48" x2="329.20" y2="311.34"/>
<line x1="306.20" y1="320.65" x2="329.20" y2="309.59"/>
<line x1="306.20" y1="321.81" x2="329.20" y2="317.16"/>
<line x1="306.20" y1="322.98" x2="329.20" y2="315.41"/>
<line x1="306.20" y1="324.14" x2="329.20" y2="312.50"/>
<line x1="306.20" y1="325.30" x2="329.20" y2="312.50"/>
<line x1="306.20" y1="326.47" x2="329.20" y2="306.68"/>
<line x1="306.20" y1="327.63" x2="329.20" y2="304.35"/>
<line x1="306.20" y1="328.80" x2="329.20" y2="315.99"/>
<line x1="306.20" y1="329.96" x2="329.20" y2="320.65"/>
<line x1="306.20" y1="331.12" x2="329.20" y2="319.48"/>
<line x1="306.20" y1="332.29" x2="329.20" y2="318.32"/>
<line x1="306.20" y1="314.25" x2="329.20" y2="288.06"/>
<line x1="306.20" y1="321.23" x2="329.20" y2="314.25"/>
</g>
<line x1="300.50" y1="273.51" x2="300.50" y2="330.54" stroke="#4a4a4a" stroke-width="0.8"/>
<line x1="298.50" y1="273.51" x2="302.50" y2="273.51" stroke="#4a4a4a" stroke-width="0.8"/>
<line x1="298.50" y1="330.54" x2="302.50" y2="330.54" stroke="#4a4a4a" stroke-width="0.8"/>
<rect x="297.60" y="300.28" width="5.80" height="18.62" fill="#8fbfeb"/>
<line x1="297.60" y1="313.37" x2="303.40" y2="313.37" stroke="#231f20" stroke-width="1.1"/>
<line x1="335.20" y1="243.82" x2="335.20" y2="320.65" stroke="#4a4a4a" stroke-width="0.8"/>
<line x1="333.20" y1="243.82" x2="337.20" y2="243.82" stroke="#4a4a4a" stroke-width="0.8"/>
<line x1="333.20" y1="320.65" x2="337.20" y2="320.65" stroke="#4a4a4a" stroke-width="0.8"/>
<rect x="332.30" y="283.98" width="5.80" height="28.52" fill="#8fbfeb"/>
<line x1="332.30" y1="298.53" x2="338.10" y2="298.53" stroke="#231f20" stroke-width="1.1"/>
<rect x="369.40" y="225.20" width="45.60" height="116.40" fill="#fcf3df"/>
<line x1="368.80" y1="223.80" x2="368.80" y2="341.90" stroke="#231f20" stroke-width="1.1"/>
<line x1="368.50" y1="341.60" x2="417.40" y2="341.60" stroke="#231f20" stroke-width="1.1"/>
<line x1="368.80" y1="341.60" x2="368.80" y2="344.60" stroke="#231f20" stroke-width="0.9"/>
<line x1="391.90" y1="341.60" x2="391.90" y2="344.60" stroke="#231f20" stroke-width="0.9"/>
<line x1="415.00" y1="341.60" x2="415.00" y2="344.60" stroke="#231f20" stroke-width="0.9"/>
<line x1="365.50" y1="341.60" x2="368.80" y2="341.60" stroke="#231f20" stroke-width="0.9"/>
<text x="363.20" y="343.90" font-size="6.5" text-anchor="end" fill="#231f20">0</text>
<line x1="365.50" y1="312.50" x2="368.80" y2="312.50" stroke="#231f20" stroke-width="0.9"/>
<text x="363.20" y="314.80" font-size="6.5" text-anchor="end" fill="#231f20">0.5</text>
<line x1="365.50" y1="283.40" x2="368.80" y2="283.40" stroke="#231f20" stroke-width="0.9"/>
<text x="363.20" y="285.70" font-size="6.5" text-anchor="end" fill="#231f20">1</text>
<line x1="365.50" y1="254.30" x2="368.80" y2="254.30" stroke="#231f20" stroke-width="0.9"/>
<text x="363.20" y="256.60" font-size="6.5" text-anchor="end" fill="#231f20">1.5</text>
<line x1="365.50" y1="225.20" x2="368.80" y2="225.20" stroke="#231f20" stroke-width="0.9"/>
<text x="363.20" y="227.50" font-size="6.5" text-anchor="end" fill="#231f20">2</text>
<text x="392.80" y="210.60" font-size="8.4" text-anchor="middle" fill="#231f20" textLength="48.5" lengthAdjust="spacingAndGlyphs">Intermediate</text>
<text x="392.70" y="221.00" font-size="6.6" text-anchor="middle" fill="#231f20" textLength="31.3" lengthAdjust="spacingAndGlyphs">p=0.00017</text>
<text x="379.80" y="353.90" font-size="6.6" text-anchor="middle" fill="#231f20">(-)</text>
<text x="402.80" y="353.90" font-size="6.6" text-anchor="middle" fill="#231f20">(+)</text>
<g stroke="#de8c0c" stroke-width="0.8">
<line x1="379.80" y1="281.07" x2="402.80" y2="240.33"/>
<line x1="379.80" y1="288.06" x2="402.80" y2="278.16"/>
<line x1="379.80" y1="297.95" x2="402.80" y2="250.81"/>
<line x1="379.80" y1="306.68" x2="402.80" y2="302.02"/>
<line x1="379.80" y1="309.59" x2="402.80" y2="286.31"/>
<line x1="379.80" y1="312.50" x2="402.80" y2="242.08"/>
<line x1="379.80" y1="313.66" x2="402.80" y2="302.02"/>
<line x1="379.80" y1="314.83" x2="402.80" y2="304.35"/>
<line x1="379.80" y1="315.99" x2="402.80" y2="267.10"/>
<line x1="379.80" y1="317.16" x2="402.80" y2="303.19"/>
<line x1="379.80" y1="318.32" x2="402.80" y2="305.52"/>
<line x1="379.80" y1="318.90" x2="402.80" y2="306.68"/>
<line x1="379.80" y1="319.48" x2="402.80" y2="315.99"/>
<line x1="379.80" y1="320.65" x2="402.80" y2="312.50"/>
<line x1="379.80" y1="321.23" x2="402.80" y2="310.17"/>
<line x1="379.80" y1="321.81" x2="402.80" y2="307.84"/>
<line x1="379.80" y1="322.98" x2="402.80" y2="311.34"/>
<line x1="379.80" y1="324.14" x2="402.80" y2="309.59"/>
<line x1="379.80" y1="324.72" x2="402.80" y2="312.50"/>
<line x1="379.80" y1="325.30" x2="402.80" y2="308.43"/>
<line x1="379.80" y1="326.47" x2="402.80" y2="305.52"/>
<line x1="379.80" y1="327.05" x2="402.80" y2="314.83"/>
<line x1="379.80" y1="327.63" x2="402.80" y2="313.66"/>
<line x1="379.80" y1="328.80" x2="402.80" y2="317.16"/>
<line x1="379.80" y1="329.38" x2="402.80" y2="315.41"/>
<line x1="379.80" y1="329.96" x2="402.80" y2="324.14"/>
<line x1="379.80" y1="331.12" x2="402.80" y2="321.23"/>
<line x1="379.80" y1="332.29" x2="402.80" y2="319.48"/>
<line x1="379.80" y1="334.03" x2="402.80" y2="329.96"/>
<line x1="379.80" y1="335.20" x2="402.80" y2="292.13"/>
<line x1="379.80" y1="315.41" x2="402.80" y2="318.32"/>
<line x1="379.80" y1="324.14" x2="402.80" y2="303.19"/>
</g>
<line x1="374.10" y1="290.97" x2="374.10" y2="335.20" stroke="#4a4a4a" stroke-width="0.8"/>
<line x1="372.10" y1="290.97" x2="376.10" y2="290.97" stroke="#4a4a4a" stroke-width="0.8"/>
<line x1="372.10" y1="335.20" x2="376.10" y2="335.20" stroke="#4a4a4a" stroke-width="0.8"/>
<rect x="371.20" y="314.25" width="5.80" height="12.80" fill="#f3cd5c"/>
<line x1="371.20" y1="318.90" x2="377.00" y2="318.90" stroke="#231f20" stroke-width="1.1"/>
<line x1="408.80" y1="278.74" x2="408.80" y2="328.21" stroke="#4a4a4a" stroke-width="0.8"/>
<line x1="406.80" y1="278.74" x2="410.80" y2="278.74" stroke="#4a4a4a" stroke-width="0.8"/>
<line x1="406.80" y1="328.21" x2="410.80" y2="328.21" stroke="#4a4a4a" stroke-width="0.8"/>
<rect x="405.90" y="302.02" width="5.80" height="13.10" fill="#f3cd5c"/>
<line x1="405.90" y1="305.52" x2="411.70" y2="305.52" stroke="#231f20" stroke-width="1.1"/>
<rect x="442.10" y="225.20" width="45.60" height="116.40" fill="#f0ddd7"/>
<line x1="441.50" y1="223.80" x2="441.50" y2="341.90" stroke="#231f20" stroke-width="1.1"/>
<line x1="441.20" y1="341.60" x2="490.10" y2="341.60" stroke="#231f20" stroke-width="1.1"/>
<line x1="441.50" y1="341.60" x2="441.50" y2="344.60" stroke="#231f20" stroke-width="0.9"/>
<line x1="464.60" y1="341.60" x2="464.60" y2="344.60" stroke="#231f20" stroke-width="0.9"/>
<line x1="487.70" y1="341.60" x2="487.70" y2="344.60" stroke="#231f20" stroke-width="0.9"/>
<line x1="438.20" y1="341.60" x2="441.50" y2="341.60" stroke="#231f20" stroke-width="0.9"/>
<text x="435.90" y="343.90" font-size="6.5" text-anchor="end" fill="#231f20">0</text>
<line x1="438.20" y1="312.50" x2="441.50" y2="312.50" stroke="#231f20" stroke-width="0.9"/>
<text x="435.90" y="314.80" font-size="6.5" text-anchor="end" fill="#231f20">0.5</text>
<line x1="438.20" y1="283.40" x2="441.50" y2="283.40" stroke="#231f20" stroke-width="0.9"/>
<text x="435.90" y="285.70" font-size="6.5" text-anchor="end" fill="#231f20">1</text>
<line x1="438.20" y1="254.30" x2="441.50" y2="254.30" stroke="#231f20" stroke-width="0.9"/>
<text x="435.90" y="256.60" font-size="6.5" text-anchor="end" fill="#231f20">1.5</text>
<line x1="438.20" y1="225.20" x2="441.50" y2="225.20" stroke="#231f20" stroke-width="0.9"/>
<text x="435.90" y="227.50" font-size="6.5" text-anchor="end" fill="#231f20">2</text>
<text x="465.90" y="210.60" font-size="8.4" text-anchor="middle" fill="#231f20" textLength="17.8" lengthAdjust="spacingAndGlyphs">High</text>
<text x="465.70" y="221.00" font-size="6.6" text-anchor="middle" fill="#231f20" textLength="24" lengthAdjust="spacingAndGlyphs">p=0.036</text>
<text x="452.50" y="353.90" font-size="6.6" text-anchor="middle" fill="#231f20">(-)</text>
<text x="475.50" y="353.90" font-size="6.6" text-anchor="middle" fill="#231f20">(+)</text>
<g stroke="#4a2c10" stroke-width="0.8">
<line x1="452.50" y1="309.01" x2="475.50" y2="321.23"/>
<line x1="452.50" y1="314.83" x2="475.50" y2="294.46"/>
<line x1="452.50" y1="315.99" x2="475.50" y2="300.28"/>
<line x1="452.50" y1="317.16" x2="475.50" y2="306.10"/>
<line x1="452.50" y1="319.48" x2="475.50" y2="299.11"/>
<line x1="452.50" y1="323.56" x2="475.50" y2="318.32"/>
<line x1="452.50" y1="324.72" x2="475.50" y2="320.07"/>
<line x1="452.50" y1="327.05" x2="475.50" y2="319.48"/>
<line x1="452.50" y1="330.54" x2="475.50" y2="323.56"/>
<line x1="452.50" y1="331.42" x2="475.50" y2="296.20"/>
<line x1="452.50" y1="328.80" x2="475.50" y2="325.89"/>
<line x1="452.50" y1="334.62" x2="475.50" y2="331.42"/>
<line x1="452.50" y1="335.78" x2="475.50" y2="333.45"/>
<line x1="452.50" y1="336.94" x2="475.50" y2="334.62"/>
<line x1="452.50" y1="338.11" x2="475.50" y2="335.78"/>
<line x1="452.50" y1="338.69" x2="475.50" y2="330.83"/>
<line x1="452.50" y1="339.27" x2="475.50" y2="336.94"/>
<line x1="452.50" y1="325.89" x2="475.50" y2="334.62"/>
<line x1="452.50" y1="322.39" x2="475.50" y2="317.16"/>
</g>
<line x1="446.80" y1="309.59" x2="446.80" y2="339.27" stroke="#4a4a4a" stroke-width="0.8"/>
<line x1="444.80" y1="309.59" x2="448.80" y2="309.59" stroke="#4a4a4a" stroke-width="0.8"/>
<line x1="444.80" y1="339.27" x2="448.80" y2="339.27" stroke="#4a4a4a" stroke-width="0.8"/>
<rect x="443.90" y="320.65" width="5.80" height="13.97" fill="#c0504d"/>
<line x1="443.90" y1="327.63" x2="449.70" y2="327.63" stroke="#231f20" stroke-width="1.1"/>
<line x1="481.50" y1="291.55" x2="481.50" y2="336.94" stroke="#4a4a4a" stroke-width="0.8"/>
<line x1="479.50" y1="291.55" x2="483.50" y2="291.55" stroke="#4a4a4a" stroke-width="0.8"/>
<line x1="479.50" y1="336.94" x2="483.50" y2="336.94" stroke="#4a4a4a" stroke-width="0.8"/>
<rect x="478.60" y="305.52" width="5.80" height="25.03" fill="#c0504d"/>
<line x1="478.60" y1="318.90" x2="484.40" y2="318.90" stroke="#231f20" stroke-width="1.1"/>
<text x="7.70" y="402.40" font-size="12.3" text-anchor="start" fill="#000" font-weight="bold" textLength="6.7" lengthAdjust="spacingAndGlyphs">E</text>
<line x1="34.20" y1="424.40" x2="34.20" y2="492.30" stroke="#231f20" stroke-width="1.1"/>
<line x1="33.90" y1="492.00" x2="116.90" y2="492.00" stroke="#231f20" stroke-width="1.1"/>
<line x1="31.00" y1="492.00" x2="34.20" y2="492.00" stroke="#231f20" stroke-width="0.9"/>
<text x="28.90" y="494.30" font-size="6.6" text-anchor="end" fill="#231f20">0</text>
<line x1="31.00" y1="475.60" x2="34.20" y2="475.60" stroke="#231f20" stroke-width="0.9"/>
<text x="28.90" y="477.90" font-size="6.6" text-anchor="end" fill="#231f20">0.5</text>
<line x1="31.00" y1="459.20" x2="34.20" y2="459.20" stroke="#231f20" stroke-width="0.9"/>
<text x="28.90" y="461.50" font-size="6.6" text-anchor="end" fill="#231f20">1</text>
<line x1="31.00" y1="442.80" x2="34.20" y2="442.80" stroke="#231f20" stroke-width="0.9"/>
<text x="28.90" y="445.10" font-size="6.6" text-anchor="end" fill="#231f20">1.5</text>
<line x1="31.00" y1="426.40" x2="34.20" y2="426.40" stroke="#231f20" stroke-width="0.9"/>
<text x="28.90" y="428.70" font-size="6.6" text-anchor="end" fill="#231f20">2</text>
<line x1="34.20" y1="492.00" x2="34.20" y2="494.80" stroke="#231f20" stroke-width="0.9"/>
<text x="34.20" y="503.80" font-size="6.4" text-anchor="middle" fill="#231f20">0</text>
<line x1="50.10" y1="492.00" x2="50.10" y2="494.80" stroke="#231f20" stroke-width="0.9"/>
<text x="50.10" y="503.80" font-size="6.4" text-anchor="middle" fill="#231f20">20</text>
<line x1="66.00" y1="492.00" x2="66.00" y2="494.80" stroke="#231f20" stroke-width="0.9"/>
<text x="66.00" y="503.80" font-size="6.4" text-anchor="middle" fill="#231f20">40</text>
<line x1="81.90" y1="492.00" x2="81.90" y2="494.80" stroke="#231f20" stroke-width="0.9"/>
<text x="81.90" y="503.80" font-size="6.4" text-anchor="middle" fill="#231f20">60</text>
<line x1="97.80" y1="492.00" x2="97.80" y2="494.80" stroke="#231f20" stroke-width="0.9"/>
<text x="97.80" y="503.80" font-size="6.4" text-anchor="middle" fill="#231f20">80</text>
<line x1="113.70" y1="492.00" x2="113.70" y2="494.80" stroke="#231f20" stroke-width="0.9"/>
<text x="113.70" y="503.80" font-size="6.4" text-anchor="middle" fill="#231f20">100</text>
<text x="53.10" y="515.80" font-size="9.3" text-anchor="start" fill="#231f20" textLength="42.3" lengthAdjust="spacingAndGlyphs">% methylation</text>
<text x="35.60" y="418.20" font-size="6.3" text-anchor="start" fill="#231f20">r=-0.54,R<tspan font-size="4.1" dy="-2.3">2</tspan><tspan dy="2.3">=0.30, p=1.8x10</tspan><tspan font-size="4.1" dy="-2.3">-7</tspan><tspan dy="2.3"></tspan></text>
<text x="13.60" y="459.50" font-size="7.6" text-anchor="middle" fill="#231f20" textLength="94" lengthAdjust="spacingAndGlyphs" transform="rotate(-90 13.60 459.50)">Relative <tspan font-style="italic">ASNS</tspan> gene expression</text>
<rect x="32.60" y="529.00" width="2.4" height="2.4" fill="#1b2a5e"/>
<text x="38.50" y="532.30" font-size="5.8" text-anchor="start" fill="#231f20" textLength="24.5" lengthAdjust="spacingAndGlyphs">0 – 33.3%</text>
<path d="M33.80,537.10 L35.70,539.00 L33.80,540.90 L31.90,539.00Z" fill="#c49e14" stroke="#6a5400" stroke-width="0.45"/>
<text x="38.50" y="541.10" font-size="5.8" text-anchor="start" fill="#231f20" textLength="32.3" lengthAdjust="spacingAndGlyphs">33.4 – 66.6%</text>
<circle cx="80.90" cy="530.20" r="1.45" fill="#8e0c22"/>
<text x="85.20" y="532.30" font-size="5.8" text-anchor="start" fill="#231f20" textLength="30.2" lengthAdjust="spacingAndGlyphs">66.7 – 100%</text>
<rect x="33.60" y="451.50" width="2.0" height="2.0" fill="#1b2a5e"/>
<rect x="33.60" y="459.80" width="2.0" height="2.0" fill="#1b2a5e"/>
<rect x="39.80" y="455.90" width="2.0" height="2.0" fill="#1b2a5e"/>
<rect x="35.90" y="465.00" width="2.0" height="2.0" fill="#1b2a5e"/>
<rect x="37.50" y="465.00" width="2.0" height="2.0" fill="#1b2a5e"/>
<rect x="37.10" y="469.40" width="2.0" height="2.0" fill="#1b2a5e"/>
<rect x="34.60" y="468.20" width="2.0" height="2.0" fill="#1b2a5e"/>
<rect x="41.70" y="468.20" width="2.0" height="2.0" fill="#1b2a5e"/>
<rect x="34.60" y="474.00" width="2.0" height="2.0" fill="#1b2a5e"/>
<rect x="34.60" y="476.50" width="2.0" height="2.0" fill="#1b2a5e"/>
<rect x="39.00" y="474.60" width="2.0" height="2.0" fill="#1b2a5e"/>
<rect x="34.60" y="480.90" width="2.0" height="2.0" fill="#1b2a5e"/>
<rect x="39.00" y="480.30" width="2.0" height="2.0" fill="#1b2a5e"/>
<rect x="39.80" y="482.80" width="2.0" height="2.0" fill="#1b2a5e"/>
<rect x="46.70" y="474.00" width="2.0" height="2.0" fill="#1b2a5e"/>
<rect x="48.00" y="474.00" width="2.0" height="2.0" fill="#1b2a5e"/>
<rect x="45.50" y="476.50" width="2.0" height="2.0" fill="#1b2a5e"/>
<rect x="48.00" y="477.50" width="2.0" height="2.0" fill="#1b2a5e"/>
<rect x="52.50" y="479.00" width="2.0" height="2.0" fill="#1b2a5e"/>
<rect x="53.80" y="479.80" width="2.0" height="2.0" fill="#1b2a5e"/>
<rect x="55.70" y="479.00" width="2.0" height="2.0" fill="#1b2a5e"/>
<rect x="58.60" y="478.40" width="2.0" height="2.0" fill="#1b2a5e"/>
<rect x="50.50" y="485.50" width="2.0" height="2.0" fill="#1b2a5e"/>
<rect x="59.00" y="484.20" width="2.0" height="2.0" fill="#1b2a5e"/>
<rect x="59.60" y="468.80" width="2.0" height="2.0" fill="#1b2a5e"/>
<rect x="52.80" y="480.90" width="2.0" height="2.0" fill="#1b2a5e"/>
<path d="M62.50,457.00 L63.80,458.30 L62.50,459.60 L61.20,458.30Z" fill="#c49e14" stroke="#6a5400" stroke-width="0.4"/>
<path d="M66.90,460.80 L68.20,462.10 L66.90,463.40 L65.60,462.10Z" fill="#c49e14" stroke="#6a5400" stroke-width="0.4"/>
<path d="M68.30,466.60 L69.60,467.90 L68.30,469.20 L67.00,467.90Z" fill="#c49e14" stroke="#6a5400" stroke-width="0.4"/>
<path d="M69.60,467.50 L70.90,468.80 L69.60,470.10 L68.30,468.80Z" fill="#c49e14" stroke="#6a5400" stroke-width="0.4"/>
<path d="M80.80,476.20 L82.10,477.50 L80.80,478.80 L79.50,477.50Z" fill="#c49e14" stroke="#6a5400" stroke-width="0.4"/>
<path d="M84.60,475.20 L85.90,476.50 L84.60,477.80 L83.30,476.50Z" fill="#c49e14" stroke="#6a5400" stroke-width="0.4"/>
<path d="M86.50,478.10 L87.80,479.40 L86.50,480.70 L85.20,479.40Z" fill="#c49e14" stroke="#6a5400" stroke-width="0.4"/>
<path d="M76.90,487.20 L78.20,488.50 L76.90,489.80 L75.60,488.50Z" fill="#c49e14" stroke="#6a5400" stroke-width="0.4"/>
<path d="M85.60,483.30 L86.90,484.60 L85.60,485.90 L84.30,484.60Z" fill="#c49e14" stroke="#6a5400" stroke-width="0.4"/>
<path d="M80.80,480.00 L82.10,481.30 L80.80,482.60 L79.50,481.30Z" fill="#c49e14" stroke="#6a5400" stroke-width="0.4"/>
<path d="M67.24,480.54 L68.54,481.84 L67.24,483.14 L65.94,481.84Z" fill="#c49e14" stroke="#6a5400" stroke-width="0.4"/>
<path d="M74.79,479.22 L76.09,480.52 L74.79,481.82 L73.49,480.52Z" fill="#c49e14" stroke="#6a5400" stroke-width="0.4"/>
<path d="M68.13,480.92 L69.43,482.22 L68.13,483.52 L66.83,482.22Z" fill="#c49e14" stroke="#6a5400" stroke-width="0.4"/>
<path d="M62.95,479.87 L64.25,481.17 L62.95,482.47 L61.65,481.17Z" fill="#c49e14" stroke="#6a5400" stroke-width="0.4"/>
<path d="M70.08,483.80 L71.38,485.10 L70.08,486.40 L68.78,485.10Z" fill="#c49e14" stroke="#6a5400" stroke-width="0.4"/>
<path d="M61.51,476.95 L62.81,478.25 L61.51,479.55 L60.21,478.25Z" fill="#c49e14" stroke="#6a5400" stroke-width="0.4"/>
<path d="M61.45,484.04 L62.75,485.34 L61.45,486.64 L60.15,485.34Z" fill="#c49e14" stroke="#6a5400" stroke-width="0.4"/>
<path d="M71.10,473.29 L72.40,474.59 L71.10,475.89 L69.80,474.59Z" fill="#c49e14" stroke="#6a5400" stroke-width="0.4"/>
<path d="M75.72,486.21 L77.02,487.51 L75.72,488.81 L74.42,487.51Z" fill="#c49e14" stroke="#6a5400" stroke-width="0.4"/>
<path d="M70.46,481.32 L71.76,482.62 L70.46,483.92 L69.16,482.62Z" fill="#c49e14" stroke="#6a5400" stroke-width="0.4"/>
<path d="M62.52,472.91 L63.82,474.21 L62.52,475.51 L61.22,474.21Z" fill="#c49e14" stroke="#6a5400" stroke-width="0.4"/>
<path d="M68.45,473.53 L69.75,474.83 L68.45,476.13 L67.15,474.83Z" fill="#c49e14" stroke="#6a5400" stroke-width="0.4"/>
<path d="M63.04,476.09 L64.34,477.39 L63.04,478.69 L61.74,477.39Z" fill="#c49e14" stroke="#6a5400" stroke-width="0.4"/>
<path d="M60.48,479.20 L61.78,480.50 L60.48,481.80 L59.18,480.50Z" fill="#c49e14" stroke="#6a5400" stroke-width="0.4"/>
<path d="M67.05,484.49 L68.35,485.79 L67.05,487.09 L65.75,485.79Z" fill="#c49e14" stroke="#6a5400" stroke-width="0.4"/>
<path d="M68.31,481.66 L69.61,482.96 L68.31,484.26 L67.01,482.96Z" fill="#c49e14" stroke="#6a5400" stroke-width="0.4"/>
<path d="M68.00,481.97 L69.30,483.27 L68.00,484.57 L66.70,483.27Z" fill="#c49e14" stroke="#6a5400" stroke-width="0.4"/>
<path d="M67.32,476.59 L68.62,477.89 L67.32,479.19 L66.02,477.89Z" fill="#c49e14" stroke="#6a5400" stroke-width="0.4"/>
<path d="M75.96,486.64 L77.26,487.94 L75.96,489.24 L74.66,487.94Z" fill="#c49e14" stroke="#6a5400" stroke-width="0.4"/>
<path d="M73.44,482.61 L74.74,483.91 L73.44,485.21 L72.14,483.91Z" fill="#c49e14" stroke="#6a5400" stroke-width="0.4"/>
<path d="M65.04,475.92 L66.34,477.22 L65.04,478.52 L63.74,477.22Z" fill="#c49e14" stroke="#6a5400" stroke-width="0.4"/>
<path d="M64.62,473.68 L65.92,474.98 L64.62,476.28 L63.32,474.98Z" fill="#c49e14" stroke="#6a5400" stroke-width="0.4"/>
<path d="M72.26,478.31 L73.56,479.61 L72.26,480.91 L70.96,479.61Z" fill="#c49e14" stroke="#6a5400" stroke-width="0.4"/>
<path d="M73.55,478.11 L74.85,479.41 L73.55,480.71 L72.25,479.41Z" fill="#c49e14" stroke="#6a5400" stroke-width="0.4"/>
<circle cx="90.00" cy="474.20" r="1.4" fill="#8e0c22"/>
<circle cx="90.00" cy="478.50" r="1.4" fill="#8e0c22"/>
<circle cx="91.30" cy="479.40" r="1.4" fill="#8e0c22"/>
<circle cx="101.90" cy="480.80" r="1.4" fill="#8e0c22"/>
<circle cx="99.00" cy="483.80" r="1.4" fill="#8e0c22"/>
<circle cx="98.00" cy="490.00" r="1.4" fill="#8e0c22"/>
<circle cx="105.40" cy="489.60" r="1.4" fill="#8e0c22"/>
<circle cx="106.70" cy="482.70" r="1.4" fill="#8e0c22"/>
<circle cx="108.00" cy="481.90" r="1.4" fill="#8e0c22"/>
<circle cx="108.70" cy="484.60" r="1.4" fill="#8e0c22"/>
<circle cx="109.20" cy="486.50" r="1.4" fill="#8e0c22"/>
<circle cx="110.00" cy="487.70" r="1.4" fill="#8e0c22"/>
<circle cx="110.60" cy="490.40" r="1.4" fill="#8e0c22"/>
<circle cx="106.70" cy="485.80" r="1.4" fill="#8e0c22"/>
<line x1="137.60" y1="424.40" x2="137.60" y2="492.60" stroke="#231f20" stroke-width="1.1"/>
<line x1="137.30" y1="492.40" x2="170.20" y2="492.40" stroke="#231f20" stroke-width="1.5"/>
<line x1="134.40" y1="492.00" x2="137.60" y2="492.00" stroke="#231f20" stroke-width="0.9"/>
<text x="132.40" y="494.30" font-size="6.4" text-anchor="end" fill="#231f20">0</text>
<line x1="134.40" y1="475.60" x2="137.60" y2="475.60" stroke="#231f20" stroke-width="0.9"/>
<text x="132.40" y="477.90" font-size="6.4" text-anchor="end" fill="#231f20">0.5</text>
<line x1="134.40" y1="459.20" x2="137.60" y2="459.20" stroke="#231f20" stroke-width="0.9"/>
<text x="132.40" y="461.50" font-size="6.4" text-anchor="end" fill="#231f20">1</text>
<line x1="134.40" y1="442.80" x2="137.60" y2="442.80" stroke="#231f20" stroke-width="0.9"/>
<text x="132.40" y="445.10" font-size="6.4" text-anchor="end" fill="#231f20">1.5</text>
<line x1="134.40" y1="426.40" x2="137.60" y2="426.40" stroke="#231f20" stroke-width="0.9"/>
<text x="132.40" y="428.70" font-size="6.4" text-anchor="end" fill="#231f20">2</text>
<line x1="143.50" y1="453.62" x2="143.50" y2="485.77" stroke="#4a4a4a" stroke-width="0.8"/>
<line x1="141.70" y1="453.62" x2="145.30" y2="453.62" stroke="#4a4a4a" stroke-width="0.8"/>
<line x1="141.70" y1="485.77" x2="145.30" y2="485.77" stroke="#4a4a4a" stroke-width="0.8"/>
<rect x="140.90" y="469.37" width="5.20" height="9.84" fill="#8ec0ec"/>
<line x1="140.90" y1="475.93" x2="146.10" y2="475.93" stroke="#231f20" stroke-width="1.0"/>
<path d="M143.50,452.00 L144.80,453.30 L143.50,454.60 L142.20,453.30Z" fill="#8ec0ec" stroke="#5a8ab0" stroke-width="0.4"/>
<text x="146.90" y="499.00" font-size="6.6" text-anchor="end" fill="#231f20" transform="rotate(-45 146.90 499.00)">Weak</text>
<line x1="154.00" y1="463.46" x2="154.00" y2="488.39" stroke="#4a4a4a" stroke-width="0.8"/>
<line x1="152.20" y1="463.46" x2="155.80" y2="463.46" stroke="#4a4a4a" stroke-width="0.8"/>
<line x1="152.20" y1="488.39" x2="155.80" y2="488.39" stroke="#4a4a4a" stroke-width="0.8"/>
<rect x="151.40" y="476.58" width="5.20" height="7.22" fill="#f3cd5c"/>
<line x1="151.40" y1="479.21" x2="156.60" y2="479.21" stroke="#231f20" stroke-width="1.0"/>
<path d="M154.00,461.18 L155.30,462.48 L154.00,463.78 L152.70,462.48Z" fill="#d0a010" stroke="#8e7000" stroke-width="0.4"/>
<path d="M154.00,457.24 L155.30,458.54 L154.00,459.84 L152.70,458.54Z" fill="#d0a010" stroke="#8e7000" stroke-width="0.4"/>
<text x="157.40" y="499.00" font-size="6.6" text-anchor="end" fill="#231f20" transform="rotate(-45 157.40 499.00)">Intermediate</text>
<line x1="164.50" y1="473.96" x2="164.50" y2="491.34" stroke="#4a4a4a" stroke-width="0.8"/>
<line x1="162.70" y1="473.96" x2="166.30" y2="473.96" stroke="#4a4a4a" stroke-width="0.8"/>
<line x1="162.70" y1="491.34" x2="166.30" y2="491.34" stroke="#4a4a4a" stroke-width="0.8"/>
<rect x="161.90" y="480.19" width="5.20" height="8.20" fill="#c0504d"/>
<line x1="161.90" y1="484.13" x2="167.10" y2="484.13" stroke="#231f20" stroke-width="1.0"/>
<text x="167.90" y="499.00" font-size="6.6" text-anchor="end" fill="#231f20" transform="rotate(-45 167.90 499.00)">High</text>
<path d="M144.20,418.20 L144.20,416.20 L162.90,416.20 L162.90,418.20" fill="none" stroke="#231f20" stroke-width="0.8"/>
<rect x="151.30" y="413.00" width="1.2" height="1.2" fill="#231f20"/>
<rect x="153.10" y="413.00" width="1.2" height="1.2" fill="#231f20"/>
<rect x="154.90" y="413.00" width="1.2" height="1.2" fill="#231f20"/>
<path d="M144.20,424.60 L144.20,422.60 L152.00,422.60 L152.00,424.60" fill="none" stroke="#231f20" stroke-width="0.8"/>
<rect x="147.90" y="419.40" width="1.2" height="1.2" fill="#231f20"/>
<path d="M155.50,424.60 L155.50,422.60 L162.90,422.60 L162.90,424.60" fill="none" stroke="#231f20" stroke-width="0.8"/>
<rect x="157.90" y="419.40" width="1.2" height="1.2" fill="#231f20"/>
<rect x="159.70" y="419.40" width="1.2" height="1.2" fill="#231f20"/>
<text x="180.20" y="402.40" font-size="12.3" text-anchor="start" fill="#000" font-weight="bold" textLength="6.4" lengthAdjust="spacingAndGlyphs">F</text>
<line x1="206.70" y1="424.40" x2="206.70" y2="492.30" stroke="#231f20" stroke-width="1.1"/>
<line x1="206.40" y1="492.00" x2="289.40" y2="492.00" stroke="#231f20" stroke-width="1.1"/>
<line x1="203.50" y1="492.00" x2="206.70" y2="492.00" stroke="#231f20" stroke-width="0.9"/>
<text x="201.40" y="494.30" font-size="6.6" text-anchor="end" fill="#231f20">0</text>
<line x1="203.50" y1="475.60" x2="206.70" y2="475.60" stroke="#231f20" stroke-width="0.9"/>
<text x="201.40" y="477.90" font-size="6.6" text-anchor="end" fill="#231f20">0.5</text>
<line x1="203.50" y1="459.20" x2="206.70" y2="459.20" stroke="#231f20" stroke-width="0.9"/>
<text x="201.40" y="461.50" font-size="6.6" text-anchor="end" fill="#231f20">1</text>
<line x1="203.50" y1="442.80" x2="206.70" y2="442.80" stroke="#231f20" stroke-width="0.9"/>
<text x="201.40" y="445.10" font-size="6.6" text-anchor="end" fill="#231f20">1.5</text>
<line x1="203.50" y1="426.40" x2="206.70" y2="426.40" stroke="#231f20" stroke-width="0.9"/>
<text x="201.40" y="428.70" font-size="6.6" text-anchor="end" fill="#231f20">2</text>
<line x1="206.70" y1="492.00" x2="206.70" y2="494.80" stroke="#231f20" stroke-width="0.9"/>
<text x="206.70" y="503.80" font-size="6.4" text-anchor="middle" fill="#231f20">0</text>
<line x1="222.60" y1="492.00" x2="222.60" y2="494.80" stroke="#231f20" stroke-width="0.9"/>
<text x="222.60" y="503.80" font-size="6.4" text-anchor="middle" fill="#231f20">20</text>
<line x1="238.50" y1="492.00" x2="238.50" y2="494.80" stroke="#231f20" stroke-width="0.9"/>
<text x="238.50" y="503.80" font-size="6.4" text-anchor="middle" fill="#231f20">40</text>
<line x1="254.40" y1="492.00" x2="254.40" y2="494.80" stroke="#231f20" stroke-width="0.9"/>
<text x="254.40" y="503.80" font-size="6.4" text-anchor="middle" fill="#231f20">60</text>
<line x1="270.30" y1="492.00" x2="270.30" y2="494.80" stroke="#231f20" stroke-width="0.9"/>
<text x="270.30" y="503.80" font-size="6.4" text-anchor="middle" fill="#231f20">80</text>
<line x1="286.20" y1="492.00" x2="286.20" y2="494.80" stroke="#231f20" stroke-width="0.9"/>
<text x="286.20" y="503.80" font-size="6.4" text-anchor="middle" fill="#231f20">100</text>
<text x="225.60" y="515.80" font-size="9.3" text-anchor="start" fill="#231f20" textLength="42.3" lengthAdjust="spacingAndGlyphs">% methylation</text>
<text x="208.10" y="418.20" font-size="6.3" text-anchor="start" fill="#231f20">r=-0.43,R<tspan font-size="4.1" dy="-2.3">2</tspan><tspan dy="2.3">=0.18, p=8.0x10</tspan><tspan font-size="4.1" dy="-2.3">-5</tspan><tspan dy="2.3"></tspan></text>
<text x="186.10" y="459.50" font-size="7.6" text-anchor="middle" fill="#231f20" textLength="94" lengthAdjust="spacingAndGlyphs" transform="rotate(-90 186.10 459.50)">Relative <tspan font-style="italic">ASNS</tspan> gene expression</text>
<rect x="205.10" y="529.00" width="2.4" height="2.4" fill="#1b2a5e"/>
<text x="211.00" y="532.30" font-size="5.8" text-anchor="start" fill="#231f20" textLength="24.5" lengthAdjust="spacingAndGlyphs">0 – 33.3%</text>
<path d="M206.30,537.10 L208.20,539.00 L206.30,540.90 L204.40,539.00Z" fill="#c49e14" stroke="#6a5400" stroke-width="0.45"/>
<text x="211.00" y="541.10" font-size="5.8" text-anchor="start" fill="#231f20" textLength="32.3" lengthAdjust="spacingAndGlyphs">33.4 – 66.6%</text>
<circle cx="253.40" cy="530.20" r="1.45" fill="#8e0c22"/>
<text x="257.70" y="532.30" font-size="5.8" text-anchor="start" fill="#231f20" textLength="30.2" lengthAdjust="spacingAndGlyphs">66.7 – 100%</text>
<rect x="214.40" y="435.90" width="2.0" height="2.0" fill="#1b2a5e"/>
<rect x="208.60" y="442.10" width="2.0" height="2.0" fill="#1b2a5e"/>
<rect x="206.30" y="444.00" width="2.0" height="2.0" fill="#1b2a5e"/>
<rect x="212.50" y="449.00" width="2.0" height="2.0" fill="#1b2a5e"/>
<rect x="208.20" y="455.50" width="2.0" height="2.0" fill="#1b2a5e"/>
<rect x="207.70" y="457.10" width="2.0" height="2.0" fill="#1b2a5e"/>
<rect x="232.10" y="451.30" width="2.0" height="2.0" fill="#1b2a5e"/>
<rect x="206.30" y="462.50" width="2.0" height="2.0" fill="#1b2a5e"/>
<rect x="210.50" y="464.80" width="2.0" height="2.0" fill="#1b2a5e"/>
<rect x="212.10" y="464.80" width="2.0" height="2.0" fill="#1b2a5e"/>
<rect x="206.70" y="467.10" width="2.0" height="2.0" fill="#1b2a5e"/>
<rect x="219.80" y="462.50" width="2.0" height="2.0" fill="#1b2a5e"/>
<rect x="218.20" y="470.20" width="2.0" height="2.0" fill="#1b2a5e"/>
<rect x="221.10" y="469.40" width="2.0" height="2.0" fill="#1b2a5e"/>
<rect x="225.00" y="470.70" width="2.0" height="2.0" fill="#1b2a5e"/>
<rect x="221.10" y="474.60" width="2.0" height="2.0" fill="#1b2a5e"/>
<rect x="223.00" y="475.20" width="2.0" height="2.0" fill="#1b2a5e"/>
<rect x="225.00" y="475.20" width="2.0" height="2.0" fill="#1b2a5e"/>
<rect x="227.80" y="474.60" width="2.0" height="2.0" fill="#1b2a5e"/>
<rect x="231.30" y="474.60" width="2.0" height="2.0" fill="#1b2a5e"/>
<rect x="231.30" y="466.30" width="2.0" height="2.0" fill="#1b2a5e"/>
<rect x="206.70" y="477.50" width="2.0" height="2.0" fill="#1b2a5e"/>
<rect x="208.20" y="476.00" width="2.0" height="2.0" fill="#1b2a5e"/>
<rect x="210.90" y="477.00" width="2.0" height="2.0" fill="#1b2a5e"/>
<rect x="212.50" y="479.80" width="2.0" height="2.0" fill="#1b2a5e"/>
<rect x="209.60" y="465.00" width="2.0" height="2.0" fill="#1b2a5e"/>
<rect x="211.50" y="464.40" width="2.0" height="2.0" fill="#1b2a5e"/>
<path d="M235.60,435.20 L236.90,436.50 L235.60,437.80 L234.30,436.50Z" fill="#c49e14" stroke="#6a5400" stroke-width="0.4"/>
<path d="M242.30,433.30 L243.60,434.60 L242.30,435.90 L241.00,434.60Z" fill="#c49e14" stroke="#6a5400" stroke-width="0.4"/>
<path d="M257.30,439.50 L258.60,440.80 L257.30,442.10 L256.00,440.80Z" fill="#c49e14" stroke="#6a5400" stroke-width="0.4"/>
<path d="M237.50,448.10 L238.80,449.40 L237.50,450.70 L236.20,449.40Z" fill="#c49e14" stroke="#6a5400" stroke-width="0.4"/>
<path d="M239.40,454.90 L240.70,456.20 L239.40,457.50 L238.10,456.20Z" fill="#c49e14" stroke="#6a5400" stroke-width="0.4"/>
<path d="M237.50,458.70 L238.80,460.00 L237.50,461.30 L236.20,460.00Z" fill="#c49e14" stroke="#6a5400" stroke-width="0.4"/>
<path d="M236.20,462.20 L237.50,463.50 L236.20,464.80 L234.90,463.50Z" fill="#c49e14" stroke="#6a5400" stroke-width="0.4"/>
<path d="M248.10,464.50 L249.40,465.80 L248.10,467.10 L246.80,465.80Z" fill="#c49e14" stroke="#6a5400" stroke-width="0.4"/>
<path d="M259.60,469.90 L260.90,471.20 L259.60,472.50 L258.30,471.20Z" fill="#c49e14" stroke="#6a5400" stroke-width="0.4"/>
<path d="M235.60,471.00 L236.90,472.30 L235.60,473.60 L234.30,472.30Z" fill="#c49e14" stroke="#6a5400" stroke-width="0.4"/>
<path d="M237.50,471.70 L238.80,473.00 L237.50,474.30 L236.20,473.00Z" fill="#c49e14" stroke="#6a5400" stroke-width="0.4"/>
<path d="M240.40,468.50 L241.70,469.80 L240.40,471.10 L239.10,469.80Z" fill="#c49e14" stroke="#6a5400" stroke-width="0.4"/>
<path d="M242.70,469.90 L244.00,471.20 L242.70,472.50 L241.40,471.20Z" fill="#c49e14" stroke="#6a5400" stroke-width="0.4"/>
<path d="M245.20,468.50 L246.50,469.80 L245.20,471.10 L243.90,469.80Z" fill="#c49e14" stroke="#6a5400" stroke-width="0.4"/>
<path d="M241.30,473.30 L242.60,474.60 L241.30,475.90 L240.00,474.60Z" fill="#c49e14" stroke="#6a5400" stroke-width="0.4"/>
<path d="M245.20,472.40 L246.50,473.70 L245.20,475.00 L243.90,473.70Z" fill="#c49e14" stroke="#6a5400" stroke-width="0.4"/>
<path d="M239.40,477.20 L240.70,478.50 L239.40,479.80 L238.10,478.50Z" fill="#c49e14" stroke="#6a5400" stroke-width="0.4"/>
<path d="M245.20,475.20 L246.50,476.50 L245.20,477.80 L243.90,476.50Z" fill="#c49e14" stroke="#6a5400" stroke-width="0.4"/>
<path d="M249.00,476.20 L250.30,477.50 L249.00,478.80 L247.70,477.50Z" fill="#c49e14" stroke="#6a5400" stroke-width="0.4"/>
<path d="M238.50,479.10 L239.80,480.40 L238.50,481.70 L237.20,480.40Z" fill="#c49e14" stroke="#6a5400" stroke-width="0.4"/>
<path d="M240.40,480.00 L241.70,481.30 L240.40,482.60 L239.10,481.30Z" fill="#c49e14" stroke="#6a5400" stroke-width="0.4"/>
<path d="M243.80,480.60 L245.10,481.90 L243.80,483.20 L242.50,481.90Z" fill="#c49e14" stroke="#6a5400" stroke-width="0.4"/>
<path d="M246.50,479.50 L247.80,480.80 L246.50,482.10 L245.20,480.80Z" fill="#c49e14" stroke="#6a5400" stroke-width="0.4"/>
<path d="M249.60,478.70 L250.90,480.00 L249.60,481.30 L248.30,480.00Z" fill="#c49e14" stroke="#6a5400" stroke-width="0.4"/>
<path d="M253.80,474.90 L255.10,476.20 L253.80,477.50 L252.50,476.20Z" fill="#c49e14" stroke="#6a5400" stroke-width="0.4"/>
<path d="M249.60,484.50 L250.90,485.80 L249.60,487.10 L248.30,485.80Z" fill="#c49e14" stroke="#6a5400" stroke-width="0.4"/>
<path d="M258.70,473.30 L260.00,474.60 L258.70,475.90 L257.40,474.60Z" fill="#c49e14" stroke="#6a5400" stroke-width="0.4"/>
<path d="M259.60,469.10 L260.90,470.40 L259.60,471.70 L258.30,470.40Z" fill="#c49e14" stroke="#6a5400" stroke-width="0.4"/>
<circle cx="263.00" cy="472.70" r="1.4" fill="#8e0c22"/>
<circle cx="262.50" cy="483.30" r="1.4" fill="#8e0c22"/>
<circle cx="270.80" cy="483.30" r="1.4" fill="#8e0c22"/>
<circle cx="272.10" cy="479.40" r="1.4" fill="#8e0c22"/>
<circle cx="275.00" cy="466.90" r="1.4" fill="#8e0c22"/>
<circle cx="278.50" cy="486.50" r="1.4" fill="#8e0c22"/>
<circle cx="279.80" cy="479.40" r="1.4" fill="#8e0c22"/>
<circle cx="280.80" cy="480.80" r="1.4" fill="#8e0c22"/>
<circle cx="282.30" cy="468.50" r="1.4" fill="#8e0c22"/>
<circle cx="283.00" cy="464.60" r="1.4" fill="#8e0c22"/>
<circle cx="281.70" cy="486.50" r="1.4" fill="#8e0c22"/>
<circle cx="283.00" cy="487.70" r="1.4" fill="#8e0c22"/>
<circle cx="284.20" cy="489.00" r="1.4" fill="#8e0c22"/>
<line x1="310.10" y1="424.40" x2="310.10" y2="492.60" stroke="#231f20" stroke-width="1.1"/>
<line x1="309.80" y1="492.40" x2="342.70" y2="492.40" stroke="#231f20" stroke-width="1.5"/>
<line x1="306.90" y1="492.00" x2="310.10" y2="492.00" stroke="#231f20" stroke-width="0.9"/>
<text x="304.90" y="494.30" font-size="6.4" text-anchor="end" fill="#231f20">0</text>
<line x1="306.90" y1="475.60" x2="310.10" y2="475.60" stroke="#231f20" stroke-width="0.9"/>
<text x="304.90" y="477.90" font-size="6.4" text-anchor="end" fill="#231f20">0.5</text>
<line x1="306.90" y1="459.20" x2="310.10" y2="459.20" stroke="#231f20" stroke-width="0.9"/>
<text x="304.90" y="461.50" font-size="6.4" text-anchor="end" fill="#231f20">1</text>
<line x1="306.90" y1="442.80" x2="310.10" y2="442.80" stroke="#231f20" stroke-width="0.9"/>
<text x="304.90" y="445.10" font-size="6.4" text-anchor="end" fill="#231f20">1.5</text>
<line x1="306.90" y1="426.40" x2="310.10" y2="426.40" stroke="#231f20" stroke-width="0.9"/>
<text x="304.90" y="428.70" font-size="6.4" text-anchor="end" fill="#231f20">2</text>
<line x1="316.00" y1="436.90" x2="316.00" y2="479.86" stroke="#4a4a4a" stroke-width="0.8"/>
<line x1="314.20" y1="436.90" x2="317.80" y2="436.90" stroke="#4a4a4a" stroke-width="0.8"/>
<line x1="314.20" y1="479.86" x2="317.80" y2="479.86" stroke="#4a4a4a" stroke-width="0.8"/>
<rect x="313.40" y="459.20" width="5.20" height="16.40" fill="#8ec0ec"/>
<line x1="313.40" y1="467.40" x2="318.60" y2="467.40" stroke="#231f20" stroke-width="1.0"/>
<text x="319.40" y="499.00" font-size="6.6" text-anchor="end" fill="#231f20" transform="rotate(-45 319.40 499.00)">Weak</text>
<line x1="326.50" y1="456.58" x2="326.50" y2="484.78" stroke="#4a4a4a" stroke-width="0.8"/>
<line x1="324.70" y1="456.58" x2="328.30" y2="456.58" stroke="#4a4a4a" stroke-width="0.8"/>
<line x1="324.70" y1="484.78" x2="328.30" y2="484.78" stroke="#4a4a4a" stroke-width="0.8"/>
<rect x="323.90" y="469.04" width="5.20" height="7.87" fill="#f3cd5c"/>
<line x1="323.90" y1="471.66" x2="329.10" y2="471.66" stroke="#231f20" stroke-width="1.0"/>
<path d="M326.50,454.62 L327.80,455.92 L326.50,457.22 L325.20,455.92Z" fill="#d0a010" stroke="#8e7000" stroke-width="0.4"/>
<path d="M326.50,445.44 L327.80,446.74 L326.50,448.04 L325.20,446.74Z" fill="#d0a010" stroke="#8e7000" stroke-width="0.4"/>
<path d="M326.50,438.22 L327.80,439.52 L326.50,440.82 L325.20,439.52Z" fill="#d0a010" stroke="#8e7000" stroke-width="0.4"/>
<path d="M326.50,434.94 L327.80,436.24 L326.50,437.54 L325.20,436.24Z" fill="#d0a010" stroke="#8e7000" stroke-width="0.4"/>
<path d="M326.50,433.96 L327.80,435.26 L326.50,436.56 L325.20,435.26Z" fill="#d0a010" stroke="#8e7000" stroke-width="0.4"/>
<text x="329.90" y="499.00" font-size="6.6" text-anchor="end" fill="#231f20" transform="rotate(-45 329.90 499.00)">Intermediate</text>
<line x1="337.00" y1="463.46" x2="337.00" y2="489.38" stroke="#4a4a4a" stroke-width="0.8"/>
<line x1="335.20" y1="463.46" x2="338.80" y2="463.46" stroke="#4a4a4a" stroke-width="0.8"/>
<line x1="335.20" y1="489.38" x2="338.80" y2="489.38" stroke="#4a4a4a" stroke-width="0.8"/>
<rect x="334.40" y="471.66" width="5.20" height="13.78" fill="#c0504d"/>
<line x1="334.40" y1="478.88" x2="339.60" y2="478.88" stroke="#231f20" stroke-width="1.0"/>
<text x="340.40" y="499.00" font-size="6.6" text-anchor="end" fill="#231f20" transform="rotate(-45 340.40 499.00)">High</text>
<path d="M316.90,417.30 L316.90,415.30 L335.80,415.30 L335.80,417.30" fill="none" stroke="#231f20" stroke-width="0.8"/>
<rect x="324.00" y="412.10" width="1.2" height="1.2" fill="#231f20"/>
<rect x="325.80" y="412.10" width="1.2" height="1.2" fill="#231f20"/>
<rect x="327.60" y="412.10" width="1.2" height="1.2" fill="#231f20"/>
<path d="M327.80,424.10 L327.80,422.10 L335.80,422.10 L335.80,424.10" fill="none" stroke="#231f20" stroke-width="0.8"/>
<rect x="330.30" y="418.90" width="1.2" height="1.2" fill="#231f20"/>
<rect x="332.10" y="418.90" width="1.2" height="1.2" fill="#231f20"/>
<text x="352.20" y="402.40" font-size="12.3" text-anchor="start" fill="#000" font-weight="bold" textLength="8.4" lengthAdjust="spacingAndGlyphs">G</text>
<line x1="378.70" y1="424.40" x2="378.70" y2="492.30" stroke="#231f20" stroke-width="1.1"/>
<line x1="378.40" y1="492.00" x2="461.40" y2="492.00" stroke="#231f20" stroke-width="1.1"/>
<line x1="375.50" y1="492.50" x2="378.70" y2="492.50" stroke="#231f20" stroke-width="0.9"/>
<text x="373.40" y="494.80" font-size="6.6" text-anchor="end" fill="#231f20">0</text>
<line x1="375.50" y1="481.50" x2="378.70" y2="481.50" stroke="#231f20" stroke-width="0.9"/>
<text x="373.40" y="483.80" font-size="6.6" text-anchor="end" fill="#231f20">2</text>
<line x1="375.50" y1="470.50" x2="378.70" y2="470.50" stroke="#231f20" stroke-width="0.9"/>
<text x="373.40" y="472.80" font-size="6.6" text-anchor="end" fill="#231f20">4</text>
<line x1="375.50" y1="459.50" x2="378.70" y2="459.50" stroke="#231f20" stroke-width="0.9"/>
<text x="373.40" y="461.80" font-size="6.6" text-anchor="end" fill="#231f20">6</text>
<line x1="375.50" y1="448.50" x2="378.70" y2="448.50" stroke="#231f20" stroke-width="0.9"/>
<text x="373.40" y="450.80" font-size="6.6" text-anchor="end" fill="#231f20">8</text>
<line x1="375.50" y1="437.50" x2="378.70" y2="437.50" stroke="#231f20" stroke-width="0.9"/>
<text x="373.40" y="439.80" font-size="6.6" text-anchor="end" fill="#231f20">10</text>
<line x1="375.50" y1="426.50" x2="378.70" y2="426.50" stroke="#231f20" stroke-width="0.9"/>
<text x="373.40" y="428.80" font-size="6.6" text-anchor="end" fill="#231f20">12</text>
<line x1="378.70" y1="492.00" x2="378.70" y2="494.80" stroke="#231f20" stroke-width="0.9"/>
<text x="378.70" y="503.80" font-size="6.4" text-anchor="middle" fill="#231f20">0</text>
<line x1="394.60" y1="492.00" x2="394.60" y2="494.80" stroke="#231f20" stroke-width="0.9"/>
<text x="394.60" y="503.80" font-size="6.4" text-anchor="middle" fill="#231f20">20</text>
<line x1="410.50" y1="492.00" x2="410.50" y2="494.80" stroke="#231f20" stroke-width="0.9"/>
<text x="410.50" y="503.80" font-size="6.4" text-anchor="middle" fill="#231f20">40</text>
<line x1="426.40" y1="492.00" x2="426.40" y2="494.80" stroke="#231f20" stroke-width="0.9"/>
<text x="426.40" y="503.80" font-size="6.4" text-anchor="middle" fill="#231f20">60</text>
<line x1="442.30" y1="492.00" x2="442.30" y2="494.80" stroke="#231f20" stroke-width="0.9"/>
<text x="442.30" y="503.80" font-size="6.4" text-anchor="middle" fill="#231f20">80</text>
<line x1="458.20" y1="492.00" x2="458.20" y2="494.80" stroke="#231f20" stroke-width="0.9"/>
<text x="458.20" y="503.80" font-size="6.4" text-anchor="middle" fill="#231f20">100</text>
<text x="397.60" y="515.80" font-size="9.3" text-anchor="start" fill="#231f20" textLength="42.3" lengthAdjust="spacingAndGlyphs">% methylation</text>
<text x="380.10" y="418.20" font-size="6.3" text-anchor="start" fill="#231f20">r=-0.64,R<tspan font-size="4.1" dy="-2.3">2</tspan><tspan dy="2.3">=0.41, p=8.6x10</tspan><tspan font-size="4.1" dy="-2.3">-11</tspan><tspan dy="2.3"></tspan></text>
<text x="358.70" y="459.20" font-size="7.6" text-anchor="middle" fill="#231f20" textLength="105.7" lengthAdjust="spacingAndGlyphs" transform="rotate(-90 358.70 459.20)">Relative expression of ASNS protein</text>
<rect x="377.10" y="529.00" width="2.4" height="2.4" fill="#1b2a5e"/>
<text x="383.00" y="532.30" font-size="5.8" text-anchor="start" fill="#231f20" textLength="24.5" lengthAdjust="spacingAndGlyphs">0 – 33.3%</text>
<path d="M378.30,537.10 L380.20,539.00 L378.30,540.90 L376.40,539.00Z" fill="#c49e14" stroke="#6a5400" stroke-width="0.45"/>
<text x="383.00" y="541.10" font-size="5.8" text-anchor="start" fill="#231f20" textLength="32.3" lengthAdjust="spacingAndGlyphs">33.4 – 66.6%</text>
<circle cx="425.40" cy="530.20" r="1.45" fill="#8e0c22"/>
<text x="429.70" y="532.30" font-size="5.8" text-anchor="start" fill="#231f20" textLength="30.2" lengthAdjust="spacingAndGlyphs">66.7 – 100%</text>
<rect x="378.20" y="426.70" width="2.0" height="2.0" fill="#1b2a5e"/>
<rect x="378.20" y="461.10" width="2.0" height="2.0" fill="#1b2a5e"/>
<rect x="382.80" y="468.20" width="2.0" height="2.0" fill="#1b2a5e"/>
<rect x="403.20" y="472.10" width="2.0" height="2.0" fill="#1b2a5e"/>
<rect x="378.20" y="475.50" width="2.0" height="2.0" fill="#1b2a5e"/>
<rect x="379.60" y="479.00" width="2.0" height="2.0" fill="#1b2a5e"/>
<rect x="378.20" y="482.80" width="2.0" height="2.0" fill="#1b2a5e"/>
<rect x="379.00" y="485.20" width="2.0" height="2.0" fill="#1b2a5e"/>
<rect x="380.90" y="487.50" width="2.0" height="2.0" fill="#1b2a5e"/>
<rect x="384.00" y="483.60" width="2.0" height="2.0" fill="#1b2a5e"/>
<rect x="382.80" y="488.00" width="2.0" height="2.0" fill="#1b2a5e"/>
<rect x="385.90" y="488.60" width="2.0" height="2.0" fill="#1b2a5e"/>
<rect x="387.30" y="488.60" width="2.0" height="2.0" fill="#1b2a5e"/>
<rect x="392.50" y="478.40" width="2.0" height="2.0" fill="#1b2a5e"/>
<rect x="390.50" y="485.20" width="2.0" height="2.0" fill="#1b2a5e"/>
<rect x="393.00" y="484.20" width="2.0" height="2.0" fill="#1b2a5e"/>
<rect x="396.90" y="478.40" width="2.0" height="2.0" fill="#1b2a5e"/>
<rect x="399.40" y="479.80" width="2.0" height="2.0" fill="#1b2a5e"/>
<rect x="397.80" y="481.70" width="2.0" height="2.0" fill="#1b2a5e"/>
<rect x="395.50" y="489.40" width="2.0" height="2.0" fill="#1b2a5e"/>
<rect x="396.90" y="490.50" width="2.0" height="2.0" fill="#1b2a5e"/>
<rect x="404.00" y="480.30" width="2.0" height="2.0" fill="#1b2a5e"/>
<rect x="402.70" y="488.00" width="2.0" height="2.0" fill="#1b2a5e"/>
<rect x="380.20" y="486.70" width="2.0" height="2.0" fill="#1b2a5e"/>
<path d="M412.30,479.30 L413.60,480.60 L412.30,481.90 L411.00,480.60Z" fill="#c49e14" stroke="#6a5400" stroke-width="0.4"/>
<path d="M413.80,479.50 L415.10,480.80 L413.80,482.10 L412.50,480.80Z" fill="#c49e14" stroke="#6a5400" stroke-width="0.4"/>
<path d="M407.50,481.70 L408.80,483.00 L407.50,484.30 L406.20,483.00Z" fill="#c49e14" stroke="#6a5400" stroke-width="0.4"/>
<path d="M410.90,481.20 L412.20,482.50 L410.90,483.80 L409.60,482.50Z" fill="#c49e14" stroke="#6a5400" stroke-width="0.4"/>
<path d="M411.80,482.20 L413.10,483.50 L411.80,484.80 L410.50,483.50Z" fill="#c49e14" stroke="#6a5400" stroke-width="0.4"/>
<path d="M408.50,483.60 L409.80,484.90 L408.50,486.20 L407.20,484.90Z" fill="#c49e14" stroke="#6a5400" stroke-width="0.4"/>
<path d="M413.80,484.10 L415.10,485.40 L413.80,486.70 L412.50,485.40Z" fill="#c49e14" stroke="#6a5400" stroke-width="0.4"/>
<path d="M416.90,482.90 L418.20,484.20 L416.90,485.50 L415.60,484.20Z" fill="#c49e14" stroke="#6a5400" stroke-width="0.4"/>
<path d="M407.50,486.50 L408.80,487.80 L407.50,489.10 L406.20,487.80Z" fill="#c49e14" stroke="#6a5400" stroke-width="0.4"/>
<path d="M410.90,486.00 L412.20,487.30 L410.90,488.60 L409.60,487.30Z" fill="#c49e14" stroke="#6a5400" stroke-width="0.4"/>
<path d="M412.10,486.50 L413.40,487.80 L412.10,489.10 L410.80,487.80Z" fill="#c49e14" stroke="#6a5400" stroke-width="0.4"/>
<path d="M414.20,487.00 L415.50,488.30 L414.20,489.60 L412.90,488.30Z" fill="#c49e14" stroke="#6a5400" stroke-width="0.4"/>
<path d="M409.40,487.90 L410.70,489.20 L409.40,490.50 L408.10,489.20Z" fill="#c49e14" stroke="#6a5400" stroke-width="0.4"/>
<path d="M412.80,488.40 L414.10,489.70 L412.80,491.00 L411.50,489.70Z" fill="#c49e14" stroke="#6a5400" stroke-width="0.4"/>
<path d="M414.70,487.90 L416.00,489.20 L414.70,490.50 L413.40,489.20Z" fill="#c49e14" stroke="#6a5400" stroke-width="0.4"/>
<path d="M410.40,489.40 L411.70,490.70 L410.40,492.00 L409.10,490.70Z" fill="#c49e14" stroke="#6a5400" stroke-width="0.4"/>
<path d="M418.60,487.90 L419.90,489.20 L418.60,490.50 L417.30,489.20Z" fill="#c49e14" stroke="#6a5400" stroke-width="0.4"/>
<path d="M421.40,486.50 L422.70,487.80 L421.40,489.10 L420.10,487.80Z" fill="#c49e14" stroke="#6a5400" stroke-width="0.4"/>
<path d="M422.40,488.40 L423.70,489.70 L422.40,491.00 L421.10,489.70Z" fill="#c49e14" stroke="#6a5400" stroke-width="0.4"/>
<path d="M425.80,486.00 L427.10,487.30 L425.80,488.60 L424.50,487.30Z" fill="#c49e14" stroke="#6a5400" stroke-width="0.4"/>
<path d="M429.10,485.00 L430.40,486.30 L429.10,487.60 L427.80,486.30Z" fill="#c49e14" stroke="#6a5400" stroke-width="0.4"/>
<path d="M430.10,488.40 L431.40,489.70 L430.10,491.00 L428.80,489.70Z" fill="#c49e14" stroke="#6a5400" stroke-width="0.4"/>
<path d="M432.00,490.00 L433.30,491.30 L432.00,492.60 L430.70,491.30Z" fill="#c49e14" stroke="#6a5400" stroke-width="0.4"/>
<path d="M407.00,491.30 L408.30,492.60 L407.00,493.90 L405.70,492.60Z" fill="#c49e14" stroke="#6a5400" stroke-width="0.4"/>
<path d="M409.40,491.00 L410.70,492.30 L409.40,493.60 L408.10,492.30Z" fill="#c49e14" stroke="#6a5400" stroke-width="0.4"/>
<path d="M415.40,491.00 L416.70,492.30 L415.40,493.60 L414.10,492.30Z" fill="#c49e14" stroke="#6a5400" stroke-width="0.4"/>
<path d="M417.60,490.00 L418.90,491.30 L417.60,492.60 L416.30,491.30Z" fill="#c49e14" stroke="#6a5400" stroke-width="0.4"/>
<path d="M420.80,491.00 L422.10,492.30 L420.80,493.60 L419.50,492.30Z" fill="#c49e14" stroke="#6a5400" stroke-width="0.4"/>
<path d="M413.50,489.10 L414.80,490.40 L413.50,491.70 L412.20,490.40Z" fill="#c49e14" stroke="#6a5400" stroke-width="0.4"/>
<circle cx="435.80" cy="485.80" r="1.4" fill="#8e0c22"/>
<circle cx="435.40" cy="492.30" r="1.4" fill="#8e0c22"/>
<circle cx="443.10" cy="492.00" r="1.4" fill="#8e0c22"/>
<circle cx="446.90" cy="492.00" r="1.4" fill="#8e0c22"/>
<circle cx="450.80" cy="491.00" r="1.4" fill="#8e0c22"/>
<circle cx="453.10" cy="490.40" r="1.4" fill="#8e0c22"/>
<circle cx="456.20" cy="491.50" r="1.4" fill="#8e0c22"/>
<circle cx="457.50" cy="491.00" r="1.4" fill="#8e0c22"/>
<circle cx="454.20" cy="492.30" r="1.4" fill="#8e0c22"/>
<circle cx="453.70" cy="489.60" r="1.4" fill="#8e0c22"/>
<line x1="480.60" y1="424.40" x2="480.60" y2="492.60" stroke="#231f20" stroke-width="1.1"/>
<line x1="480.30" y1="492.40" x2="513.20" y2="492.40" stroke="#231f20" stroke-width="1.5"/>
<line x1="477.40" y1="492.50" x2="480.60" y2="492.50" stroke="#231f20" stroke-width="0.9"/>
<text x="475.40" y="494.80" font-size="6.4" text-anchor="end" fill="#231f20">0</text>
<line x1="477.40" y1="481.50" x2="480.60" y2="481.50" stroke="#231f20" stroke-width="0.9"/>
<text x="475.40" y="483.80" font-size="6.4" text-anchor="end" fill="#231f20">2</text>
<line x1="477.40" y1="470.50" x2="480.60" y2="470.50" stroke="#231f20" stroke-width="0.9"/>
<text x="475.40" y="472.80" font-size="6.4" text-anchor="end" fill="#231f20">4</text>
<line x1="477.40" y1="459.50" x2="480.60" y2="459.50" stroke="#231f20" stroke-width="0.9"/>
<text x="475.40" y="461.80" font-size="6.4" text-anchor="end" fill="#231f20">6</text>
<line x1="477.40" y1="448.50" x2="480.60" y2="448.50" stroke="#231f20" stroke-width="0.9"/>
<text x="475.40" y="450.80" font-size="6.4" text-anchor="end" fill="#231f20">8</text>
<line x1="477.40" y1="437.50" x2="480.60" y2="437.50" stroke="#231f20" stroke-width="0.9"/>
<text x="475.40" y="439.80" font-size="6.4" text-anchor="end" fill="#231f20">10</text>
<line x1="477.40" y1="426.50" x2="480.60" y2="426.50" stroke="#231f20" stroke-width="0.9"/>
<text x="475.40" y="428.80" font-size="6.4" text-anchor="end" fill="#231f20">12</text>
<line x1="486.50" y1="473.25" x2="486.50" y2="491.40" stroke="#4a4a4a" stroke-width="0.8"/>
<line x1="484.70" y1="473.25" x2="488.30" y2="473.25" stroke="#4a4a4a" stroke-width="0.8"/>
<line x1="484.70" y1="491.40" x2="488.30" y2="491.40" stroke="#4a4a4a" stroke-width="0.8"/>
<rect x="483.90" y="481.50" width="5.20" height="7.15" fill="#8ec0ec"/>
<line x1="483.90" y1="485.35" x2="489.10" y2="485.35" stroke="#231f20" stroke-width="1.0"/>
<path d="M486.50,459.85 L487.80,461.15 L486.50,462.45 L485.20,461.15Z" fill="#8ec0ec" stroke="#5a8ab0" stroke-width="0.4"/>
<path d="M486.50,426.30 L487.80,427.60 L486.50,428.90 L485.20,427.60Z" fill="#8ec0ec" stroke="#5a8ab0" stroke-width="0.4"/>
<text x="489.90" y="499.00" font-size="6.6" text-anchor="end" fill="#231f20" transform="rotate(-45 489.90 499.00)">Weak</text>
<line x1="497.00" y1="478.75" x2="497.00" y2="492.23" stroke="#4a4a4a" stroke-width="0.8"/>
<line x1="495.20" y1="478.75" x2="498.80" y2="478.75" stroke="#4a4a4a" stroke-width="0.8"/>
<line x1="495.20" y1="492.23" x2="498.80" y2="492.23" stroke="#4a4a4a" stroke-width="0.8"/>
<rect x="494.40" y="485.35" width="5.20" height="4.95" fill="#f3cd5c"/>
<line x1="494.40" y1="488.65" x2="499.60" y2="488.65" stroke="#231f20" stroke-width="1.0"/>
<text x="500.40" y="499.00" font-size="6.6" text-anchor="end" fill="#231f20" transform="rotate(-45 500.40 499.00)">Intermediate</text>
<line x1="507.50" y1="491.40" x2="507.50" y2="492.50" stroke="#4a4a4a" stroke-width="0.8"/>
<line x1="505.70" y1="491.40" x2="509.30" y2="491.40" stroke="#4a4a4a" stroke-width="0.8"/>
<line x1="505.70" y1="492.50" x2="509.30" y2="492.50" stroke="#4a4a4a" stroke-width="0.8"/>
<rect x="504.90" y="491.68" width="5.20" height="0.55" fill="#c0504d"/>
<line x1="504.90" y1="491.95" x2="510.10" y2="491.95" stroke="#231f20" stroke-width="1.0"/>
<circle cx="507.50" cy="485.35" r="1.1" fill="none" stroke="#c08060" stroke-width="0.7"/>
<circle cx="507.50" cy="491.40" r="1.1" fill="none" stroke="#c08060" stroke-width="0.7"/>
<text x="510.90" y="499.00" font-size="6.6" text-anchor="end" fill="#231f20" transform="rotate(-45 510.90 499.00)">High</text>
<path d="M487.40,417.30 L487.40,415.30 L505.60,415.30 L505.60,417.30" fill="none" stroke="#231f20" stroke-width="0.8"/>
<rect x="494.20" y="412.10" width="1.2" height="1.2" fill="#231f20"/>
<rect x="496.00" y="412.10" width="1.2" height="1.2" fill="#231f20"/>
<rect x="497.80" y="412.10" width="1.2" height="1.2" fill="#231f20"/>
<path d="M487.40,424.80 L487.40,422.80 L495.10,422.80 L495.10,424.80" fill="none" stroke="#231f20" stroke-width="0.8"/>
<rect x="489.60" y="419.60" width="1.2" height="1.2" fill="#231f20"/>
<rect x="491.40" y="419.60" width="1.2" height="1.2" fill="#231f20"/>
<path d="M498.10,424.80 L498.10,422.80 L505.60,422.80 L505.60,424.80" fill="none" stroke="#231f20" stroke-width="0.8"/>
<rect x="499.50" y="419.60" width="1.2" height="1.2" fill="#231f20"/>
<rect x="501.30" y="419.60" width="1.2" height="1.2" fill="#231f20"/>
<rect x="503.10" y="419.60" width="1.2" height="1.2" fill="#231f20"/>
<rect x="0.5" y="0.5" width="518.8" height="547.8" fill="none" stroke="#000" stroke-width="1.4"/>
</svg></body></html>
